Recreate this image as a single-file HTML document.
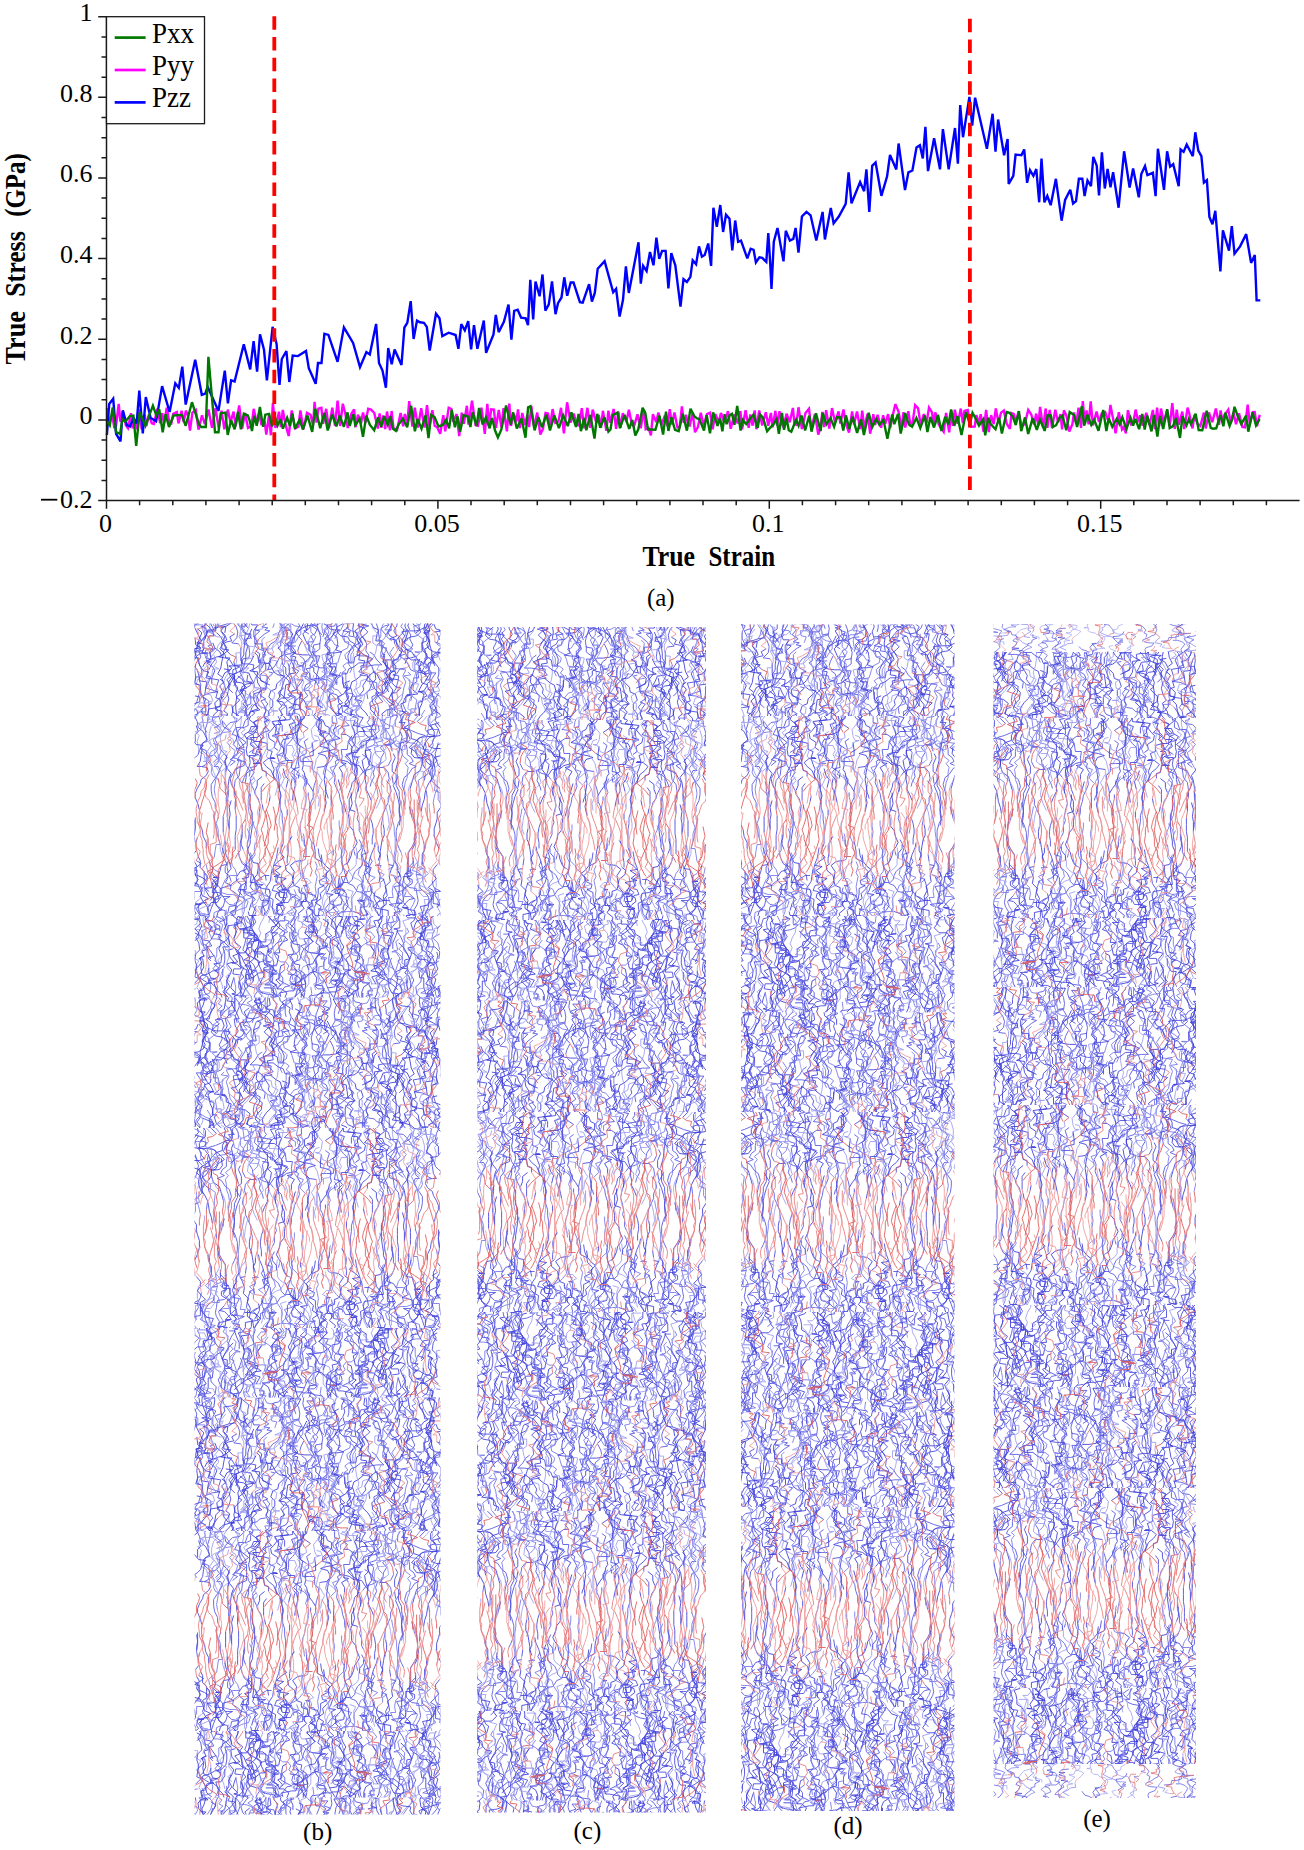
<!DOCTYPE html><html><head><meta charset="utf-8"><style>html,body{margin:0;padding:0;background:#fff;width:1304px;height:1850px;overflow:hidden}svg{display:block}text{font-family:"Liberation Serif",serif}</style></head><body>
<svg width="1304" height="1850" viewBox="0 0 1304 1850">
<rect width="1304" height="1850" fill="#fff"/>
<g fill="none" stroke-linejoin="miter" stroke-miterlimit="3" stroke-width="2.4">
<polyline stroke="#ff00ff" points="106.9,408.1 109.4,423 112.1,414.7 114.2,427 115.9,426.7 118.7,403.8 120.4,421.7 122.9,411.3 125.8,425.2 128,428.2 131,413.2 132.7,428.3 135.1,421.5 137.1,429.3 139.5,409.3 141.6,429.2 144.7,414.7 146.4,426 148.9,414.5 151.8,423.2 153.9,423.9 157.3,408.7 160.2,423.2 162.3,413.1 164,423.4 166.8,407.8 169.4,423 171.3,423.5 173.2,413.9 176.8,412.1 178.5,423.4 181.6,410.7 183.7,422.1 185.8,410.6 187.9,415.4 190,430.7 192.4,412.6 195.8,410 198.5,429.6 202,415.3 204.9,424.1 208.5,409.6 212,427.8 215.4,408.3 218.8,428.4 221.5,410.8 224.4,429.4 227.8,409.6 230.5,422.2 233.6,411.7 235.7,426.4 239.2,405.4 242.1,428.7 245.1,412.9 248,427.9 251.5,426.2 253.7,408.8 257,423.7 258.9,413.8 261.3,424 264.7,422.1 266.3,434.5 269,415.3 270.9,435.3 272.9,403.1 275.4,428 279,411.7 280.9,427.2 282.8,409.9 285.5,424.6 288.7,436 291.7,410.5 295.2,428.5 298.4,426.7 300.4,410.4 303.4,429.3 307,412.9 310.5,414.8 313,425.4 314.6,401.9 316.5,422.6 318.4,408.8 321.4,407.9 323.1,423.8 326.2,408.8 328.9,428.3 332.3,407.8 335,425.8 337.6,400.7 340.2,426 342.8,403.7 345.2,413.3 347.8,428 351.2,414 354.1,409.3 355.7,427 357.9,414.7 361,423.5 363,412.5 365.4,423.1 368.2,408.7 371.1,409.6 374.3,413 377.8,428.6 379.6,413.4 381.4,427.8 383.2,415.4 385.2,429.2 387,411.5 390,430.2 391.6,411 393.5,428.2 397.1,429.9 400.6,412.9 403.2,426.3 404.8,414 407.3,423.1 409.2,401.2 412.4,426.5 414.8,407.6 418,427.5 421.2,408.3 424.6,427.6 427,405.1 429.5,426.6 432.4,410.2 434.7,425.8 437,427.1 440.2,433.8 443.3,415.1 445.2,431.3 448.7,407.8 451.4,409 453.1,421.9 456.6,414.1 459.2,436.1 461.7,412.6 463.8,423.8 466.9,405.8 468.5,424.6 472,400.6 475.5,424.9 478,425.7 481.5,407.7 484.8,433.9 487.3,403.8 489.1,425.1 491.2,409.3 493.9,409.6 495.9,427.8 498.8,410 501.5,427.5 503.5,408.2 506.9,431.4 509.3,403.7 511,425.9 513.9,413.8 516.2,422.1 518,409.3 520,428 522.3,412.9 525,424.9 527.4,414.9 529.1,427 531.3,406 534.2,427.3 537.2,412.6 540.3,434.5 543,428.8 545.5,413 547.9,413.5 550.2,424.7 552.6,409.1 555.3,422.9 558.4,421.7 561,407.8 563.9,433.3 567.1,402.3 570.6,422.7 573.7,413.7 576.8,424.7 579.1,425.4 581.8,408.2 584.2,428.3 587.4,407.8 590.3,427.9 592.7,409.6 596.4,423.1 598.8,415 601,427.7 602.9,410.8 606.4,430.8 608.4,410.7 610.4,422.9 613.6,409 616.1,428.8 618.4,411.6 620.4,427.9 622.8,413.3 626.4,421.6 628.9,409.8 631.8,424.1 633.9,426.6 637.5,414.3 640.7,428.3 643.9,409.8 645.7,429.1 648.5,427.8 650.9,435.3 652.9,414.2 656.2,422.1 658.4,412.6 661.4,425.2 664.9,415.4 667.3,426 669.8,409.1 671.8,424.5 674.5,412.4 677.4,427.4 679.7,427.3 681.9,406.5 683.7,422.9 686.1,414.8 688.1,424.8 689.8,425.6 692.7,412.4 695,432.3 698,426.8 700.8,412.8 703.7,425.6 706.9,414.2 710.1,412.7 712.7,429.4 715.3,413.9 718.8,422.2 720.9,412.9 724.4,422.5 728,411.2 730.7,428.8 734.3,414.5 737.6,423.4 740.4,411.1 742.1,429.4 745.6,410.1 748.7,427.9 750.3,414.4 752.6,425.7 754.7,410.4 756.4,429.2 759.2,410.5 762.2,425.4 765.8,412.2 768.3,425.7 770.9,412.9 772.6,427.4 775.4,410.8 777.1,425.5 779.5,411.3 781.6,423.4 783.3,426.8 786.6,413.7 789.7,422.3 792.9,407.9 794.5,424.1 796.2,424.7 798.5,407.3 801.9,429 805.5,413.1 809,408.8 811.3,428.5 814.9,414 818.3,434.6 820.5,427.2 822.4,411.9 824.1,427.2 826.1,410.2 829.3,428.6 832,408.1 835,422.2 838.6,411.3 840.3,423.5 843.5,409.5 845.6,423 849,432.7 852.1,411.5 854,424.4 857,411.5 860.3,429.1 862.2,410.6 864.3,427.8 867.5,413.7 870.2,433.7 873.3,414.1 875.1,425 877.6,414.9 881.1,427.8 883.1,415.2 885.3,423.6 888.1,414.1 890.2,428.1 893.4,412.6 895.4,404.1 898.6,411.9 901.7,428.6 903.5,412.1 905.3,427.6 908.3,411.1 910.4,424.4 912.7,421.8 915.1,405.1 918.1,408.4 920.6,424.5 923.8,414 926.5,423.2 929,407.6 932,412.4 933.7,423.7 935.3,412.4 938.8,424.4 940.7,427.6 943.7,431.8 946.1,412.9 949.2,432.3 951.3,410.7 952.9,425.9 954.8,409.7 957.7,423.7 960.8,408.6 962.8,423.2 964.4,411 967.7,410.1 971.1,426.8 974.7,426.6 976.4,415 978.8,423.7 980.7,414.2 983.6,431.9 986.1,409.9 988.8,432.2 991.1,415.1 993.7,424.1 995.8,408.4 998.5,423 1001,412.6 1003.8,410.5 1006.7,423.7 1009.9,428.8 1011.6,413 1013.9,414 1015.9,421.5 1018.6,411.6 1021.5,426 1024.8,424.3 1028.2,409.9 1031.2,414.2 1034.1,424.5 1036.2,413.6 1038.3,425.6 1040.1,406.8 1043.1,427.7 1045.7,408.5 1047.4,427.9 1049.7,409.8 1052,428.2 1055.3,409.8 1058.1,422.5 1060.5,414 1062.1,429.3 1063.9,410.4 1066.3,415.1 1069.3,431.5 1072.4,424.1 1074,412.5 1076.2,423.8 1078.6,407.7 1081,427.9 1082.8,401 1084.9,424.1 1086.5,410.5 1088.6,424.4 1090.7,401.3 1092.9,425.4 1096.6,411.6 1099,422 1101.7,413.3 1105.2,412 1108.5,421.7 1110.4,405 1113.6,421.6 1115.6,433.2 1118.8,412.3 1122,429.4 1123.8,427.1 1125.9,433.5 1127.9,410.2 1131.2,424.3 1133.3,422.3 1135.6,409.6 1138.3,422.3 1140.1,415.4 1142.7,425.8 1146.3,412.9 1149.4,424.9 1152.9,409.9 1154.9,429.1 1157.1,407.6 1159,426.7 1161,408.6 1163.8,422.4 1167.1,410.2 1169.6,426.3 1172.3,403.1 1174.8,429 1176.7,409.6 1178.9,424.7 1182.3,411.6 1184.3,429 1187.6,407.6 1189.3,413.5 1192.5,428.4 1194.5,414.9 1197.2,423.4 1200.4,425.9 1203.9,412.6 1205.7,428.4 1208.9,412.4 1212.3,422.1 1215.9,408.5 1219,424.9 1220.6,410.5 1222.7,422.9 1224.5,414.5 1226.3,412.6 1228.3,409.6 1230.6,422.7 1233.5,412.2 1236,424.3 1239,413.2 1242.4,426.9 1244.9,427.4 1247.7,404.6 1249.8,423.8 1252.8,412.2 1254.7,412.1 1257,426.2 1259.7,414.8"/>
<polyline stroke="#0000ff" points="106.9,435 109.2,404 113.2,398.8 116.1,433.9 120.5,441.4 122.8,410.3 127,425.3 130.1,426.4 133.4,417.8 136.6,423.5 139.3,390.7 142.8,433.3 145.8,397.1 150.6,417.8 156.1,421.2 162.1,386.1 169.6,412 175.3,383.3 178.8,387.9 182.3,366.6 185.7,404.6 195.2,359.7 201.8,394.8 205.3,393.6 207.6,386.7 218.5,410.9 224.8,370.6 227.9,403.4 231.1,380.4 234.6,381.5 243.8,344.2 250.2,369.4 253.6,341.2 257.1,371.7 260,334.3 264,349.8 266.9,380.3 272.6,326.8 276.6,344.1 279.5,384.9 281.8,359 286.4,351 289.3,382 292.7,355.6 297.9,356.1 306,351 308.8,368.2 315.7,383.8 318,363 321.5,363 324.4,333.7 328.4,334.9 337.6,361.9 343.9,327.4 353.1,342.9 360,367.1 366.4,352.1 369.8,354.4 376.1,323.9 379,363 382.5,370.5 385.9,387.8 388.2,348.1 391.7,364.3 394.6,349.4 401.5,364.9 404.4,327.5 407.3,322.9 410.7,301.1 413.6,339 417,320.6 419.9,322.3 423.9,322.9 426.8,326.9 429.7,350.5 436,313.7 439.5,318.3 442.3,336.1 448.7,332.7 455.6,335 458.4,348.8 461.3,324.1 464.8,330.4 468.2,321.2 471.1,349.4 474,325.2 477.4,348.8 483.8,320.6 486.1,352.8 493.5,334.4 495.8,314.9 498.7,332.1 503.9,321.8 508.5,304.5 511.4,339.6 514.2,310.8 517.7,309.7 521.1,317.7 525.7,318.3 528,325.2 530.3,279.8 533.2,319.5 535.5,281.5 539.6,296.3 542.5,274.5 545.4,310.7 548.8,304.4 552,281.4 555.5,314.2 558,303.2 561.5,297.5 564.3,277.3 567.2,295.7 570.7,282.5 573.5,282.5 579.9,302.1 582.7,302.6 589.1,284.2 591.9,301.5 594.8,292.9 597.7,268.7 604.6,261.2 613.2,292.3 616.1,288.8 619.6,316.5 623,299.8 625.9,266.4 628.8,292.9 638.5,242.3 640.8,283.7 643.1,265.8 646.6,271 650,252 653.5,265.3 656.4,237.7 659.2,258.9 662.1,250.9 665.6,250.9 668.4,288.3 671.3,253.2 675.3,265.3 680.5,306.7 683.5,279.2 686.9,282 690.4,276.9 692.7,260.2 696.1,264.2 699,246.4 701.9,256.7 704.7,255 708.2,243.5 711.1,265.9 713.4,207.8 716.8,226.8 720.3,205 723.1,232 726,214.7 729.5,218.8 732.3,250.4 735.2,220.5 738.1,241.8 741,240.6 747.3,258.4 750.7,248.7 753.6,249.8 755.9,262.5 759.4,257.3 762.2,257.9 766.3,261.9 768.3,233.1 770.3,264.8 771.5,288.9 773.8,241.8 777.5,228 783.5,261.3 785.8,230.8 789.9,240.6 793.3,238.9 795.6,228 798.5,252.7 801.9,216.5 806.5,211.9 810.6,215.3 816.3,240.6 822.6,211.9 824.9,239.5 830.8,207.9 833.6,223.4 838.8,216.5 845.7,203.9 848.6,172.3 851.5,203.3 860.1,182 864.1,191.2 866.4,169.4 869.3,211.9 872.2,165.9 875.6,162.5 881.4,195.8 887.1,176.3 890,155 896.3,169.4 898.6,143.5 905,190.1 908.4,172.3 912.4,170.5 916.5,147.5 919.9,145.2 922.8,158.4 925.4,126.8 928,171.1 934.1,138.3 940,169.4 942.9,129.1 948.7,169.4 955,128 957.9,163.6 960.2,105 963,137.2 969.4,96.9 972.2,125.7 975.1,97.7 986.9,148.8 992.6,113.8 995.5,151.7 998.1,119.5 1004.1,155.2 1007.6,139.1 1008.7,183.9 1013.3,175.9 1015.6,154.6 1021.4,155.2 1024.2,149.4 1027.1,182.8 1030,170.1 1033.4,175.9 1036.3,169 1039.2,202.3 1041.5,158.6 1044.4,202.3 1047.3,196 1050.7,205.2 1055.9,178.8 1061.6,220.7 1065.1,200 1070.3,189.7 1073.1,203.5 1076,201.2 1078.9,178.8 1082.3,178.8 1084.6,196 1087.5,180.5 1091,186.2 1093.3,156.9 1096.7,165.5 1099,195.4 1101.9,152.3 1104.8,188.5 1107.6,169 1110.5,187.4 1113.1,172.1 1118.6,207.7 1124.1,151.3 1129.6,187.5 1133.1,168.5 1138.8,197.3 1141.3,174 1145,166 1147.4,175.2 1152.9,172.8 1155.6,196.1 1157.9,148.8 1164,189.9 1167.1,151.3 1170.1,166.6 1173.2,164.2 1178.7,186.3 1180.6,149.4 1183.6,151.9 1186.7,144.5 1192.8,156.2 1195.3,132.3 1198.3,150.7 1201.4,156.2 1203.9,182.6 1206.9,180.1 1209.4,216.9 1212.5,224.3 1215.3,210.8 1220.4,271.5 1222.9,230.4 1229,250.7 1231.8,226.1 1234.5,253.7 1240.1,246.4 1246.2,234.1 1251.1,262.9 1254.8,255 1256.6,300.4 1260.3,300.4"/>
<polyline stroke="#007800" points="106.9,421.2 109.8,425.3 112.7,407.4 116.1,432.2 120.1,433.9 122.4,418.9 125.3,421.8 129.9,416 133.4,415.5 136.2,446 139.7,412 145.4,425.8 152.9,405.7 156.4,415.5 159.2,409.2 162.7,432.2 165.6,414.3 169,427 173.6,415.5 181.7,414.9 185.7,425.8 192,402.2 198.9,424.1 201.2,427 205.8,427 208.4,356.8 210.4,379.8 215,432.2 218.5,432.2 220.8,413.2 225.4,412.6 227.7,435 231.1,420.1 234.6,429.3 238,412 240.9,429.3 243.8,413.8 247.8,415.5 249.5,420.1 252,431.1 254.3,415.8 256.7,425.8 259.9,407 263.1,426.9 265.3,414.7 269.1,413.9 272.1,426.5 274.4,415.3 277.6,425.4 280.5,419.1 282.9,428.6 287.1,417.7 290,426.1 292.3,413.4 295,428.7 299.6,419.6 302.8,429.5 307.5,415.7 312.2,431.8 315.3,408.7 317.9,418.3 320.2,428.3 324.4,412.8 327.7,430.5 332.1,414.5 336.4,426.4 339.6,415.6 343.9,426.7 347.5,412.4 349.7,425.9 353.3,414.3 355.3,425.1 359.7,418.6 363,436.9 366.3,415.6 369.8,424.7 374.2,430.2 378.1,417.4 381.1,426.7 384.2,416.2 387.7,424.7 390.4,416 392.7,428.5 395.9,430.8 398.7,424.3 402.9,418.8 407.2,427.2 411.1,405.6 414.9,431.3 417.5,418.9 421.5,428.6 425.6,415.3 428.5,438 431.1,415 434.6,417.1 438.5,426.5 442.9,425 446,419.7 449.1,428.3 451.7,409.8 454.9,427.3 457.6,416.4 460.1,431.7 463.6,415.1 468.2,416.6 470.4,427.1 472.6,412.2 476.6,426.2 479.1,407.9 482.6,424.5 485.9,417.5 489.6,428.3 492.2,417.9 495,430.3 497.9,437.5 501.4,429.5 506.1,405.6 510.7,424.6 513,412.3 516.8,428.6 521.5,418.4 525.5,437.7 528.1,407.4 530.5,406.3 534.6,430.4 538.4,417.2 542,427.3 546.3,414.6 550,430.4 554.3,415.3 558.9,428.1 563.2,415.3 567.8,426.1 571.4,412.4 576,426.9 578.6,413.9 580.9,431.1 584.2,418 586.3,430.2 590.3,414.9 594.5,438.5 597.2,413.8 600.2,427.8 604.4,417 608.4,431.6 610.5,429.5 612.8,415 617.5,412.6 619.9,428.2 624.6,415 629.2,428.8 632.3,419.9 635.3,435.4 638.3,429.3 642.6,407.7 645.3,412.9 648,429.5 650.7,429.5 655.4,429.8 659.5,415.7 663.1,434.6 666,411.6 668.4,430.9 671.4,417.3 675,429.9 678.7,431.2 682.8,413.8 686.9,430.6 690.5,408.7 694.5,416.5 697.1,418.5 699.3,419.1 704,430.5 706.7,415.1 710,433.4 713.1,412.3 717.5,425.8 720.1,418.4 722.4,431.3 724.6,414.2 726.6,424.2 729.8,415 732,413.8 734.4,424.7 737.2,406 740.6,430.5 742.8,419.9 746.2,424 749.3,419.7 753.4,414.7 757.7,427.9 760,414.4 762.9,417.5 767.1,431.2 769.3,428.6 773.2,424.7 776.6,419.1 778.9,433.9 782,412.8 784.1,429.8 786.4,417.9 788.8,430.2 791.3,431.7 796,419.8 798.6,425.7 801.6,415.4 805.1,430.4 809.2,415.7 811.5,431.6 816,413.2 820.6,431 822.7,412.9 826.4,424.3 830.5,418.2 834.1,426.7 837,417.3 840.6,417.5 843.3,430.6 845.9,415.4 849.3,428.9 852.4,416.7 857.1,432.9 861,419.3 863.9,435 868.7,412.7 872.2,427.1 876.2,418.8 879.4,424.9 883.4,419.8 887.4,438.7 892.2,414.4 894.3,424.2 898,414 900.7,433.6 905.1,413.1 908.9,424.6 912.1,426.8 916.4,417.9 920.3,428.1 924.8,415.4 927.4,432 930.4,417 934,427.5 938,414.8 941.4,430.9 945.2,416.8 948.5,424.6 951.1,409.5 954.2,425.9 957.4,416.1 961.5,435.1 966,412.2 969.9,424.3 972.5,412.8 974.7,416.7 979,425.5 983.2,419.3 985.2,435.3 988.2,417.7 990.9,424.4 995.5,429.3 999.1,417.9 1001.9,433.6 1006.6,412 1009.5,412.8 1012.8,416.8 1015.8,425.1 1018.9,411.1 1021.2,431.2 1025,417.4 1028.2,433.9 1032.7,418.1 1036.8,429.8 1040.1,419.8 1044.7,430.9 1047.7,415.3 1050.8,415.5 1053,426.9 1056.1,425.2 1059.6,417.8 1062.4,415.6 1066.3,430.3 1069.7,412.1 1074,414.9 1077.1,426.9 1081.8,406.3 1084.1,425.7 1087.4,414.8 1091.3,424.9 1094.2,419.9 1098.5,430.8 1103.2,410 1106.4,431 1108.7,418.3 1112.3,426.8 1116.8,418.7 1119.6,424.2 1122.3,417.3 1126.4,429 1130.5,417.9 1133.1,425.5 1135.4,418.8 1139.1,429.2 1142.3,413.9 1144.7,429.6 1147.2,415.6 1151.5,431.4 1154,415 1157.4,436.5 1160.1,416 1163.2,428.9 1167.2,409.2 1169.7,428 1173,426.1 1176,418.1 1180,437.9 1182.4,416.3 1186.5,425.4 1188.8,419.1 1191,424.3 1195.6,413.6 1198.7,430.2 1202.3,430.3 1206.7,410.8 1210.7,427.8 1212.9,428.7 1216.2,428.3 1220.5,415 1223.4,426.3 1225.4,412.8 1229.6,425.9 1232.3,419.2 1234.5,406.8 1237.8,416.3 1241.3,424.2 1246.1,415.7 1248.3,431.7 1252.6,412.3 1256,425.3 1259.6,419.1"/>
</g>
<g stroke="#ff0000" stroke-width="3.8" stroke-dasharray="13.5 7.3">
<line x1="274.3" y1="16.2" x2="274.3" y2="500"/>
<line x1="969.9" y1="18.8" x2="969.9" y2="494"/>
</g>
<path d="M106.5 16.2V500.5M98.2 500.5H1299.6M98.2 500.5H106.5M101.5 480.4H106.5M101.5 460.2H106.5M101.5 440.1H106.5M98.2 419.9H106.5M101.5 399.7H106.5M101.5 379.6H106.5M101.5 359.4H106.5M98.2 339.3H106.5M101.5 319.1H106.5M101.5 298.9H106.5M101.5 278.8H106.5M98.2 258.6H106.5M101.5 238.5H106.5M101.5 218.3H106.5M101.5 198.1H106.5M98.2 178H106.5M101.5 157.8H106.5M101.5 137.7H106.5M101.5 117.5H106.5M98.2 97.3H106.5M101.5 77.2H106.5M101.5 57H106.5M101.5 36.9H106.5M98.2 16.7H106.5M106.5 500.5V508.8M139.6 500.5V505.3M172.8 500.5V505.3M205.9 500.5V505.3M239.1 500.5V505.3M272.2 500.5V505.3M305.3 500.5V505.3M338.5 500.5V505.3M371.6 500.5V505.3M404.8 500.5V505.3M437.9 500.5V508.8M471 500.5V505.3M504.2 500.5V505.3M537.3 500.5V505.3M570.5 500.5V505.3M603.6 500.5V505.3M636.7 500.5V505.3M669.9 500.5V505.3M703 500.5V505.3M736.2 500.5V505.3M769.3 500.5V508.8M802.4 500.5V505.3M835.6 500.5V505.3M868.7 500.5V505.3M901.9 500.5V505.3M935 500.5V505.3M968.1 500.5V505.3M1001.3 500.5V505.3M1034.4 500.5V505.3M1067.6 500.5V505.3M1100.7 500.5V508.8M1133.8 500.5V505.3M1167 500.5V505.3M1200.1 500.5V505.3M1233.3 500.5V505.3M1266.4 500.5V505.3" stroke="#1a1a1a" stroke-width="1.5" fill="none"/>
<g font-size="26" fill="#000">
<text x="92.6" y="21" text-anchor="end">1</text>
<text x="92.6" y="101.6" text-anchor="end">0.8</text>
<text x="92.6" y="182.3" text-anchor="end">0.6</text>
<text x="92.6" y="262.9" text-anchor="end">0.4</text>
<text x="92.6" y="343.6" text-anchor="end">0.2</text>
<text x="92.6" y="424.2" text-anchor="end">0</text>
<text x="92.6" y="508" text-anchor="end">0.2</text>
<rect x="41" y="498.8" width="16.3" height="1.8" fill="#000"/>
<text x="105.5" y="532.3" text-anchor="middle">0</text>
<text x="436.9" y="532.3" text-anchor="middle">0.05</text>
<text x="768.3" y="532.3" text-anchor="middle">0.1</text>
<text x="1099.7" y="532.3" text-anchor="middle">0.15</text>
</g>
<text transform="translate(642.5 566.0)" x="0" y="0" font-size="30" font-weight="bold" textLength="52.5" lengthAdjust="spacingAndGlyphs">True</text>
<text transform="translate(708.5 566.0)" x="0" y="0" font-size="30" font-weight="bold" textLength="66.5" lengthAdjust="spacingAndGlyphs">Strain</text>
<text transform="translate(24.8 364.5) rotate(-90)" x="0" y="0" font-size="30" font-weight="bold" textLength="53.5" lengthAdjust="spacingAndGlyphs">True</text>
<text transform="translate(24.8 296.8) rotate(-90)" x="0" y="0" font-size="30" font-weight="bold" textLength="65.5" lengthAdjust="spacingAndGlyphs">Stress</text>
<text transform="translate(24.8 216.8) rotate(-90)" x="0" y="0" font-size="30" font-weight="bold" textLength="63.5" lengthAdjust="spacingAndGlyphs">(GPa)</text>
<rect x="106.5" y="16.7" width="98" height="107" fill="#fff" stroke="#1a1a1a" stroke-width="1.3"/>
<g stroke-width="2.7">
<line x1="114.7" y1="37.6" x2="145.6" y2="37.6" stroke="#007800"/>
<line x1="114.7" y1="70" x2="145.6" y2="70" stroke="#ff00ff"/>
<line x1="114.7" y1="102.4" x2="145.6" y2="102.4" stroke="#0000ff"/>
</g>
<g font-size="30" fill="#000">
<text transform="translate(152 42.7) scale(0.9 1)">Pxx</text>
<text transform="translate(152 74.7) scale(0.9 1)">Pyy</text>
<text transform="translate(152 107.2) scale(0.9 1)">Pzz</text>
</g>
<g font-size="25" fill="#000" text-anchor="middle">
<text x="660.8" y="606">(a)</text>
<text x="317.7" y="1839.5">(b)</text>
<text x="587.4" y="1839.3">(c)</text>
<text x="848" y="1833.6">(d)</text>
<text x="1097" y="1826.8">(e)</text>
</g>
<defs>
<symbol id="tb" viewBox="0 0 250 400" width="250" height="400" overflow="hidden"><g fill="none" transform="translate(.5 .5)"><path stroke="#3838d8" d="M2 95l4 6 0 4 5 4-5 4-5 3-3 7M7-29l-5 1-4 6M11-2l-4 2 7 0-2 7-2 4 1 5 1 7 4 3 1 6-3 6-2 5 2 4-2 4-5 3-7 1 5 0 4 3-1 5-2 5M10 294l1 5 0 6 7 0-6 1-2 6-4 1 4 3-6 0 6 4 0 5 7 0-2 6 1 4 1 5-4 6 2 6-5 3-3 4M9 358l-3 7 7 0-4 0-3 4 2 4 1 5-4 3 1 4 2 5 5 4 1 5-3 3-4 3 6 0 0 7 4 1-1 6M14-40l-4 5 1 6 4 0 4 2-2 7-3 4-6 2 2 6 1 5 5 5-6 0-4 3 1 6 4 4 2 8-5 0 5 0 1 6 5 2 6 4M18 178l-6 2 4 2 2 5-3 6-3 5 4 2 2 4 1 8-5 4 5 2-2 7 7 0-6 4-1 4-2 4-3 3 1 5M19 4l5 3-2 4M19 0l-5 0-6 2 1 6 0 6 5 0-5 6 0 5 4 5 4 5-4 4-2 4 1 6 4 2-1 6-4 4-5 4 6 0 3 6M20 81l-1 4-6 2 4 6 6 1-7 0-2 4 4 2 1 6 2 4 1 7-4 4 1 6-2 4-3 6M21 127l3 4-6 0-2 7-3 7-7 0 2 6 2 3-4 4-1 4-3 5-2 5 5 6 0 7 6 3 3 6M20 190l2 7 4 4-2 4 6 2-5 2 0 4 0 5 5 2-6 3-3 5 3 2 6 4-3 4-4 3-4 5-3 4-5 2 7 2M20 245l4 6 1 7 6 2-1 4-4 2-5 5-6 2-6 0-2 4 2 4-3 6 4 2 8 0 6 1 1 6-7 2-6 2 6 5 3 6 2 7M21 61l2 6-3 4 4 3-6 1-5 4 3 5 3 3 3 6-5 3 1 7 5 2-1 5-1 7 5 0-3 2 2 6 5 5M21 123l2 6-4 6-1 7-3 3-2 3-2 8 5 4-4 6 0 5-3 5 1 7 2 3 6 1 7 0 2 7M21 187l-3 4-4 1-4 2-4 4-5 3 1 4-2 4 3 6 5 5 3 2-4 3 6 4 5 5-3 5M21 363l3 6-6 2 4 2-1 7-4 0 0 5 0 5-2 6-5 0-4 4 6 3 3 3 2 6 5 4-4 6-2 6 3 3-6 1 1 7M30 176l-5 0-6 2-3 3-4 3 1 5 1 4-7 3-2 6 4 0 5 0 3 6-1 5 1 6 6 3 2 5-6 2-4 4-1 4M28 304l-2 6-4 4-3 3-1 5 6 1 2 4 1 4M33 257l-5 4-5 4 3 4 4 0-2 4 4 3-5 1-6 4-1 5 4 4 0 7 7 0-2 6 4 3 2 5 3 4-5 5-8 0-2 3-4 5M34-37l5 1 3 4 2 6 3 5-2 6 3 3-7 0 2 4-7 0-1 7-1 6-1 6-4 3 1 6-4 1 5 1 2 6-2 4M28 92l-5 4 7 1 4 0-4 0 5 1 0 6 5 2-2 8-6 3 0 7 2 4 7 3-5 5 1 6-2 4-1 6M34 204l-2 7-1 6 1 6 0 5-4 4 2 7-5 4-4 1 5 5-3 7-6 2M39 208l-1 7 7 1-5 2 0 7 3 4 4 5 0 6 1 5 0 6-6 1 2 7 4 5-5 5M41 56l2 6 4 0 0 6 0 4 4 4 0 6 3 6 3 6 4 3-5 2-4 5-5 3-1 6-6 5M40 260l-1 5-1 5 5 1 2 5-3 3 2 5M42 345l-5 5-3 5-3 6 5 1 0 6 4 2-7 1 3 4-4 3-2 7 0 5M42 40l-1 5M49 62l7 0-1 5-5 6-5 1 2 6 2 5-4 4-5 1 5 5 4 0 3 6-5 4M50 242l-3 7-5 2-2 5-2 4 5 0M46 267l-5 5-6 2 1 5 4 5-4 2 5 1-3 5M56 56l2 4-1 4-3 6 1 5-2 5-4 2 3 5-4 5 1 4-1 6-2 4 6 2-4 3 6 1 5 4-2 5-1 6M56 349l3 5-2 4-1 7 7 2 4 1-7 0-3 4-1 5-4 5 0 7-3 6-7 1 4 5 3 3 1 7 3 6 2 5M58 128l8 2 0 6 2 5 3 2 0 4-1 5-1 4-3 5-2 4 2 6 1 5-3 4 4 3-5 3 3 3 3 6M74 245l-4 3-1 5-3 5-5 5M58 313l0 6 5 4-2 4 3 5-2 6 0 4 1 6-1 6M61 369l6 2 3 2-7 1-4 4-3 2 5 5 2 6 1 5 2 4 5 5-2 5-1 4 4 4-6 3-4 4 3 6M62 299l-5 1-3 6 1 6 6 1-2 3 0 7 3 5-4 4 0 5-8 1 2 4 1 4-1 5 7 0 2 7-4 5 6 2 1 6M63-19l-4 3 3 6 3 7 4 0-2 5 3 2-3 6 5 4 5 0 5 4 1 5-2 7M66 23l4 2-3 5-5 2 2 5 1 6-6 0 0 5 0 6-3 5 2 5-3 3-2 4 5 2-5 5-5 4 5 0 3 6-4 6M66 73l-1 8 3 4-2 6-4 4 4 5 5 5-1 7-4 4-2 5 4 5 6 1-2 7-2 4 1 5M69 157l-5 1 0 5 1 6 3 5 4 2 2 5 2 7-7 2 1 4-3 3 3 3-2 4-4 1-1 7 2 5M68 74l-4 2-3 6-6 3 4 3-1 7 7 0-3 4-4 5M70 348l-4 6-1 5M64 204l5 5 0 7 0 7 4 0 4 0 4 5 4 2 2 5-4 3M75 132l4 6-1 5-3 6 4 6-4 2 3 5 1 5-3 5 1 5-5 0-1 4 5 1 4 1 1 6 1 5 2 7M73 194l-5 3-5 2-1 6-4 4-7 2 6 1 5 1 1 4 6 1-4 2 3 4 0 5 2 6-4 4-6 1-6 4 6 1 2 7 0 6 5 4-1 5M74 259l-3 5 0 6 7 0-3 3 1 8 1 4 0 7-5 5-3 4-6 2 2 4 1 5 0 5 5 3 3 5M77 157l1 5-1 4-5 5 2 3 1 4 6 2-7 2 0 5 0 5 6 1-2 5 4 4 6 2 5 0 3 4 2 5 2 5-4 3-2 6M76 267l3 5 3 2-7 1 1 7-3 3 3 4-1 7 3 5 3 4 2 6-4 6 2 4-5 0 7 1 4 3-3 2-1 6M78 395l0 6-1 7 4 2-5 1 7 3-4 4-5 2 1 4 2 6 0 5-5 3 1 4-4 0 4 3-3 4 2 5 2 6M84 13l-1 6M78 0l1 7-5 3 5 3-5 5 0 6 6 1M79 38l-4 5M79 77l6 5 4 2 2 7 4 2-1 6-2 5 5 4-5 1 5 5-4 2-7 1-2 4 7 3-7 1-4 2 2 6-5 0-2 7M79 367l-3 4 3 4-2 4 4 1-3 5-7 0 6 4 2 5 0 7-1 7-3 7-1 7 2 7 1 4-2 6M81 55l1 7-6 1 2 6M74 148l5 3-1 7 3 4-2 5 1 6 2 6M83 292l-4 4 5 1 6 3-2 5-1 5 7 3-7 0 2 5-3 5-6 1-3 4 5 4M87 24l1 7-1 7M84 98l2 4-7 1 3 3-3 5-4 4-4 6 1 5M102 169l0 6M92-50l0 7 6 2 0 6M93 5l-4 4 0 5-6 6M91 83l5 2-2 4 0 6-2 4 4 6-4 5-4 2 3 7-5 1 1 7-8 1 2 6-5 6-4 0 0 4 5 4M86 262l-7 3 2 7 1 4 6 3-6 0-1 6-1 7 2 7 0 6 2 6 5 5-5 3M95 273l-2 4-2 4-5 2-1 5-3 4 4 2 2 5-4 3 5 4-3 4 6 2-2 5 4 6 3 6 2 7M96 393l-4 6 0 4-3 5-4 5 5 1 4 2 4 4M98 24l-7 0M98 79l0 7-4 5 3 5 6 3-1 6-3 3 4 6-6 5-4 0 1 6-6 2-5 0 0 4M98 321l4 5 3 6-3 6-2 6-3 5 2 4 0 6-1 4 8 1-6 1 4 1-6 2-1 4-7 0 6 2 2 6 1 4M104 142l-4 4 6 2-5 5-2 7-2 5-1 5 6 4 4 2-2 7 6 1 5 3 4 4-3 3-4 5-3 3-5 0-2 5M108-54l-2 6-3 4-1 5-6 5-3 2-2 7-1 7 4 2 7 1 5 5-6 1 1 6-2 6 2 4 0 5M107 370l-4 0 0 6-8 0 5 5-3 5-6 5 2 6 2 7 1 3 4 6 4 4-5 2 6 3-1 5 3 7-5 5 4 6M108 341l-6 4 2 4-3 4-3 5 4 6 3 5 0 6-4 3 0 6 5 3-6 4 5 3 2 7-2 4-1 4 4 3M112 138l-5 5-6 3-6 4-1 6 0 5 5 2 4 1-2 7 4 5 6 0 0 5-5 2-4 1-3 5-2 4 1 6 1 5-1 6M114 265l-1 4-3 5 0 6-5 1 5 5 6 1 4 4 0 6 1 6 0 5-5 4-1 4-5 5-4 4-2 5 2 4M118 204l-2 6-4 5 0 8 5 4 1 5 2 5-1 6-1 6 0 4-6 1-2 6-1 6-2 6M118 321l-6 4 3 6 0 6-5 4 1 5-1 5-1 7 2 7-2 5-4 0 1 6 4 6-6 2 2 5 7 1M118 397l3 3-1 6 2 4-3 4 5 4-4 5-1 4 5 0-4 4 0 6-2 4-1 6-4 6 2 4 3 4 3 6M115 137l0 6 1 4 1 5-7 2-4 3 2 3 8 1 1 4-3 3M123 402l2 3 2 4 2 4 2 4 5 5-5 3-4 3-1 5-7 0-1 7-4 5 7 1 4 0 2 6 6 0 3 3-3 5-4 4-5 0-3 4M124-1l-1 4 1 5 6 0 4 3-3 3 6 4-4 7 1 7 4 4-3 7-3 5 0 4-3 4 3 5 5 4 1 5M125 115l4 5 5 3-6 1-4 5M127 20l5 3-4 4 6 1 4 2 5 4 4 5 2 6 0 7-4 4-7 1-6 0-5 4 4 7-4 2 0 4-5 5 0 7M128 374l-4 6 1 7-7 1-1 7 4 0 4 4-2 5 0 6 3 6 0 7 0 5-2 3 3 5-3 4-5 4 0 5M131 217l6 0 7 1 1 4 2 5-1 7 5 5M134 244l1 7 6 4-1 5-4 5-2 6-2 7 7 4 0 5M133 121l-4 2-1 5 3 5 3 4 5 6-3 4 6 3-3 7 3 3 1 6 3 6 4 3 1 7-3 5-6 1-6 0 4 2M132 233l-1 6 2 7-6 3 4 7-3 5-1 4 1 7 5 5 7 3 2 4 2 7-6 0-2 4 1 7M136 23l2 4 2 4 5 3-3 5-3 3M141 436l-4 1 3 4M139 94l2 6-4 2-2 4-1 5M131 117l4 2-2 5 4 6 1 5-4 2-4 0 5 1 5 4 3 4 4 2-2 5-3 4 4 5M137 191l-7 0 2 4 2 6M143 215l-4 2 4 0 1 8 4 2 2 6-3 7-1 4 4 4 0 7M153 376l-7 1-5 3-2 6 0 4-3 5 1 4 3 5 1 4 6 4-7 3-2 7 6 1 0 6M149 69l-4 6 7 1M150 135l-6 2M151 32l6 1 0 5 3 5 0 5 3 2-4 4 0 6-1 7-3 3 0 6-4 4-1 6 5 1 1 7 1 7M153 276l-3 3-3 6-3 5-1 6-1 6 2 7 6 4-5 4 3 5 3 4-5 5 3 6-2 6M153 0l-5 1-6 0 3 6 5 5 3 7 7 0 1 7-3 4-5 0-5 6 2 4 0 7 0 7-5 1 5 3-5 1 2 7 0 7M156 366l4 2 1 5 0 7 4 2-5 5 4 4-5 0-5 4 2 5 0 6 4 2-2 4 3 2-4 3-5 3 1 4 3 7-4 2M157 90l5 4-1 5 3 4-6 1-4 6 0 7M150 127l5 2 4 6-3 5-6 3-1 6-1 6 1 6M147 177l0 6 1 4 3 3 1 4 7 0 4 1 5 0 3 6 0 7 6 1 4 6 0 5 3 6-6 0-7 1M162 219l-4 5 4 3 2 6-2 4-3 7 3 5 2 4 2 7 5 2 5 2 4 6-6 0 0 4M161 271l1 5 7 0-2 5 3 5 5 2-7 0-6 1-4 3 1 6 2 4-4 4-1 5 0 6 6 1 1 4-2 6 3 4 5 4-2 6 1 4M163 72l-2 4-6 4-3 3-1 5 2 4-4 4 3 4 7 0 4 3-4 5 3 3-4 6 4 2 0 6 2 4 3 6 3 6M166 58l4 3 2 4-3 5-2 4-4 3-7 1 4 4 4 4 1 5 5 2 2 6-4 4 0 5 4 5 0 7-1 8M171 131l5 3 3 6 1 6-1 7-5 1-4 6-2 5-4 0M165 284l3 3 2 5 0 7 1 7-5 0 1 7-1 7-3 5 4 5 3 5-7 0 5 4 2 6 5 4 7 1 2 5-1 5M170 304l1 5-7 1-3 2-5 3 0 8 5 0 4 5 4 1 1 4 5 3 0 8 7 0 1 5 4 5-7 0-6 5 0 6-6 4-2 4M172 138l5 4-5 2 0 6-1 5-2 6-3 5-4 5 5 4 0 4 0 7 3 4 1 6M175 244l1 5-1 5 1 6M173 318l-4 4-3 4-4 4-6 4 1 4-4 4 5 2 4 5-1 6 6 0-5 3 1 4 1 5 5 1 2 4 6 0-5 3-4 2 4 5-6 4-3 5M180 96l0 4M174 214l-4 2 7 1-2 6-6 1 5 2 3 6-1 5 3 4 6 3-4 2-5 2-5 1-5 1-2 4-6 1 4 5 2 5-4 3 4 4 5 1-2 4-1 5M177 390l-7 0-3 4 0 5 4 2-3 3-3 5 7 1 3 2 1 7 1 4 4 1-1 4 0 5 1 4 2 4 2 7 0 6M178 56l-1 7-2 4 0 5 6 5-1 6-6 2 1 7 4 0 5 6-2 5 4 4-5 5 4 1 6 1 1 5-2 6 2 4M178 361l-2 6-5 1 6 2 0 8 2 4 2 4 4 4-4 4-6 2-7 1 2 4-3 5-6 0 3 6-4 3 3 5 3 3-2 3 5 3 7 1 6 0-3 6M186 55l-3 3-1 7-6 0-5 1 2 6M182 312l4 1 2 4 1 6 1 7-4 5 0 7 3 6 0 6 4 3-4 2-6 4-2 6-3 6 4 0 5 4 5 2M185 53l-4 3 1 5-2 5 5 4 6 3-8 1 1 5-1 6-3 5 1 4 6 2 0 6-2 4-2 5 6 2-3 2 5 5 0 4M186 247l-1 4 3 3 6 3-1 6-3 3-4 5-5 1-4 3-1 5 1 5-5 5-1 7M185 351l1 4 0 5-5 4 2 4 4 4 3 4 5 1 1 7-4 4 4 4 2 6 5 3-2 5-3 7M187 58l3 6 3 3 3 4 6 3 5 2-1 8-7 1-5 5 7 3-3 3-3 7 3 3-3 3 0 5 2 6M188 285l2 6-5 2-1 4 3 6-3 3 6 1-2 4 3 2 3 5-3 5-1 5 2 7-6 4-6 4 0 5-7 0-1 7M188 351l-3 6 3 5 4 3 4 3-6 0 3 6-1 5-2 4M189 31l3 7 3 6-2 4 2 7 0 6 2 7 3 6-8 1-2 5-3 5 7 1 5 3 0 7M193 198l-3 5 6 2 3 5 0 5 1 5-4 6-7 0-3 6-2 6-1 6 4 5 1 4 5 4 1 7M198-33l3 4 6 0M188 11l2 6-1 6 5 2 3 5M197 330l0 5 0 5-8 1 4 6 2 7-4 5 1 4-2 6-1 6-2 4 1 5 4 4-6 2M203 78l-5 4-2 7 3 6 5 4 1 6 0 6-1 7-3 4 7 1 4 3-2 5-1 5 3 3M204 316l5 1-5 4 0 7-4 4-6 0-6 1-4 5 0 5 6 1-1 5 4 1 3 5 7 0-4 4-2 5-3 5-2 5-1 5 4 4-2 6M206 78l1 6-4 6 2 5-1 5-3 2 4 4 3 3 0 5-6 4 6 2 4 5-3 5 4 5 2 6 0 8M206 350l-3 6 5 2-5 6 6 1-5 1-3 3-7 3 1 5-1 5 3 4-2 6M200 50l0 5 0 5-1 7 7 1 6 0-3 2 4 5-7 2 3 6 4 6M207 380l2 6 1 4-5 5 4 1-7 2-7 0 1 4 3 7-3 4 7 3-2 8-3 5 4 3 0 7-2 6M211 17l-3 7 6 4 6 2M219 34l-3 3-2 5 5 3 0 6-7 1 5 4 5 3-6 1-5 0 3 4-1 5 0 4-3 6-6 4 3 5M209 107l-1 6 1 4-1 4 2 4 4 5 5 5-1 5M214-32l4 2-1 5 1 4-6 3-2 5 2 4 5 6 3 5 2 4 0 7-1 5 2 5 0 5-8 1 1 6M214 148l2 5 2 5-1 4-5 4-3 6 5 0-5 4 3 5 0 6 0 4 3 5 7 1 1 5-5 0 1 4 5 4-1 5-3 4M214 296l-2 4 1 5 1 5-4 4 5 5-1 7 3 6M208 351l4 1-1 7-4 5 7 2-5 6 2 5 3 5 0 7 4 5-5 5M224 35l-4 4-3 6-3 5 3 3 1 6 1 5 1 6 3 6-4 3M217 71l-6 1 5 3 3 6-3 7-1 5 3 4 5 5 3 3-1 7-6 1 0 6-4 5-7 1 4 0 7 2 5 4M218 198l4 4-1 6 2 3 2 7 5 2-3 5-5 1-1 7-6 1-4 5-4 5 7 2 1 7 0 5 6 0 4 4 1 6 7 0-1 5M221 81l-4 3 4 4-3 6 2 3-1 4M221 202l2 4 5 6-5 3 2 5-4 4 5 1 5 3-6 4 0 4-5 1 1 4-6 0 2 6-7 1 1 7-3 5 4 0 4 4M237 292l-6 0-3 6 2 3-2 5-2 4 4 3 1 5 5 4-7 1-4 3-4 2 0 5M217 98l3 4 1 7 4 0-2 4 4 4 1 6 2 7 6 0-4 4-7 1-2 5-5 4 6 0-6 2 8 0 4 2-6 1 3 4-5 4M229-13l2 5-1 4-2 6 1 7 5 5-1 4 3 4 6 3 5 3-2 4-2 4-3 6 4 3-6 1 0 4-7 1-5 0 5 4M228 45l-2 5-5 4-2 4 5 1 5 2 6 2-5 1 4 1-6 4-2 4 3 7 0 6M229 105l4 3M231 129l6 0-7 2 3 6 7 0 3 5-5 2 1 5-2 4 2 5 2 4 3 4-1 5M250 172l-2 4 0 6-2 5-7 1-7 0 6 3 2 5-3 5M244 199l-4 3-2 5-6 5-3 6 3 4 4 7 3 2 5 4-1 4-5 3 0 7M227 290l1 5-3 6M243 130l-4 5-5 1M240 152l-6 2 7 3 4 5 4 1 2 7-7 3M-1 256l4 3-4 3 0 6M243 31l-4 4 3 7 1 4 0 4 4 1-2 6 4 4-1 6-4 4-2 6-1 6-7 1 1 5 1 8M240 146l-4 2 3 4 1 6 6 0-4 3-1 5 3 3 1 6-5 5-5 1-3 6 1 3-3 7 5 1 4 6 0 6-4 5 2 7M246 39l-1 8-5 3 6 1 1 5 0 4-5 0M246 98l-5 1 0 5 6 2 5 2-2 5-3 4 6 5-5 3-1 7-3 4 3 6-5 4-4 4-5 5-1 7 0 5M245 210l1 5-3 7-5 2 1 5 6 1-7 1-1 6 2 7-6 3-3 5 8 1 5 3 5 3-2 4-3 6-4 4 3 6M251 293l-7 4-1 4 4 5-1 6 1 7 2 7M246 335l-6 3-2 6-1 5-2 3 4 1-2 5 4 2-2 5 1 5-1 6-6 3-1 6 5 4 5 5-1 5 0 5 1 6M2 397l2 4-4 6M-1 441l5 3-2 4 1 4 5 3-1 5 3 5M251 110l-5 2 3 5M251 154l-5 1-4 3 5 4 5 1-1 5M248 173l-3 4-1 5 4 5M2 248l4 5 4 4-2 4 1 5 3 3-6 4 6 3-4 3-4 5-1 6-3 4 5 1-6 4 4 1 5 2 6 2 3 4-4 2 3 5-4 2 4 4"/>
<path stroke="#5252e0" d="M4 35l-3 7M243 125l3 5-2 6 3 3 3 3 1 5-5 4-3 3 3 4-3 5M2 157l4 6 6 3 0 5-6 4 4 3 7 1-7 1-2 4 4 5 1 8 1 4 3 3-7 1-2 3-5 2-3 3 3 5 0 5M247 221l-5 3 2 5 1 4 7 3-1 5-1 6-7 4-2 6 3 2 2 5 2 5-2 6 1 6 1 5M1 390l6 3 4 5 6 2-5 3 3 5M3 392l-2 6 3 3 2 7 3 3 4 3 3 5 0 7-6 2 4 5-3 6 5 6-4 2 3 4 2 4-6 1-5 1 7 1-2 7M3 4l-6 2M247 6l-2 5-4 5-5 4-5 1 6 3M4 109l4 5 2 4-4 6 3 4-2 5-5 1 4 5-7 1-1 7 0 4 2 3 6 3 5 5-5 4 1 7-1 5M11 205l-1 5-5 0 0 6-6 1 4 3-5 2-1 7 2 6 6 0 5 2 7 1-6 1 4 6M248-22l-5 4 3 4 2 7 5 4M6 44l-5 2-3 4 4 1 0 5 5 2 1 4 5 4-1 4 0 5-7 0 4 6M9 209l2 5-1 4 4 5-1 6-5 1-4 3-1 6 5 4 2 5-1 7 4 4 6 3 2 5 1 5 2 4-4 1-3 5M9 263l0 6 0 4-3 4 4 2 0 5-2 5-5 1 0 7-4 6 6 0 4 2 6 2-2 7 4 3 4 5-7 0-2 6M7 390l3 5 5 4-4 0-4 5-7 1-2 5 2 4 4 0-1 5 5 0-4 1 4 3-3 2 1 6 1 5-3 4-1 6M9 58l1 7 2 7 5 3-6 1 4 6-6 0 5 4-2 6-5 0 2 5 4 2-5 4 3 4-2 7-1 5-3 3-1 7M10 185l0 6-1 7 2 6 5 2 3 6-4 2-5 4 6 4 3 4-2 4M13 204l2 6 3 3-5 3M18 217l0 6 2 4-2 4 1 7 4 2 1 8 2 3-3 7 6 2 5 3-6 2-2 5M1 165l6 3 5 0 2 4 0 6M15 233l7 3 4 2-3 3 0 6-1 6 6 3-5 1M26 271l5 2-7 1-4 1 4 1-2 5-2 6 2 6 5 4-3 5M17 359l-1 4-3 3 2 7 4 4 1 7 5 5-1 7-4 4-1 4 6 1 1 6 5 1-1 5-3 4M19 271l-4 3-6 3 6 0 2 5 5 5 2 6 4 4 5 5M25 171l0 5-5 2-1 4 0 4 1 6-2 7-2 4 1 4-5 6 5 0 4 6 7 1 5 0 0 4-3 7-5 4 0 7M27 56l-4 6-3 2-6 3 3 3 2 4 4 1-1 5 5 0 1 5 3 6 0 6 5 3 2 6-3 7-4 3 0 5M29 246l2 4-1 4 2 4 5 1-4 0-1 4 5 5-1 6-2 5 2 5 0 5-6 3 0 5 1 4 5 2-4 2 4 5-4 4M32-44l5 5-3 5 3 4 3 4 3 5-1 5 5 3-4 4-1 5 2 4 4 5 0 4-2 5-2 4 2 7M40 207l1 5 0 5 7 3-4 5-5 4 6 2-6 3-3 5-6 1-6 1-2 6 0 4-3 6 3 3-6 2-3 2 7 1-6 4 3 7M34 31l-4 6 1 4-3 6 2 4 6 1-1 4 6 2-5 4-3 4-3 6-5 2-1 5 0 5 4 2 2 6-1 6 1 5M38 333l6 0-4 6-3 7 0 6-4 5-2 4 3 4-1 7-3 5-3 5 3 7 4 4 7 2 5 5M35 70l6 1 3 5 4 1-6 1 1 6 2 7 4 6-1 5 1 6M45 280l4 0 1 6-2 6 2 5 4 6-4 0-1 7 5 3-3 3-6 1-3 5 4 4 3 4 4 5 5 1-2 5M42 397l1 5 0 4 4 4 0 4 1 6 2 8 0 5-6 5 0 4-5 4-2 7-2 3 5 5-3 4M51 178l0 4-4 6M49 305l3 4 2 6-3 4 2 5 1 5-2 5-5 1 3 6 1 6 3 7-3 7-2 6-2 5M61-20l-6 2 3 5 6 4-5 1 2 5-6 4-3 4-3 4 2 6 4 4 0 5-3 3 4 1 4 3-5 6M51 79l6 2-4 4 0 7 3 3 7 3 3 5-3 4-1 6 1 5 6 4-2 4-2 6 3 6 3 4-1 5M51 108l0 7 1 7-3 3 1 4 4 1-2 4 1 5M63 359l1 5-1 5-3 3-6 5 7 0 4 3-2 6M60-47l-2 7-6 1 3 3-7 3-3 6 3 3 6 1 4 3-1 6 5 1-3 3 4 0 0 5 3 5-3 4 7 2 1 6-4 1-4 6-2 6M60 9l5 4 4 2 3 6-7 3-2 6-1 7-1 5 0 5-6 4-2 4-4 6-1 6 3 4 5 4M64-41l4 5M68-40l5 5-5 1-4 5 2 5 0 6-7 3-3 3-4 5 7 1 1 4 4 1 1 5 2 7-3 5M71 54l-4 3-3 5-5 5 7 0 6 1 7 2 3 4-5 1 4 2-7 1-5 5-5 2 0 6 1 6 4 2-1 6-3 5 2 7M71 347l-4 6M73-41l-5 4 4 1 0 8-4 5 5 2-6 4-3 4 2 4-2 4 6 1-2 4 2 6 5 3 0 5-5 1-2 4-6 2M74 26l5 1-7 1 6 2 3 6-4 5-3 5 1 7-3 4 1 6 1 4 6 1-1 7-6 2 1 6-6 1 3 7 3 4-1 6M72 387l-4 6 5 0-2 7-4 4-2 4 3 3 0 5 3 4-6 2-3 4-3 4 4 1 0 5-2 5-2 4 5 0 2 7M76-22l-2 4-4 5 6 1-2 3-3 4 3 5-2 4-6 2-4 2M74 67l0 5M75 185l-1 7 7 3 3 2-1 6 6 1 4 5-1 4-4 3-1 5-6 5 3 4 0 6-5 1-2 6-4 4 6 3M81 310l6 4 1 4-5 1 0 6 1 5 5 6-6 0-2 4 7 3 1 7 1 7 5 4-3 6-5 3-2 4-4 3-1 7M84-11l-7 1 1 5 4 3 0 4 4 4-2 5-1 6 4 2 7 4-1 7 5 3-7 1 1 4-6 1-3 4-2 7 3 4M82 117l4 5 2 3-1 7M82 176l3 3 2 6 2 5-5 0 7 1-1 6 1 5-4 3-1 4-2 6 0 5-3 3 8 2 1 4-3 4 2 7-6 3M85-32l-2 6 4 4-5 1 2 3-3 5 2 4-4 1-2 6-1 7 0 6 6 1 2 7M85 154l-1 5-2 6-1 6 4 1 2 4 6 2-6 5 7 0-4 1-4 5-2 3 0 4-5 1-4 4 2 6 2 7 1 6-6 4M87 338l-3 6-5 5 7 0 0 5-4 3-5 5 1 4 4 4 3 3-6 1 7 1-2 4-1 6 0 8-1 5-3 4M88 232l4 6-3 4 0 6-3 4 0 5 0 4-3 4 7 2-6 1 5 3 3 6-4 4-5 2-4 5 0 7 4 3-5 2M93 133l-1 7 6 2-5 4-7 3 0 7 2 5 3 3 6 1-1 6 5 0 5 2-4 2-6 3 2 6-4 3-3 4 1 7 4 4M91 191l-3 5 2 3 3 6-7 2 0 6 0 7 1 7 7 1-3 5 4 7 4 5 4 4-4 3 4 5M90 318l2 5-2 5 5 0 0 5-1 6-4 4M93 374l-1 4-4 2-2 6-3 5 2 3-2 7-3 4-4 4-2 7 7 1 2 4 1 4 6 1-2 6 5 0 1 5 3 4 3 3 2 7M97-37l-3 4 0 6 3 6-3 5-5 2 4 6-3 5 4 1 2 3-5 3 3 6-5 0-3 4 4 4-2 5 5 1-6 2M98 200l4 5-4 5-2 7-2 3-4 1 0 5 5 4-2 5 4 6 4 2 4 2 2 6-4 3-6 3-2 3 5 4 3 4 1 5M99-49l-2 7-6 2-3 4-3 6 5 0 6 1-1 6 4 0-2 4-3 3-1 6 2 4 5 3 2 4-7 2-1 6 0 6 1 4M101 199l0 5 1 4 3 2 5 3-3 7 6 2-2 5-2 5-1 6 1 6-5 3-7 2-4 2 1 5 3 4M102 256l1 5-7 1 5 0 6 2 4 2 6 4-1 5 4 5-4 6-7 1 2 6-4 3-1 4 0 8-2 4-1 4-5 4M99 321l2 7-7 2 5 3 1 6 5 1 6 4-4 3-4 2-3 6-3 5-4 5-1 5 1 6-4 3-4 2 3 6 4 4 5 4M104 84l5 5 5 3-4 3-6 2-3 5-3 3 5 2-1 6 0 6 4 6 5 3 1 4-5 1 3 4-1 4 2 5-4 2M102 256l2 4-5 0 7 1 4 2-1 6 4 6 2 5-2 5-1 4-1 6 4 5 1 5-2 4-2 3-2 7M113 24l7 1 4 2-2 6-2 7 1 6 6 1 1 5-1 6-6 0 2 6 4 4-7 2-6 0 1 6 5 4 7 1-6 0-5 4 4 5-5 5M113 321l0 6 1 6-5 5 5 2 2 4-2 7-3 4 1 5 0 6-4 2-6 3-2 5 3 6 5 0 4 4M115 355l5 6-4 0 1 4 0 6-6 2-1 4 5 4 4 4 7 3-3 3-7 0 4 3-2 5-3 4 4 4 2 7-4 1-2 4M113 14l-6 1-3 6 2 7 6 1 4 4 2 6M117 26l-4 2 4 4-4 5-2 6 4 4-4 3 0 6 4 1-1 6 3 6-1 5 0 6 4 1-6 1 0 5 2 5M121 45l0 6 4 3 4 0-5 5 0 6-2 5 2 7 1 6-3 6M126 362l-2 7 5 4-7 2-3 4-3 4-2 5-3 7 7 0 6 2 7 1 2 4 0 7 2 4-1 5 2 5 4 4-3 5M126-36l2 3-1 7 7 1-5 3 2 7-6 2 3 6 5 2-5 3 2 5 6 0-4 5 6 2-4 4-3 4-4 1 2 6 3 6 5 2-5 3M131-25l4 2 2 4 2 6 2 8-5 0-5 3-2 7-2 6-2 5-1 5-1 6 6 1-6 4-4 5M135-6l-1 4 5 1 1 7-2 6-6 2 5 1-6 2-1 5-5 1 2 4-4 3 3 6 4 2-3 6 6 0-2 4 0 5-3 6-2 5M133 175l5 4-1 6-1 4 5 4-6 5-2 5 3 4 3 7-5 0-1 4 5 5-2 6 0 6-2 5M138 319l-5 0 0 5-5 0-2 4 2 6 2 6 7 1-2 5 5 2-3 3 2 4 2 7 4 1 3 4 2 5-6 0 2 4 4 2 1 5-4 4-7 0-4 6M139-19l5 2 2 4-5 4 5 6 4 0 0 5-4 4-2 4-1 6 1 7-3 5 3 4 2 6 1 7 6 0-1 7M139 43l3 6 1 4M141 58l-4 3-2 6 2 7-4 1 3 5-6 4 5 3 2 5-4 6 4 3 4 6-1 6M126 327l6 0 0 6 4 2-5 5-4 4M145 388l-6 0 5 5 1 5M144-46l5 3-4 2-5 3-2 6 6 3-6 1-3 5 3 7 3 4 0 6-1 4 7 2 1 5 1 5-2 6M144 21l5 1 4 5 4 3-4 5 1 4-4 3 3 3 3 3-7 0-4 6 7 2 4 1-5 5-7 1-1 4-5 1 5 1M143 191l3 5-4 4-5 0-4 4 2 5 2 6 4 4 1 6 6 0 3 7 2 5 3 6 5 4-6 3-5 2M144 252l-3 4-6 0-3 3M145 54l5 4-1 6-3 7-4 2 5 6-2 7-1 6 5 1 4 4-7 3 0 7 6 3-5 0-1 6 7 0-3 5-2 5-1 6M146 187l-5 1M146 242l4 2 0 5 4 2 4 6-3 6-5 0-4 0-4 5 4 6-1 5 0 4-4 4 1 5 5 0 2 7 4 3 3 3M148 188l0 5-1 4-4 6 5 1 2 6 1 4-4 5 6 4 0 5 6 1 3 5-2 4 4 3-5 1-4 6-3 4M152 217l0 6-1 4-5 1-4 6 5 0 0 4 2 6-4 4 6 3-6 2 5 0 7 1 0 5 5 3-6 2-2 6 3 7-5 5 2 6 2 5M150 402l-6 1 0 5 4 4 3 6 2 6M154 297l0 5 3 7-4 5-7 0-5 1 4 6 2 5 3 4-2 6-3 7 5 1-1 5-2 6 4 5-3 4 2 5M159 148l2 5 6 3 2 4-5 4-1 7-7 0-1 6-3 7-1 5 3 7 4 5-1 6 4 1 5 1 4 6M153 65l-2 6 1 6 4 4 2 6 2 6 1 6M161 338l-2 5 5 2 4 5 5 2 1 5 2 6-6 1 6 2-6 1 0 5-6 1 5 3-5 0 6 1 0 6 6 4-6 0-1 7-4 4 4 6-5 3M164-43l-1 5-4 2-5 3-5 4-5 2 2 5 6 1 5 6 4 1 1 5-6 4 4 3 4 6 5 1 2 6-6 1-3 3-3 7M164 136l6 1 4 6 0 5 4 5-3 2-7 1-4 5-4 4-1 6 4 6-7 2 4 6 5 3 6 3 7 2-4 5-6 4M165 258l-2 7-2 3-2 6 0 7 1 7-2 6 1 5 3 4 5 1 4 3 1 7-4 1 4 5-6 5M156 372l5 4-3 4 0 5 3 3M165 223l2 5-3 4-5 2 0 7 0 4 5 4 1 6 5 2-1 6M161 268l-6 5 6 0 2 6 6 5-1 5-4 1-2 5M168 348l1 4 4 2-4 0 4 3-5 4-1 4 1 7 2 5 2 4M171 5l-5 4 3 5-6 4-1 5-3 6 3 6 1 4 2 4 5 3 3 4 0 5-7 4 5 1-1 5 7 1 2 4M168 125l5 0 1 6 4 2-5 2-3 3-5 1-1 5-4 6 7 0 2 7 2 7-2 4 4 3-5 5-3 6-1 5-5 2 4 3-1 6M168 242l1 5 4 3-4 5-3 3-5 3 1 5 1 4 1 4-6 4-1 6-3 6 0 5 6 2 4 5 1 6 2 4M170 367l-4 6-4 3 0 6-5 3-6 3 5 1 3 4 5 5 4 2 4 6 2 5 7 1 6 2 4 6-7 1-3 4 1 4-4 2-5 0-4 2M172-45l-6 1 4 3-7 2-5 4-2 4-2 4 5 0 7 1 3 4 0 5-2 7-6 4-5 5 3 3-1 4 0 7 3 5 3 6M172 74l-4 1 4 4 3 5-1 6 5 1 1 7-5 3 5 2-3 4-2 6 2 4-4 4 1 4-7 0-5 5 4 3-2 6M173 184l2 6-4 2 0 5 2 4 6 0 3 5-5 4 0 5-7 1-3 2 3 3 1 6 3 5 3 5M177 101l-4 5 2 3 0 5 2 4-3 6-3 6 2 6 0 4-3 6M164 163l7 2 4 1 0 5M184 28l3 5 0 6-3 4 2 5-4 3-5 2-1 4 4 4 1 6 0 7M177 120l6 1 3 3 5 1 2 4-3 4-5 2-1 4 4 2 4 4-1 7-5 4 4 2 1 5 6 1 3 4 2 7 2 5 3 4 3 3 2 4 1 4M177 182l5 5 0 4 1 4 3 6 6 1-3 4-3 7 1 5 5 6-4 4-4 5-4 1 1 5 3 2 2 7M179 241l3 7 3 3-5 4 0 4 5 3 3 7-1 6 6 2-2 6 0 6-6 3-5 1 2 6-3 6 0 6M178 302l-6 4 3 4 4 2-5 0 3 3 5 2 6 1-3 6 4 6-3 6 1 6-6 1-4 5 6 1 1 7-7 0 0 7 6 2M181 5l-1 4-1 5-3 3 4 5-6 4 5 3-6 1 3 2-5 1 5 3 6 5M185 287l3 2-5 5 5 4 3 4M186 224l-1 5 2 5-6 3-5 2 0 4-3 2 1 6-1 4-4 2 3 3 7 2 4 0-1 5 3 7 6 2 5 4-4 4-1 6 0 4M183 393l3 4 1 4 5 4-2 4 3 3-3 7M189 332l-4 5 7 1 3 3 1 5 2 6-3 3-3 4 5 3-6 1-4 4-3 7-2 7-3 5 3 5-4 5M191 95l-1 5 0 6 5 2 4 4 5 5 1 7-3 4-2 7-1 6 3 7M193 311l4 0 1 6-2 7-2 6 7 1-7 0-1 5-7 2 5 5 3 4-2 5M195 34l1 5 1 7-5 2-1 8 1 4 6 1 1 6 2 7-2 4-3 6-7 0 2 4 4 2 6 2-6 1 1 6M195 154l7 2 3 4-2 5-4 4 4 2-3 3 4 3-4 0 7 1-3 3 5 3-4 1-6 2-7 2 3 6-2 6M192 206l4 4-1 5 3 6M197 270l0 6-4 5 0 8-2 5-2 7-2 3-5 2 5 4 0 4 7 0 6 5 2 5 4 1 1 5M204 333l3 7M199 77l5 4 3 3-2 5-2 3-3 5-3 5-4 6 2 4-1 5-1 4 5 5 0 4 5 0 4 1-5 5-1 5 4 5 6 2-4 5M199 374l2 6 1 5 0 5-3 5-2 4-7 3 1 6-3 4-3 5 3 6 0 5-3 5-5 3 3 3 5 2 4 3M203 198l1 6 2 3 4 6-4 2-2 6-2 7 3 4 5 3-1 4-4 5-5 4-6 2-4 6 5 0-4 6 4 2-6 2M206 201l3 5-5 0 5 4-3 5 3 5 3 4-2 5-5 4 5 5 4 6-7 0 0 5 6 5-6 1 4 4-5 2 5 1 7 1 3 6-2 4M207 264l0 6-4 0-5 4-2 4 5 5 2 6 2 4 2 7-3 5 2 5-1 5-4 5M208-36l0 5-2 4-3 6 5 4 0 6M208 25l-3 3-2 6 1 6 5 5-7 1M209 262l-4 3 5 2-2 5-1 5-1 5-7 0 1 5-2 5-2 6 4 4 5 3 4 1 2 7 5 2-2 7 1 7M210 141l-4 5-1 5 0 5 1 5 1 5 2 4-1 7-1 7-3 3-5 2-1 7-5 3 3 3 5 2 1 6M214 218l5 2 3 3-7 1-2 6-5 1 0 6-1 6 1 7-4 4-1 4-1 6-3 4-1 4 1 7 6 2 6 1 1 4-2 3M213 271l-2 4-6 4M215 339l-3 3-1 4M212 405l-6 4-4 0 2 5-1 6 5 6 7 0-5 1-4 4-1 6 0 7-1 5M222 263l0 5 6 0-7 1 2 4 0 5 7 4 4 2-5 1 4 1 4 4 7 1M222 16l6 2-3 6M227 171l2 3 3 4 1 5 1 4-2 4 6 1 6 2-1 4 2 6-3 5-4 3-3 3-7 0-1 6-2 6-1 6M227 233l0 5-2 4 2 3 4 2-5 2 5 2-4 2 4 3-1 4-2 6 2 4-3 3 5 0-1 5 4 5-6 3-4 5 0 4 1 5M234 1l-3 4 2 5-6 3 3 6 0 7-3 6 6 0 1 4 5 6 3 5-2 4 6 3-7 0-6 3 2 3-4 1-6 0 4 5 3 6M233 68l0 5 1 5-4 1 3 7 2 4-6 2-6 2 8 1 7 3-1 4-2 7 0 5 6 0 3 2 0 4-2 5 5 5M233 236l0 5-4 5 3 6 4 5 5 5 2 5 6 1 4 4-5 0-6 5-3 6-4 3M237 52l5 1-2 6 3 5-3 5-1 5 0 5 6 0 2 7-6 1-1 6 0 5-5 3 2 5M235 172l4 1-6 1 2 4-1 4-2 5-2 4-1 4 1 7 0 4-2 6 6 4-5 4-3 4 1 5-4 5 2 4M236 292l2 4 0 5 5 3M250-18l-7 0-5 2-3 4-3 3 0 5-4 4 5 0 6 1-5 3 4 4-7 1-2 7M239 76l3 5-2 6 1 6-3 6-6 4 0 7 1 6-3 4 3 4 1 7-2 6M228 275l0 7 2 3 7 2 4 4-7 1-3 3 6 3 4 5-5 0 0 7M241-37l4 2-1 6 2 7 2 4 3 4 1 5 1 7-2 4-3 3 5 2-5 4-2 5 1 6-1 7M242 97l2 7 4 6-4 2-1 4 7 3-6 3 1 5-1 5 0 6-4 3-2 5 1 8M253 261l-7 2 4 2-2 4-7 1-5 4M246 271l-4 4 1 7 5 5 0 5M247 247l5 1"/>
<path stroke="#7474e8" d="M252-3l-5 5-3 5 4 6M-2 13l5 3-2 7M2 31l-2 5 2 4 2 6-4 3 4 6-1 4 6 1 7 0 0 4-3 5-4 6 3 7-3 7-3 6-6 4-1 5M1 336l7 4-5 5-2 7M4 181l-3 6 3 3 4 5 3 4M9 382l0 4-3 5-1 6-2 5-6 1M8 89l-1 5 5 3-6 2-2 5 1 5 0 6 4 1 5 3 7 3-2 4-2 6 4 6 1 4-4 6 3 5-4 1-7 1-3 5M9 142l0 6 4 5 5 2 3 3-1 4 6 3-5 4 6 4-3 5 2 7 3 4-6 1-6 0 4 1-7 1 0 5-5 4 5 4M6 332l2 4 1 5-2 6 2 6 4 6 0 5 2 4 4 4-5 3-1 5-2 5-1 5 4 2 6 3-7 1-1 4 1 5M248 448l-6 1 0 5M14 267l3 4 5 3-5 1 2 7 5 5-4 3-5 5 3 6-5 0-4 3 2 8 0 6M19 326l0 5M14 386l-2 6 0 4-5 1 4 1 1 4 3 6-3 4 4 1-1 5-1 5-4 2-1 5 6 0-2 7 4 6-1 3-2 5M17-7l-1 6 5 5-2 7-4 6-5 1 1 5-3 4 3 3 1 5 5 5 2 5-2 6-2 4-2 5 4 4M17 51l-2 6 0 5 3 6-5 2-3 5 1 7M16 112l3 5 1 8-1 6-4 1 2 3-3 4 4 0-5 1-5 3-3 5-2 4-4 5M249 157l-3 5 5 3M18-62l-4 1 0 4-6 4 0 5-3 5 5 4-1 5 6 1 6 0 2 6 6 3 4 6 4 4M21 313l-4 6-4 5-4 3-1 5 6 0 5 2 2 6 3 6-6 3 1 5 4 3-5 1 6 2-4 2 4 5-2 5-5 4 3 4M21-50l0 4 1 5 5 1 7 2-5 4-4 3-4 2 1 6 1 8 0 7-3 3 5 3 5 4-3 4 4 2-5 5 5 0-2 4M24 111l6 0 0 5 5 3-4 2-3 3-6 5 0 5 1 4 4 5 4 3-1 6 0 4-5 5 4 5 4 3-6 2-6 4 1 6M36 20l-6 1-4 3-4 3 5 1-1 7-4 3-5 4 2 6 0 6 7 0-5 1 3 3 2 7 0 7-6 3-1 7M33 74l-3 3 7 1-6 4 0 5 1 4-3 7-5 4 1 5 1 7 5 2M35 149l1 5 1 6-5 4 6 0-2 5 1 6 3 3M30 275l-1 6M34 330l-2 4 5 4-1 6 3 4 3 3-4 4 1 6 4 2-3 4 1 7 5 4-6 1-3 6-1 6-4 5-3 4M29 402l0 5-5 1-1 5 0 6 4 1 7 0 2 7 5 3 0 5 3 4 1 5-6 3M38-23l4 1-2 6-1 5-3 6-4 2 3 3-1 7 4 4-1 6 6 0 4 6 2 4 1 5 3 2 1 5-5 4M38 157l1 4 5 1-3 4-3 6 2 5 4 5 2 7-5 4 2 6-4 0-2 5 2 7 6 0-3 6-4 3 5 3 0 5M41 169l0 6 2 7 6 1 3 7-4 6 1 4 0 5-2 4 1 6-6 1-5 1-5 2-5 1 8 0-4 6 1 5 1 4 5 2 4 1 7 1-1 5M42 99l4 4-4 4 5 3 6 2 0 7-2 5-6 3-2 4 6 0 3 4-3 4 2 4 0 6-5 4 0 6 0 7-3 5M45 216l3 5-3 4 4 3 1 5-1 4 7 1-5 1 3 7-4 6-3 5-5 3 1 7-7 0-2 5-2 6 4 5M42 341l3 3-2 8 6 2-4 0-4 6 2 6 2 6 1 5-2 4-5 1 2 4 4 3 2 4-2 5 0 4-4 4-3 3-4 6M47-10l3 3-2 4-5 4 1 7 0 5-6 0 2 6-5 1 3 5 2 4-5 4 0 4-2 5 5 2-6 4-4 3 5 4M47 49l4 6-4 6 1 4 0 5-6 1-7 1 3 6-3 6 2 6 1 6 1 5 3 4 3 5 4 2 3 6M45 218l-1 6 3 3-2 6-4 4 3 6M46 283l-2 7 3 5-2 6 2 4 0 4-7 3 6 0-2 6 0 5 6 2-1 7 0 6 0 6 2 5M47 352l-4 3-5 5 1 5-5 3-1 5 1 6-1 6 4 0 4 3-4 6 2 6-3 4-6 1-6 3-5 3 7 0-1 6M50-4l1 6-4 4 8 1 5 2 2 6-4 0-2 5-4 3M39 49l1 7 0 5 5 4 3 4M52 188l1 7 4 6 2 4 0 5-3 6-2 6-6 3 0 5 6 3-6 4 7 1-6 2-4 0 6 1 5 6M49 360l2 4 0 5-4 2-1 4 4 6 0 4 6 2-1 7 3 4 0 7 1 7-1 4 5 3-2 4M52 21l0 6 4 5-7 0 5 3 2 5 3 3 5 4-7 1 3 6 0 6M53 198l-3 3 5 1 6 0-3 7-4 2 2 5 0 7-3 4-1 4 5 3-2 6-3 5-4 6-4 6 1 4 3 6M52 263l-5 5 5 4 2 5-1 5-4 5 7 1-6 0 0 7 5 6 1 4-5 1 6 1-2 5 3 4-4 2 0 6-4 6M54 321l0 4 0 5M56-9l3 5 2 6-5 3 4 3 6 4-7 0-2 4-2 7 3 4 2 5 0 7 3 3-4 1-3 3 4 3-6 1 2 5 4 3-4 2M55 237l-6 1 1 6 2 4-2 8 4 4-2 4-4 1 4 5-3 7 1 6 5 1-4 4-1 7 2 7-2 4-5 5M56 299l5 5-2 6-5 2-5 5-2 7 7 1 4 2 0 8 2 4 3 7-6 3 0 5 2 6-6 1 5 2-4 2-2 4 0 5M59-50l4 4 2 6-1 4 5 0 4 3-5 1 2 7 0 5 2 6 0 4 4 4-2 7 0 6-3 5-3 5M59 211l6 3-4 2 6 1 0 4 3 7 6 2-4 6-4 6-6 3-4 4 5 4M60 371l-2 5 3 5 4 2-6 5-2 6-5 0 2 7 2 6 1 6 3 5-2 5-3 5 4 0 0 4 7 1 3 5M46 134l0 8M68 187l-5 5 3 4 0 6 7 3 3 4M64 345l1 7 0 4M74 322l0 5 0 7-4 0-4 5 4 4 6 3 4 3 2 6 1 5 1 4 2 6 0 4M77 339l-3 4 0 4-8 0 0 6 3 6-7 3 5 5 8 0-2 6 7 0 5 1 1 4-6 2 4 3-5 0-7 3-2 5 4 5-6 1 7 1-4 4 2 7-3 6M79 126l0 7 1 4M71 76l0 4 0 6-4 5 6 2 4 4 5 1 7 1 0 4 0 4-4 1-5 0 5 5-1 5 5 3 3 5M82 234l3 3-1 6 1 5-2 4-6 5 3 4-4 1-4 0-1 4 4 2 6 1 7 1-5 0 0 7 1 6-5 3-4 3 2 5-2 4M94 348l-3 5-3 4-5 1 1 6M68 159l5 2 1 4-1 5M86 221l6 2-5 3 2 4-7 2 5 1 4 5 1 5-1 4 1 6-5 5-2 4 5 1 0 6-3 4-1 6 4 1 3 5-7 1 3 5M86 269l2 7 5 6 3 3 0 4-4 3 3 5 1 6 1 7 5 3-4 5-7 0 4 6-4 6 2 4-4 5M93 450l-2 5 4 6 5 1-1 5 4 3-4 5M89 348l-5 1 1 5-6 3-1 6-2 7-2 6 6 1 4 4 6 0-3 3 5 6-7 3 2 4 1 5 4 3-1 4 2 6M93 31l-4 2-6 2 2 5 0 4 2 6 6 4 3 3-1 4-6 4 4 0-4 6 2 4M88 383l5 0 2 7M96-31l-1 5 0 5 3 4-5 0 6 1 1 5-3 4 2 5-1 7-5 3-5 5 2 4-7 0 4 4-4 2 7 2 7 1 3 6 4 4 2 5M95 29l-5 4 4 2 3 3-1 6-4 0 1 6 6 3 2 5 2 7 6 1-5 0 1 5 4 5 5 3-5 3-1 4 3 4-4 4 5 4 1 6M94 95l-6 1-4 5-2 7 4 4 5 2-2 3 4 2 4 1 5 5 5 2-3 7 3 2-2 6-4 6 0 7 5 5 1 6M95 210l-3 6 4 1-3 4 6 0-2 6 5 4 4 2 2 4 2 6 6 1-8 1 2 6-3 6-3 6-1 5 2 5-7 3 7 1 3 4 1 4M100 441l-6 2 5 1-6 0-4 6-2 4M92 29l5 4 2 5-3 6-6 3-3 5 3 5 0 6-3 2 7 0 4 3-3 4 4 3-4 0 0 7-2 7 2 7-3 5M99 142l3 3 2 6 6 2-2 6 0 5-3 6-3 4 6 4-3 4-3 3-1 6 6 0-4 1 6 1-3 4-6 1 4 2-4 3-3 6-3 3M100 74l2 4 4 2 2 6 4 2-4 1 5 4-5 5M95 130l3 5 5 2 0 4 0 6M105 202l-6 2 5 0-2 4 2 5 0 5-4 4 1 4 6 3-3 5 2 7-5 5-1 5 0 6-3 4 3 4 0 4 5 6M109 32l2 5 5 3-2 5-1 7-4 5 2 6-1 5-1 4 3 6M106 132l4 5 2 3 3 4 0 7-7 1-3 2 3 5-3 4-2 7 3 6-1 5 4 2 5 4 6 3-2 4-6 2-2 7M110-23l-1 4-2 6 2 4 4 6 4 5 4 2-4 6-2 6 1 4 2 4-4 4-2 6 2 5-4 4M108 286l-1 5-3 3 4 3-2 6-3 5-5 2 5 0 2 5 0 5 1 5-1 6 0 5-1 5-3 5-2 7M109 400l2 6-6 3 4 3 6 1-2 6 5 3 0 7 3 7-4 6-4 5-2 4 1 6-7 1-4 5 0 6M112-43l-3 5-3 5 2 4 2 6 5 0-6 1-1 4-4 5 1 6 1 6 2 5 1 6-1 7 4 2 3 3 7 0 4 5M114 77l0 4-5 4-2 6-4 1-4 5 5 4 5 0 4 3 1 8 4 1 4 1 2 6 0 7-2 4-8 1 0 6-6 1 3 7M112 197l-3 6 1 4 6 2 6 1 0 6 2 6 0 7 0 7-4 2-2 4-1 7-1 5-3 6-5 2-6 5 3 5M111 382l-2 4-5 2 0 6-2 3 1 7 7 0 0 6 5 3 2 7 6 0 2 5M123 436l-3 3-6 1-4 2-6 4-2 6M116-64l3 4 4 1 4 6-2 4-4 5 3 5 3 3-2 4 6 0 1 8-4 6 2 4 3 5-4 3-6 0 5 1-4 1-6 1 1 5 1 5M114 7l3 7 2 4-5 0-4 2 7 1 2 7-1 7-5 3 3 3-7 1-3 5-4 1 5 6 0 4 6 4 5 4-3 6-4 3-4 1-4 3M116 234l0 7 3 4-4 1-7 3 4 4-4 6 3 7 5 1 4 2 5 3 6 2-1 5 3 6 0 6-5 5-2 4M116 305l2 7-3 4 0 7M117-29l1 8-2 4 0 4 7 1-2 6 3 4 4 3 0 6M120 143l-3 5-2 5-6 0-1 6 4 4 0 6 2 6M121-13l-3 5 2 4-1 5 0 7-2 3 3 6 5 2 1 6 4 4 0 5-5 5 2 4 3 5-4 3 0 6-2 7M121 169l5 5-2 4 3 6-2 5 1 4-2 6-2 5 5 1 4 4 1 4M122 342l-5 2-4 2 2 4 6 1 3 3-4 5-6 1 3 4 0 4 5 1 0 5 0 5-2 4-4 0 3 4-2 5-6 5 1 5-7 1 1 5 5 0 1 6M125 117l1 4 1 5 1 4-2 6 6 2 4 6-2 7-5 2-3 3-4 6-2 5 6 4 7 1 0 5-1 6 2 4M127 257l-1 7-1 7 5 1 4 6-1 5 6 4-7 0-7 1 0 7-3 6-2 4 4 0-3 6M126 258l-1 5 4 5-4 4-4 4-6 2 5 2-1 6-2 6 5 2-5 4 3 4-3 6 3 5 4 4-3 4 4 4M131 151l6 3-5 4-4 6 0 4-5 1 3 2 1 5 4 3-7 0 1 7 6 1 1 4 5 1 2 5-4 1 0 4-5 3-8 0 0 7 5 1 5 3 3 3-4 5M130 389l-1 7 4 5 3 6-3 4-5 1-5 2 0 5-5 0 5 2 0 6 3 6 5 1-3 3-3 6-2 5-2 6M134 63l4 5 0 5-4 3 6 2-7 1-3 6 2 4 5 3-6 1-2 5 0 4 4 4 1 5-4 0 4 1M135 295l-4 4-6 4 2 4-4 4-6 1 4 3 4 5 4 5 2 4-7 3 3 2 5 4 0 6 0 4 1 6 4 5-3 6M132 361l-1 7-4 5 4 4 7 0 1 6 6 2 5 5-7 1 2 6 5 5-6 0 0 6-7 3-2 3 1 4 4 3-4 2M137 142l-6 1-2 6-1 7 2 5-1 7 5 2 1 8-6 4 5 3 4 6 0 6 7 1-1 6M136 196l1 4 5 2 5 4 5 2 5 1-6 3-6 4-4 4-7 1-6 0 5 2 2 4 5 5 4 3 2 4 2 4-5 2-6 2 3 4-1 8 1 5 4 4M135 265l-3 6 7 1-7 1-4 1-1 7-1 4 2 6-2 7 6 4 3 3-3 3 4 2 1 7-2 4 4 4-6 4-5 5M139 212l1 4-4 3-3 5 8 0-1 4 1 8 5 3 4 3 0 6M143 130l2 4 3 6-6 0-4 1 2 6-3 7 1 5 4 2 7 2 1 7 1 6-4 3 2 5-7 2 3 3-4 3-3 2M144 118l6 1-3 5 2 7-6 4-3 4 3 4-3 4 1 6-5 3 5 5-1 4-4 4-1 4 5 1 4 2 0 6 0 6M144 297l0 6-2 5 2 5 3 6-1 6 0 4-1 6 5 0-5 3-1 6-2 7-1 6-4 6M148 246l0 4 0 4 1 5 6 0-5 3 6 1-6 0-2 6-4 6 1 5 5 1-4 0 4 4 2 6 1 5 4 3-1 6 4 2-4 4 2 4-4 1 3 5M149 308l-1 5-2 5 4 5 5 4-1 4 4 2 4 4-7 2 4 7 3 4 5 5-3 6-4 3-5 0-3 4 2 4-5 4-1 6M150-20l-4 1 2 6 1 3 1 5 5 5-6 3 6 1 4 5-2 7-4 4-2 5-5 3-6 1 0 7 3 4 3 5M150 97l-5 2 0 7 1 4 0 5-5 2 3 6 2 5-1 5 6 1 4 1 7 0-4 2-3 3-7 0-5 1-4 0-7 0 1 5 4 2-2 6 4 3 2 5 3 3M148 219l3 3M156 63l-7 0 2 4 1 4-1 4-3 6 1 5-4 6 6 3-5 4 6 3 4 3 3 2-5 1 6 4-1 6 3 5 1 6-5 4M154 241l-1 6-5 0 1 6 0 6 1 4-2 4-4 3-4 3 5 6-2 4 2 4-3 2 7 2 3 3 5 1-6 2M156-41l0 4 1 4 6 3-4 3 4 6-6 1 2 5 4 1-3 6 3 3-1 6 0 6 3 3 5 0-2 4-3 4 7 0-1 5-5 1 2 6M156 26l4 3-2 4 0 5 2 5-4 4 0 7 0 5 0 6 2 4-1 8 1 4 0 5 1 6 4 4M156 200l1 6 4 1-4 4 3 4-2 7 2 7-3 6-6 0 7 2 0 7-5 4 2 6-1 4 1 7-4 4-4 2M156 322l-4 1 1 5-3 3-4 3-4 2 5 4 1 4 2 4-3 5-4 5 1 5 5 2-3 4-2 7 0 6 2 5M160-27l-1 8-4 5 0 8-4 3 4 4-5 4-1 5 2 6-1 6-6 0 6 2 6 1-6 3 0 7-2 7 4 3M159 158l-1 6 0 4-4 2M160 397l5 2 4 2-3 5 5 3 3 4 4 4 0 5-5 5-4 5-6 5-6 0-3 6 3 4 3 4 4 3 2 4 7 2M164 10l1 5 4 0-5 0-3 5-1 6-5 4M163 320l5 2-5 2-4 5-6 5 3 1 5 6 2 4M164 368l7 0 0 6 0 5-1 6 4 2-5 0-3 3-2 5 1 5-4 2-5 4 1 4 3 7-5 5 6 1 6 2 2 4-5 4M165 170l3 6 0 5M168 161l-5 0-6 1M182 388l0 6-3 4 4 6-5 5M177-20l4 1-5 1 3 6-1 5 1 6-3 6-5 1M176 39l3 3-1 7-1 5-2 3 4 5 0 7 3 7 3 3 2 6-1 5-4 0M182-45l1 5 0 6 6 0 1 6-2 6-8 1 3 5 6 5-2 4-6 1 4 4-4 2 6 1 0 5 2 5 1 6-7 1-2 4M180 77l-6 1-1 5 2 7 5 0 4 2 4 2-3 4-1 5-2 5-7 3-3 3 1 6 3 5-5 3 7 0-2 5-1 6-1 5 0 7M182 190l0 6 0 6 5 3 0 7 2 4-2 5 1 6-3 4 6 2 2 3 3 4 4 5 0 5 3 3-4 3-4 3-3 3M182 243l4 5-5 3 3 6 1 7 4 0 4 0 2 5 3 3-5 4-6 1-3 7 3 4-4 2 5 4-6 0-6 2 4 5-1 4-3 4M189 309l3 6-3 4 3 6-3 4 6 2-4 4 2 4 1 7-6 0 2 4M188 106l4 5 5 3-3 4-6 3 0 6-4 5 6 0-1 7 4 4 6 4 4 5-6 0-5 1 3 6-1 4 4 5-3 4M186 169l6 1 5 2-2 5 3 3-4 3 3 6-6 4-2 6-5 1-2 6-4 5 3 5-1 5-6 2 0 4 1 7 4 1 0 4M191-24l0 4 2 5-2 3 3 6 6 2 3 3 2 7 3 3 0 4-4 3 3 6-3 3-3 4-4 6-5 2-3 4M190 94l2 4-6 2 7 0 2 6 5 5-6 3 1 5-4 5 2 5 3 5 7 3-7 0 4 4 1 4-3 7 3 4-5 3M191 153l1 5-7 3 6 2-4 1-1 8 0 4 2 7 2 5 3 4 4 6-1 4-4 6-4 2M187 268l0 6 6 0 2 5 1 5-4 0-6 2-4 2-2 7M195 134l2 6 1 7 1 4 0 6 1 5-6 1-4 1-8 1 6 3 6 1 6 1 4 0 4 4-5 2-6 4 4 2-2 6-7 4 1 6-5 3-4 5M187 280l6 1 1 7 1 7 0 8-3 6 1 6 3 5-3 5M205 189l-1 6-5 5M202-43l3 3 4 2-3 5-6 1 5 1 3 3 2 7-1 5-4 5-2 6-2 4 1 7 0 6-3 4-1 6-3 6 4 1M207-40l4 2-5 3-1 4 5 4-6 3 0 6M201 324l5 4-3 4M207 379l-1 6-1 5 1 7 0 6-3 4 6 1 1 6-6 4-7 1-5 3-4 4 4 3-1 5 8 1-1 5-2 4 0 4M207 15l-1 5-4 3 0 5M210 86l2 4 1 6 2 3 4 5 1 7 1 6-7 0 0 5-2 5-4 6-5 4 5 2-4 1 2 4-1 7 4 4M208 204l-2 4 2 7-7 0 5 6-5 5-2 5 0 4 3 4 4 3 3 5 2 3 6 2 4 2-1 4-3 5 2 7M210-44l-4 2 3 7-1 4-4 1 5 5-1 4 7 2 2 4 3 3 1 6-5 4 4 1-4 0 4 3-1 4-4 5-4 6 1 5 2 4M211 192l5 4 1 5-2 5 2 7 3 4 0 7 0 7-5 4 7 0-4 6 3 5 6 1-3 5-4 2-5 4-1 4-6 2M211 252l7 1-6 1 2 5 4 6-1 6-4 5 0 6-3 5 4 1 5 4-2 7 4 5 0 6 4 2 7 3-6 4M217 313l6 1 1 5 3 4-1 7-5 1 5 1 6 2-3 7-4 0-5 1 0 6 4 2 0 7 2 6-5 4 1 5 0 6M224-44l-5 1-2 4-5 0 2 5 4 7 6 0 1 7 2 5 2 5-4 3-6 0 6 1M222 208l-4 6-3 7 2 3-1 6 7 0-4 3 3 2 5 1-7 1 5 3-2 7 3 4 1 5-6 4 5 0-4 6 0 4 3 2-4 6M224 267l0 7-5 4-4 4 0 7 1 5-1 7 6 0 4 3 3 5-4 3 4 3-2 5-4 4-4 3 2 7 3 6M223 392l3 4 2 5 4 6-6 2 0 7-3 5 6 4-1 5-3 6-4 5-6 0 2 5 0 7 3 7M227-5l4 6 7 3-2 5 1 5 0 8-1 5 0 7-4 6-3 7 4 1-5 4 7 0 1 5-2 5M228 122l1 7-5 4 5 5 5 6 1 5 2 6 3 3 5 0-4 1-1 4 0 6-5 0 3 4-5 3 0 5-5 4 1 5M227 357l-2 5-1 4 4 5-4 2-2 5 6 4 4 1-2 5 1 7 5 2 4 0 2 8-2 6-5 0-3 6 1 6M229 167l-6 1-1 4-1 6-6 0-3 7 6 2 1 5 2 5-3 3 7 4 6 2-4 5 3 4 2 7-1 6 3 6-5 4M-3 426l6 3-1 7M235 236l7 1 0 5 4 4 4 5-1 5M238-56l5 3 0 6-7 2 6 1 1 6 4 3 4 5M240 301l-2 4-4 2 3 5-5 3 1 6-1 7-4 2 5 0 6 3-1 8 1 5-4 1-1 6 0 7M250 420l-6 0-1 7 4 1 2 5M241 390l-2 4-1 6-1 6 6 1 3 2 0 5 0 6 4 2 0 5 0 8 2 7-6 0-4 5-6 1 1 4-3 3-3 6M249 19l-4 1 0 7-7 0 0 5-2 5-1 4M244 150l0 5 0 6-7 0 0 5 1 7 7 0 4 2-5 5 3 5-2 3 1 7-2 6-1 4-1 5 3 3-7 4M245 391l7 1 0 5M249-46l0 6-5 3 0 7 0 7-4 4 5 3-5 5 2 3 5 1 1 5 3 3-1 6M0 7l4 2 2 3-3 5 6 3M249 61l0 7 1 6-1 4 3 4M247 182l1 6-3 7-3 2 2 5-1 6 5 5-4 0-1 6-3 4-4 2 4 3 2 5-5 0 4 5 4 1 4 4 1 5M247 358l5 5"/>
<path stroke="#9c9cf0" d="M1-27l3 3-1 7 3 4-5 5 1 5M3 269l-6 3 3 6 0 6 3 5-3 3 6 1-3 4M251 352l-6 1 2 7-5 3 3 5-1 5M247 387l4 3M3 55l-2 7-4 4 4 6-3 6 4 5 4 3 4 2 5 6 3 5-5 3-3 4-2 4 0 7 4 5-2 5M5 235l1 5-1 4-4 0-4 5 5 1-1 5 7 1-5 4 1 7-2 4-1 6 7 1 1 6-5 4 2 5-5 0-3 5 0 4 7 2 0 7M5 305l3 3 5 3-1 4-4 5-1 6-4 4 1 7 5 4 5 0-3 6 3 7 2 4-6 3 4 4-7 1-2 7 4 6M247 403l-2 7 0 5-3 6-2 3M14 149l3 6-1 6 5 4-4 0-6 2 0 4-1 7 1 5 6 0-7 1M21 215l-5 6M7 90l4 5-2 4 7 3 6 1 1 6 4 4M20 362l0 5 5 5 5 2 4 3 4 4 4 6-6 0 1 7-7 1-3 3 4 0 5 4-4 3M26 61l2 4 0 5-3 5 2 5 0 6-5 0 3 7 4 4 2 4 1 4 1 6-5 3 4 3 7 2-7 1-1 5-5 1M34 340l-5 4 2 6-5 1 5 5M24 358l-5 2 2 6 6 0 3 3-7 0-6 3-3 4-4 6-1 4-4 3 5 1 4 0 8 1 2 5 5 4 2 7 1 7 2 4-6 2-5 1-4 3 2 3M30 127l5 4-4 5 5 1-2 5 1 7-1 4 2 7 6 0 2 4-3 2 3 6-5 5 4 6-2 5-5 0-5 6M27 350l-1 6-1 5-2 6-1 5-5 2M33 12l-3 5M31 132l5 1-4 0 0 6-3 6 7 2 4 1-4 3 1 5 5 4 3 5-1 6 2 7M31 321l7 2-3 7 0 6 2 6-5 4-6 5 7 1-7 1-4 5 5 5 0 5-3 2 5 5 0 6 6 0-1 7-1 8M31 384l-4 6 1 6-2 5 7 1-4 4 4 5 3 5 7 1-2 5-2 6-4 6-6 2-4 2-1 4 1 5M33 82l-6 4M38 196l5 4 2 4-1 5 3 4 5 3M37 95l6 5 2 4-3 3-3 3 8 1 3 5-7 1 2 6-3 3-6 2-4 4 0 7 0 5 4 5 4 1-4 4 5 2-3 3-6 1 1 4M38 273l5 3-3 3-6 4 0 6 6 0 7 1-6 2-1 5-4 0 2 4 0 4-6 2-6 0-2 5-5 4 2 6-5 6 4 2 4 4 3 6M39 395l0 7 1 5-1 7 2 7 3 5-1 4 5 4 0 4 0 4-2 6 0 4 1 5 0 5M40 220l4 0-3 4-2 5 5 1 5 1-3 6M43 154l4 5-4 4-5 0 0 6-3 6-2 4 6 1 5 0 0 5-7 3-3 5 0 5 5 1-4 0-5 4 7 0 4 0 3 6 4 1 3 6 2 6M46 111l-5 2 0 7-5 1 3 4-3 4 0 6 4 4 2 4 6 1 2 6-1 7 4 5-4 2-7 3-6 2 1 5-4 5M53 138l0 4 1 5-2 4-4 3 4 2-2 7 3 6 3 4 4 2 6 4-1 6 3 4-5 0-2 5 3 4 2 4-2 3M50 200l7 1 0 7 6 4 3 3-3 4-5 4 6 2 0 6 0 5-5 2 4 3M60 246l1 6 2 5-2 3 1 6 0 5 1 4-5 4-4 1 6 1 2 6-7 2-3 3 2 7-6 3 3 4 0 7M61 66l3 6-7 1-1 4-1 4 6 2 2 6-4 4 1 4-4 6-5 5-3 7 0 5-2 6 2 5-1 7M61 243l-3 3 1 5 3 6-5 2-5 2 3 6-5 4-1 5-2 4 3 7-1 6 6 1-7 1-6 2 4 4-4 5-1 6M65 199l4 5-4 4 2 5-4 5 2 5 0 4 7 2 2 5-4 3-1 7 4 2-3 4 5 5 4 5-3 6-4 2-2 5M66 314l5 5-1 5 3 4-6 0-4 2-1 7-5 4-2 5 0 7 4 4-1 6 6 5-4 6 4 3M64 382l-3 7 3 3-3 5 4 5-6 5-1 6 4 3 7 2 2 4-6 1 2 7 2 5 5 3-3 5 3 6M68 12l-1 5 4 3-2 4-1 6-4 5-3 3 7 0 0 7-4 3 1 6 2 5 4 5 1 5 5 3 2 4M69 124l-7 1 3 5 4 1 6 0 0 4 1 7-1 4 1 6 7 0-5 0-7 1-1 7-3 5 5 1-6 3 4 0 5 4 2 4-5 5-6 0-1 5 3 4-2 6M74 218l-5 4-1 4 4 2-7 2 6 4 2 5 1 7-4 6 5 3-2 4M62 266l-3 6 0 6 5 5 3 4-1 7 3 4-5 3-5 4-3 6M68 312l4 0 5 0 0 7-4 5 3 3-1 6 0 6-4 3M66 365l-3 2-8 0-3 6 1 7 1 7 6 0-5 3-3 3 3 5 7 2 2 6-2 7-2 3-1 5-7 1-3 6M71 114l-3 5 5 1-5 3-2 5 6 3 1 5 7 2-6 1-1 7 5 1 0 6 1 7-1 7-2 5 2 5M72 289l4 0-3 4 6 3-1 4 2 4-3 4-5 0 4 4-2 7-3 6M72 360l1 6 2 6-4 3 2 6-5 5-5 0 0 4 6 1 0 6 4 5 6 2 2 5 6 5M74 81l6 2 1 6 6 3-3 5 0 6 4 5-4 0 1 7-4 4-3 4 0 5-4 3 4 5 4 4-4 4-2 5 5 4M76 375l-3 3-3 4-1 5M81 32l2 4-3 5-2 5M76 96l1 6 2 4 2 5 4 3-3 6-3 4-5 4 4 2 5 2-3 4 2 5-3 6-4 2 0 4 3 5 2 5 0 6M78 218l-5 4-5 5 2 6 1 7 5 0 3 3-3 7 1 5 7 4-6 0-5 2 0 4 3 6-2 5-5 0-1 4 0 7M89 339l4 1-7 0M87 55l1 7-1 5 0 6-1 6-2 6 1 5-3 6-4 2 5 0-4 2 4 2-2 5 7 2 6 3-2 4 3 5M88-33l-6 2 0 4 3 2-3 6 5 0 7 2 7 4 2 5-5 4-1 5-2 5-3 6-5 2M93 154l-3 2 2 5 7 1 4 4 4 3 2 4-3 6-4 5 4 2-1 5 4 4-5 1-3 4-1 6-6 3-2 4-2 6 0 4M95 336l-5 3-4 4 0 7-2 5 7 0 6 2 0 6 0 7-2 4-2 6-6 3 4 4 5 2-4 0-6 4 5 5 2 6 4 4M99 135l-7 2-3 4 0 5-5 2-4 2-1 7 4 4-1 5 6 3 3 5-4 4-2 7-6 2-3 4 3 3 1 4-2 7M104-46l-5 4-5 4 7 3 0 4 1 6 6 2 3 3 0 5-4 5 4 6 3 4-5 2 0 4 3 4-1 8-3 5M108 348l-1 5 2 7-8 0 6 4 4 2-3 6 7 1M104 374l-1 5-5 4 1 6M107 67l-3 6 3 5 5 0-6 1 1 6 4 1-1 4 1 6 0 7 4 1-2 4-6 5-2 4 5 2 5 1 1 6 4 6-7 3M106 309l-1 5 4 7 0 5-3 6-4 3-1 5 2 5 4 4 5 5-5 0 0 4-4 4 4 4-7 0 3 4-4 3M108 31l-1 5 4 7 5 4-4 5 2 4 5 1-1 5-3 6-3 3-2 4-3 5 2 6 3 5 2 4-1 5 1 5M109 236l-5 1 1 5-4 4 7 0-5 2 7 3 4 0 3 4-1 4 0 5-5 1 2 3 2 5-5 1 6 0 0 5M115 66l1 5 3 3-6 1 6 5-3 6 1 6-6 2 6 0 1 7 3 5-1 4 2 6-5 0-5 1-4 4-1 5 4 2-6 3-3 6M115 183l3 5-2 7-7 0 2 3 4 3 2 6 4 2-2 5 2 5-1 7-5 5 5 2-7 0 6 2-1 4-5 1-4 5 5 2-2 6M117 328l-6 3 4 4 5 3 1 5-3 5-7 2-1 6-3 5 4 3 0 5 4 5 6 1-5 2M117 93l3 6 1 4-4 4-2 4 1 6-3 2 0 4 6 1-2 4 5 1-4 3-1 7-3 4-4 5M117 203l6 1 6 3 0 6M120 277l0 7-1 7 7 0-2 4 4 4-2 7 2 6-1 4-3 6-5 3 2 7 5 2M127 77l1 4 5 2-5 0 4 2-4 3 4 3-1 5-2 4-5 0-5 5-1 3 6 5M120 125l5 3 5 3-5 2 4 2 3 5-4 5-1 4M128 135l-3 5-2 4-4 3-6 3 5 3 5 4 3 2 6 1-4 2 3 4-6 2 4 6-4 1 2 5 4 2-1 5 0 4-4 4-3 2 1 6 5 1 6 0-5 5M128 321l1 7-1 4 5 3-5 3-7 0-2 6-1 5 5 0 0 5 7 1-3 6-4 6 5 3-4 2-1 6-1 6 5 2-2 6M129 37l3 5 4 6-4 5-3 3-2 4 1 7 3 3 0 5-1 6-6 1-6 1 0 6 5 2 4 1-4 3 0 7-1 4M129 103l6 1-2 5-5 4 1 6-4 3 3 5-3 5-4 3 3 4-2 5 5 1 2 4-5 2 1 6-1 6 0 7 2 7M132 339l2 6 2 6-2 6 3 5-4 5 5 2 2 6 4 3 2 5 5 2-3 7-6 0-7 1 4 5 0 5 0 4 1 6M136-42l-2 5-4 2 1 4 2 5-4 1 0 5-1 6-4 6-3 4 0 7M136 47l-2 6-4 6 3 5 7 1-3 3 0 7 2 4-2 5 2 5-1 5M158 264l-3 6 5 5-4 3M141 396l-4 2 0 5-5 3 0 6 4 1 1 5 1 7-2 6-3 7 2 4-4 5 0 6 3 3-1 6-2 5M142 80l7 3-4 3-2 5M140 292l-2 5-1 5 4 4 1 5 0 5 0 5M142 316l1 7-4 1-1 4 4 4 1 5-2 4-4 0-4 6 3 5-1 7-4 2 1 7 0 7 0 6 0 5 4 5M147 0l1 6 0 5 4 2-2 7-1 4 3 6 2 3 4 6 0 5 6 1-3 5-1 4-5 0-6 4-2 5-4 7-3 2M148-54l-3 4 4 5-4 3 1 4-4 5 2 6-1 7 3 3 6 3 2 6 2 3-2 8-1 5 0 5-2 4M149 13l7 0-1 4 3 5 3 7-2 7-3 3-6 0 1 8-6 1 5 2 6 4 0 5 3 6 2 5-3 3 4 3-3 5 2 7M127 182l4 1-2 4 0 7 2 4M152 439l3 5-3 4 4 3-6 5-1 7 4 5M153-53l-2 5 0 4 2 4-4 4 2 5 2 5-5 4-1 5-1 5-1 7-2 5 4 4M153 13l0 4 4 3M155 120l7 1 7 1-1 4-5 1-2 6-6 0-7 1-4 5 2 4 2 5 4 7 4 4 4 1 1 5-3 7 0 4-1 4-4 5-3 6-4 4M158 260l0 5 3 3-5 6-5 2 2 6-5 5 6 0-1 6-1 7-3 4-4 1 1 4-6 2-7 0-4 2 6 2-3 4 6 3M156 386l4 0 4 4 5 1 1 7 1 4 3 5 6 0-7 3-6 2-4 1-2 6-4 3-6 1 2 4 2 7 4 0-7 2 8 0 3 6 4 0-4 5 3 4M167-12l-5 1 5 4-6 3 2 4-4 6-7 3 2 4 6 4-4 6 1 7 4 4 7 3-7 0 2 6 4 3 2 4-2 5M168 109l-1 7M169-62l-5 1 3 3 4 4 2 6 4 5 2 3-3 5 5 5 4 6 1 7-1 6-4 3 5 4-4 2-3 4 2 4M170 62l-6 1 0 6-5 4 7 0 4 5 4 2 2 8-4 3-6 4 1 6 4 1 0 6-2 5-6 0 5 0 4 3-2 3-5 1 0 5-4 6M173 11l-5 1-2 5-5 5-3 5 3 5-5 0-2 6-1 4 7 0 5 5 4 4 5 0 5 4-3 3 3 6 4 5-4 5-4 2M171 252l5 0-2 4-6 0-5 2-6 4 6 1-6 4-5 5 4 4 7 0 2 5 5 1 0 7-4 5-1 6-2 5-4 4M171 320l1 5M169 17l2 4 6 3 1 7 7 1 1 6-3 5 3 6M176 275l-2 7-6 1 2 6-2 5 3 4-4 1-1 7 2 4 4 1 4 2 1 7 3 5 2 6-2 4 3 7M176 336l-4 1 5 5-7 0-2 7-1 4 1 4 0 5 5 3-2 7 1 6-2 5 6 3 6 0 1 7-6 1-6 1 2 4 1 5-4 4M179-57l-1 6 6 0 0 7 4 4 1 5 0 7-2 7-2 6 3 6-5 1 1 5-3 6-1 4 0 7M176 380l6 1 1 4 3 3-2 5-5 4-2 3 2 5-4 6-4 2-1 4 2 4-1 4 5 1-5 2 4 2 6 2 4 2-5 1M188-19l1 5-1 5 0 4-5 1 7 1-4 5-6 5 1 4 0 7 5 4 7 0 1 6 7 0-5 4 4 3-1 5-3 4M192 220l1 7-2 4-1 6-6 2-2 4-1 5-5 0 5 6 2 4 0 6M189 398l3 6 2 6 4 4-2 4 6 3 3 5 5 4-1 6 4 4-5 4-2 6-4 3 0 6-3 3-2 4M193 375l-4 6 7 1 0 4-5 0 4 6-4 5 7 1 4 5 5 4 0 4-4 6 3 4 2 5-2 4-4 5-5 5-6 3 3 4M196 95l-5 3 4 2 4 3 0 5 3 4-6 1 7 1-6 1-3 3-1 7-2 5-2 5 4 0-6 1-1 5 2 6 1 5 5 3 7 0-3 4M197 208l-4 3 1 4-1 6 0 6 5 3-2 7-4 4-7 1-5 4 5 0 0 7 2 5 4 6 6 0-4 4 2 5-4 0 1 5M198 384l1 7-5 1-4 6-1 5 0 4 5 3 5 0-2 7 6 3 7 3 0 7 0 5 0 5-4 2-3 3-4 5M200 14l-1 5-5 3-3 3 1 5 3 7 7 1-3 6 0 5 2 6 4 0-1 7 1 5-7 0-1 4 1 6M200 193l-5 4-2 7 4 1-6 4 1 6 3 5 4 3 4 4 5 3-3 2-8 0 4 2 1 4-2 7-5 1-1 7-5 4-1 5M201 254l2 7 3 5 3 3-4 3-3 6-5 4-4 6-3 4 2 4-4 6 2 7 5 3 5 4-1 7 1 6M202 13l-5 2 3 5-3 4 3 6 1 7-4 6-3 5-8 1 3 7-1 4 5 1 3 3 1 6-5 0 4 4-4 2M202 128l3 6 2 7-5 1-1 5 2 6-1 7 5 3 4 0-6 3-1 7-6 3-4 1 1 5 7 1 5 4-1 5-4 4M210 144l3 3-2 7 6 2 4 4 0 4 3 3-4 1-3 6-4 6 0 5 1 6-2 4-4 5-6 3-4 3M211 73l4 6 2 4-1 4 2 7 3 6-1 6M213 318l1 6-2 5 3 6 0 7-3 5-1 4 5 1 3 6 4 4-3 6-4 1 3 5 2 7-2 5-1 5M217 16l4 5 4 0-5 4 4 3M222-44l5 1 2 6 1 3 0 6-6 2-4 4 2 4 1 5 4 4-2 7-2 5-4 3-5 4-3 4-3 4 4 5M219 23l5 1 4 3-3 2 1 5 7 0-6 2-3 3-6 0-2 4 4 1 3 4 1 4 5 6 1 7 5 4 4 5 3 4-4 1-4 5-3 4-4 6M221 137l-3 5-6 1 0 5 6 1 4 4 0 7-2 5 5 5-3 4 2 4-4 6-3 5 6 3 2 6 1 7M220 322l4 2 3 4 4 3-5 2-3 4-4 1 2 3-4 6-2 4-3 4 0 5 2 5 0 4-4 5 5 5-4 5M223 149l-6 4 5 1 5 1 5 5 4 5-4 5 2 6-5 0-6 1 0 5-3 5-3 6-5 5 2 5 6 0 7 1-3 6 5 0-5 2M227 57l-3 7 3 4-5 3 6 0 1 6 3 4 2 3M236 96l-6 1-2 6 6 2 7 0 2 4-5 1 1 7M240 108l6 3-5 3 4 5 2 4-7 2-5 5 6 2-4 2-4 4 1 6-2 4-3 4 5 5 6 0 3 6-6 3 0 7M229 288l2 7-1 6 4 4-6 1 5 0 2 6 5 6-7 0 5 2-1 7-2 5 1 4 0 5 5 1-2 5-5 4 4 0 2 5M232 366l0 5 2 4 1 4 6 4 3 7-5 6-2 5-3 6-1 4M252 436l-6 0 0 5-7 1-3 5 1 5-5 3-2 7 8 0-5 6 6 3 1 5-6 4M233-52l0 7 2 4-7 0 2 4-4 3 3 5 6 1 6 3 3 4-2 6 2 4-3 5-1 4-6 1 1 4 5 2 4 5M234-10l-6 0 4 6 2 4-1 6-1 4 4 6-4 3-1 4 0 7 0 4-6 4 6 0 1 5-4 6-1 4 7 3-1 4-3 4M249 268l-3 4-1 8-3 3-3 5-5 1 4 4-3 5M242 308l2 6 2 5-6 3 2 7-7 0M239 121l3 5 1 6-4 2 2 7 1 6 6 2 2 4-1 6 0 4 0 6M243 81l2 7M2 256l1 5M-2 292l7 1-4 0M254 331l-7 0-7 1-4 3 3 4 6 3M2 82l2 4-3 7 6 1 6 4-6 1-4 2 1 6-3 3M248 134l2 4M1 168l7 1-4 2-6 2M248 304l-5 1 3 5-3 5 0 5 1 6 4 2 4 1M2 329l5 2 0 4 6 0 3 6 2 6-4 5 0 6-5 1 1 4 4 4 0 4-1 5"/>
<path stroke="#4444dc" d="M1 214l1 4-5 3M253 297l-6 4 1 6-3 6-3 3-1 5 7 0-6 1-3 6 3 6 0 5 4 4M231 54l-1 7 6 4 2 4M4 354l-1 4 2 7-2 6 4 6M3-3l1 6M254 19l-7 3 0 4 2 7M7 26l-2 5-6 2 7 1M11 120l7 3 5 3-5 2 2 5 7 1-1 6 4 2 6 4-6 3-1 7-2 6-5 2-6 0 7 2-2 6-7 0-4 2-1 5 4 0-3 6 4 5M18 238l-3 3-4 4 7 3-1 7 3 3M9 239l2 5 2 7 3 3-5 0-6 1-4 0 3 5-5 3 0 7 0 4-1 6 0 7 3 5 4 3 6 5-5 3-3 6 0 7M13 25l3 7-5 1 6 2-5 0 0 5-1 7-2 7 0 5-3 6-4 5 0 6 1 4-2 5 4 5M13 90l-4 5-2 6 1 4-4 7 0 5-1 7 3 3 4 4-3 6-5 1M252 138l-5 2-6 1-4 5 3 4 3 3 4 1-3 6M15 330l2 4 3 5 1 5-2 4 0 4-4 2-2 4-3 3 3 7-2 7 1 6 3 5-6 3 1 4-3 5M15 290l3 5-4 2 3 6-3 5-1 5 2 5-2 3 0 7 5 0 1 7 2 6-4 1-5 1 1 6-7 0-5 5 1 7M19 63l3 7-3 5-5 2M21 10l-2 6-1 5-6 0 1 5-2 7 3 2 0 8 5 2-1 8-4 3 0 5 4 5 3 2 1 4-6 2-1 5M22 238l4 4-6 4M22 310l0 7-5 3-3 2-5 4 4 3 4 2 0 4 4 0-3 3 5 2 1 5 3 4 6 1-3 4-5 3-3 4-8 1-3 3 5 5-2 4-1 5-5 1 4 2M27-8l-5 0 0 7 4 0-2 5-1 5-4 7-4 6 4 2 3 4-1 4 4 1 8 0 6 1-3 4 2 3 1 7-5 4-5 2-3 5 4 1 7 1M25 231l4 2-1 6-5 0 0 6 4 4-1 7 2 6-3 4 5 4 0 5 0 5 1 7 2 7 4 5M27-56l-3 3 3 5-1 5 4 4 5 2-4 4 1 4 7 2-6 1 2 4-5 0 4 2 1 6 2 4 2 7-3 6 7 1-4 5-5 4-4 5M28 21l-4 1 4 4-5 4-3 4 4 4 6 1 6 3 1 5-4 6 0 6-3 3-8 0 3 5M29 355l2 6 2 6 6 4 6 3-2 6 1 5-4 3-1 7 6 3-3 7-5 1 4 4-3 6 2 6-2 4M44 121l0 6-5 3-2 4 1 8M37 190l-5 0-1 4-2 4M33 271l2 6 1 5 3 6 4 2-2 4-5 1-5 0-3 4-3 5-5 3 1 5-7 4 7 0 4 2 2 5 3 2-2 7-6 3-4 3-1 4M34 382l0 4-1 6M37 31l1 4 3 3 4 5-3 6-4 3 3 6 3 3 5 3-4 4 0 4 5 3 2 4-4 2-6 1M41-5l0 6-1 4 2 4 3 5 3 7-5 0 1 7 3 5-3 5 7 3-6 1-1 5-3 6-5 1-3 6 3 6M41 113l-6 1 5 3-1 4 5 1 2 4 7 0-3 3-3 5 3 6 2 6-7 1-5 0 1 5-5 0-3 6-2 6 3 7 3 2 0 5M42 286l7 1 3 4 3 6 1 5-4 4-3 6-5 0-3 3 2 3-2 5 0 7 6 1-4 1 2 6 3 7 0 6M42-25l1 6 0 5 1 7-6 4 4 0 2 5-1 7 0 5-4 2-5 5 2 7-3 7 2 5 1 5M46 167l1 6 4 4-7 1-4 2 3 3 0 5 2 4-1 5 4 5-4 5 0 6-5 4-5 1 1 4 0 5 5 5 5 2-3 6M44 117l1 7 4 3M49 118l-5 0 4 3-3 3 0 4-5 4-6 2 6 4 0 7 5 2 4 6-4 0 5 3-4 4-1 5 0 6 6 1-2 6 3 5M54 63l-1 6-3 4 3 5 2 5 2 4M52 347l1 7-1 5 1 4 3 7 4 4 2 5-7 3-4 3-3 2-5 5M53 381l-4 0-5 4 1 6 3 4-2 7 6 4-1 6 0 6 1 7-5 0 0 5 3 5-6 1 2 6 4 4 4 5M62 120l-4 1-3 5 4 2 6 0 5 2-1 5-1 4-7 1-4 4-5 2-2 7-1 4 7 2-2 5-5 2 1 5 0 4 0 6 3 5 1 7M58 10l-5 4 3 6 6 1-3 3-5 0-5 1 2 6 2 3-2 4-4 2-1 6M61 126l-4 6 5 5 4 0-1 5 4 4 0 6-6 0 1 5 0 7 3 2 1 8-6 2 1 7 3 6M65 261l-5 4 0 5-3 4 1 6 1 5-3 4-1 6 3 4 2 7 2 6-2 6 1 4 6 1-2 5 7 3 3 3M67 368l-2 5-3 4 7 2-4 7M70 1l-7 2 3 4 4 5-2 3 7 3 4 5 4 5-6 2-4 4 3 3 5 4-3 6 5 4-3 5 6 3 1 6M71 223l-4 5-5 4 6 1-1 7 3 4-1 5 0 7 3 6-2 4 1 7 3 2 2 6 0 6M77 27l5 3 4 3-3 5-3 6 6 4-4 3 2 6-4 1-6 0-6 3 5 3-4 4-2 6 5 4 3 5 3 5-1 4 4 5M67-37l-7 0 4 5 5 1 4 5-5 3 3 3 4 2 3 6-2 4 7 1M77 29l4 5M86 146l-3 3 5 4-5 3 5 3 0 5-7 1-3 5 4 3-4 3 1 5 4 6-5 2-7 2 1 5M78 245l1 6 3 4-5 5 1 7 3 3 1 6 5 1-1 4 1 6 5 0-6 2-3 3-6 1 5 1 0 6 5 3 3 6 4 4 0 8M81 347l5 0 5 4-5 0-4 5-1 5 5 2-6 3 0 5-4 5 2 6 6 4-2 5 6 3-1 7-4 4-4 2 2 6M84 38l-1 5-3 4 2 5-4 4-5 3 1 6 8 0 5 4 5 2 2 5 5 0-1 7-1 7-7 0-2 7 3 6 1 5 7 0-1 7M85 400l6 4 1 5 4 4 0 6-7 1 1 7-5 3 3 6-1 7M88-3l1 6 5 4 5 3-1 4 2 5-2 7 6 3-1 6-3 3-7 1-2 4-5 3 4 5 3 7-1 7M90 112l-1 5 4 5-2 4 3 7 1 4 3 2-5 6-1 6 7 2 4 6M88 170l-1 6-5 6-1 5 1 5 1 4 1 5-3 3 4 5 5 2-2 5 5 3 2 6-2 6 3 6-2 7M90 288l4 3 3 3 2 7-6 1-4 4-5 1 6 1 4 3-2 7 1 6-5 3-7 1 6 0 4 6-6 1 3 6-4 2-3 4 0 7M99 262l3 7 3 6 5 1-5 2 3 4 3 3 2 3-5 5-1 4 2 6-4 3-2 5-4 4-5 3 3 7 1 6M98 384l5 3 2 7 6 0-4 6-1 5-1 4-3 6-1 5 3 4 0 4 2 7-5 5-6 3-3 3M101 20l3 5 0 5 3 6 4 5 4 3 1 4-5 5 3 3-5 2-1 6 4 5-7 0 1 6 3 2-5 1 2 4-1 3M106 115l-7 1 6 2 2 6 0 5M102 382l4 1-7 0 4 5-5 1-5 5-5 2 4 2 6 0 6 3 0 6 4 7 1 4 2 7-4 1 2 7 1 4-1 6-5 5 0 5M104 11l4 2-2 5 1 6 3 3 4 0-3 4-5 1-5 0 7 4-4 3-1 7 2 6-6 2 7 1 7 0 0 6-3 4 4 1-6 4 3 6-7 1-4 1 4 3 0 6M103 317l5 4 2 7-5 4 0 6 4 2M106 410l-5 0-2 5-1 4-5 5-3 5-4 5 5 1 1 4M107 5l4 2-1 4-3 5M105 187l-1 5-2 6-5 2 4 4-2 6-2 5 6 0 2 5 2 5 4 2 3 4 4 3-3 6 0 6-7 1-7 0 0 6 0 6M106 279l5 1 5 5 5 5 7 2-5 2-1 6-5 4 1 4-3 4-5 4-6 2-6 1 3 6M111 96l1 5-2 4 0 5-3 4-4 4 6 3 1 5 7 2-5 1 3 6-6 1 5 4-1 7-1 6-3 4-6 1 4 6M108 162l6 0 0 5-3 6-4 1-1 5 4 5-3 6 6 4 3 3 8 0 6 1-3 2-4 3-3 7 0 7 4 3-4 3 2 7M115 122l-6 2 1 7-4 4 7 2-4 6 5 3-4 3-1 5 0 4-3 3 3 6-1 5 3 5-2 6 4 6M117 179l6 3-1 7-5 0M118 269l-3 3 1 6-3 4 4 3 2 4 5 1 2 5 3 7-3 4 4 1-3 3 5 2 1 4-3 4-2 4 2 4-5 1-2 5 2 4M122 98l2 3-1 6-5 3M121 102l2 7M122 220l-4 3-1 6 3 7 4 6 4 6 4 2-1 6 5 2-3 4-4 5-4 2-4 3-4 7 6 4-4 1-2 5M125-58l1 6-4 3-5 4-1 6 2 5-5 1 4 2-2 4 4 0 6 2 1 5-4 2 0 4-7 1 4 5 0 5M126 66l4 4 5 1-4 5 0 5-6 2 1 4M126 185l2 3 6 2 2 3 3 4 0 5 0 4-5 0 3 3-1 4 2 4 4 6 5 1-4 3-5 2-2 6 5 4 2 5-2 7 6 1M124 246l1 7M124 306l-6 1 5 0-1 5 7 1-1 5-3 4 3 5-1 7 5 0-7 1-2 4-6 3 1 6-5 0 7 3 2 4-5 1 6 1 3 5 2 4 6 1-2 5M128 195l2 6-3 5-4 1 3 6-1 5-2 4-3 3-3 4-3 3 0 4 2 7-3 7 6 3 0 4 2 6 8 1-1 5M130 278l5 1-2 5-1 4 0 8-7 3-3 6 5 3-7 0 3 5 4 3 1 5-1 8-1 4-3 7 2 5-4 3 1 7M133 24l3 3-2 6M140 94l1 4 0 5 0 7-5 4-1 5-6 0-7 1-2 5 2 7 7 1 3 7 5 3 0 6M137 377l0 4-2 5 1 6 3 3 1 6-1 4 2 6-2 6M141 163l-6 3 2 3-4 5 1 7-5 4 3 4 1 4 4 4 4 1 6 2-3 7-7 0-2 4-3 4 7 1-2 4-6 4 4 0 1 5 6 1M138 277l5 4 3 3 0 8 6 3 3 6-6 4-7 0 6 3-6 1 2 4-4 0-7 4 3 6-4 1M134 330l2 5-4 4-4 5 4 3 4 4-3 3-4 1-8 1 4 5-1 5 0 7 7 2 5 6-1 5 4 1M144 82l-6 0 2 3 4 5-1 6-5 1 4 3 4 3 2 7 4 4-2 5-5 3M143 377l3 3-1 7-2 3-4 6-4 6 0 5 3 7-1 6 4 0 7 1-3 4 0 7 4 4 0 4M146-52l-1 5 1 4 1 4-5 1 2 7 5 4-5 0-5 5 0 4 6 3 4 0-1 7 2 6 4 6 0 7M147 370l-3 3-4 2-1 7 4 4-3 7 5 5 4 6-3 5-4 4 0 6-1 5 0 5-3 4 4 1 5 5M150 154l-6 3 5 0 2 4 4 3 0 5 0 4 7 0-2 4-4 5-7 2-4 5-5 5 3 3-5 1 0 5-3 6M151 334l0 6-4 6-6 1 0 5 4 4 8 1-4 3-3 6-5 1 1 5-5 3-2 4 5 3 5 4 5 0-5 1 2 6 4 0 5 1 5 1-1 4M156 189l-5 5-3 5-3 6 1 6 4 0 3 6 2 5 5 2-3 3 7 0 4 2-6 3 1 5 1 5 0 4 5 2-7 1-1 7-6 3M160 96l-5 5-6 5-7 1-1 4 6 1 2 6 5 0 1 6 2 3 5 2 1 4-4 0-5 4-5 1-1 6 3 5 6 0-4 6 6 0 3 6-6 3M156 45l-5 3 5 5 1 4 4 2 2 4 3 5 3 3 5 1M162 194l-6 4-1 6-4 1-3 4-7 1 6 1 1 5 0 7-1 7 5 5 6 2-3 4 7 2 3 6 1 5 0 5-4 3M161 166l2 4 5 1 2 6-2 5-2 6-2 5 3 5-5 1 6 1-1 6 6 2-1 6-1 4-2 4-3 3 3 4 2 6M170 186l5 3-4 2-3 3-4 0 4 1 2 7-2 5 3 5 4 5-2 4-1 5 6 1-5 0 1 5 1 6-1 7-3 7M172 374l-4 0 0 6 1 5-5 2 4 2-1 6-6 5-2 5-2 6 4 0-2 4 5 5-3 4-2 7 7 0 2 5 2 5 4 6M175 155l2 6-4 5-4 3 0 7 5 0-3 4-6 4 4 3 0 7 7 2 1 5 3 6 5 4-2 6 0 6 1 6M180 4l-1 4 6 2-5 0-4 1M182 132l5 3 5 4-6 0-1 7-1 6 1 5 5 2 4 5-4 2-3 3-5 2 0 6 1 5 0 6 3 5 0 6 2 7M183-14l-1 6-1 5 3 3 0 6 1 7 3 5 3 4-2 5-6 0 3 5-5 1 5 5 0 8-7 0 0 5-5 0 3 6M186 106l3 4 2 6 7 4 0 6 2 3-4 5-6 0-4 1-1 6-5 0-7 1 2 7 4 2-2 4 0 5-3 4-3 7M186 170l5 3 0 5-4 2 2 6 1 7 3 5 3 3 0 6-5 4 3 5-3 4 4 0-2 5 4 3-2 4-2 5M185 232l-4 4 0 6M195 220l6 3-3 2M190 273l7 1 5 4 0 4-1 6 5 3-2 3-3 6 0 5-2 6-7 1-3 4-1 4-1 6 5 3 5 2 0 4-7 0-6 2-2 5 5 0-5 0 0 6M194-43l-2 6 1 4 6 2 1 5-4 4 0 5 4 1 4 6-1 4 1 6 2 4-1 4 4 6-4 3-2 5-6 3-4 5M195 20l4 3 0 7-4 6-5 0 0 4 5 1 1 4 1 7 0 5 3 5-2 4-6 0-5 1 1 6-4 5-4 4-4 3-5 2M193 77l1 6-6 3M193 368l-3 4-5 1 6 4-4 6M198-47l4 3 2 7 1 4-6 2 0 8-4 3 4 3-2 4 6 3-5 3 4 2 2 3-4 4-6 5 1 5 0 4 4 3-2 4 5 2M201 128l0 7-4 6-2 6 2 6 4 4-4 6M201 315l1 4-4 1 2 5 6 2-1 5 0 4 2 5-2 4-5 4 3 4-1 7-2 6 0 5 7 0 1 5-7 1M202 265l-6 1 6 1 2 8 2 5 0 5-4 3 6 3 3 3 2 5-6 3-5 2-3 3 3 3-1 5 3 6-6 4-4 7M201 384l-1 7 0 6-1 4-2 4 6 1 6 4-2 7 4 2 0 6 2 7-3 4 6 1 4 5-7 0-5 4M203-2l-2 5 1 4 2 6 2 6 2 6 6 1 6 2 7 2M206 36l5 3-2 4 5 1 4 2 3 5-5 5-1 4-4 2-3 5-7 2 7 3 0 6 4 6 0 7-4 4M205 142l-1 5 7 0-1 7-7 3-5 5 1 7 3 5 4 3 5 0 3 4-3 4-2 6-3 5-4 2-3 6 0 6-2 3M204 324l-1 4M207 327l6 1 0 6-1 8-1 5-6 4-4 4 0 5 0 7-4 3 3 5-3 4 5 5-3 6 2 5 6 4M212 377l2 6-3 6 4 5-5 4-2 5 1 7 0 5-2 6-3 4 3 6-4 0-6 1-5 6-4 5M216 28l4 5-4 6 2 5-2 4-2 5-4 4M207 64l-1 4-2 7 5 2 5 5-3 4 4 6 4 4M214 94l-2 7 2 7 3 5-4 3 2 4 3 4 1 5 4 3-3 5 0 7-5 4-5 2 0 6-3 3 1 5M216 388l0 6-1 8M218-47l-3 3 6 5-1 5 3 7-4 2 2 7-5 4-3 3-1 7-5 0-2 6 1 4 5 2 8 1-1 4 4 6M217 29l5 0 6 3M218 133l1 6 3 7-2 5 1 6-5 2-5 2-4 1-4 6 3 4 6 3 2 6-5 5 4 1-1 7 4 3 1 5M221 258l4 4 7 0 3 4-4 1 1 5-4 5-3 3-3 4-1 5-4 0-5 4-3 5 6 1 3 6-3 7 4 6-3 4 5 2M218 371l0 7 4 6 5 0-2 7-5 5-2 6 0 5 4 1-4 4-2 4-4 6-3 5 2 5-2 5 2 6M225 120l2 3 4 6 2 5-6 1 1 6 2 7-5 2-5 5M212 400l3 7 1 7 3 3 7 1-4 2-3 5 1 6 0 7 3 4 4 4M225 26l0 7 8 0 2 5 3 4 5 4 2 7 0 5-3 5-1 5-4 5-5 1 3 6-7 1-6 1 2 6 1 6M225 327l0 4 2 5-7 1 2 4-5 3-5 5 6 0-2 7 0 6 1 5 5 5 6 1 5 3 7 2 1 4-3 5-1 4-1 4-5 4M225 290l2 5 1 6-1 7-3 4-3 4M226 335l4 7 5 5-4 5-4 6 6 2-3 3M223 93l2 7-4 1-1 7 5 2 7 1 1 6M230 230l6 2-5 4-2 3 3 6 0 4 2 5-7 3-6 2 5 0 5 3 3 4 1 4-7 1 1 5-3 4-4 4 4 6-3 3 6 5M234 415l3 6 3 3 7 2M233 183l3 4M231 309l6 3-4 3-6 1-4 3-6 3-1 4-2 8-3 3 3 5 6 4 2 5-3 7 1 7 7 1-5 4 4 3-4 2M232 370l0 5-2 5-5 1 7 0-2 4-6 5 1 4-1 4 0 5 3 4 5 2 1 6-1 7 4 0-3 5-4 5M236 109l4 3-2 4-5 1 4 2 5 6-5 2M238 342l-6 1-3 5 5 1-2 8-2 4M236 358l6 3-4 0-1 8 3 6 3 3-5 4-5 3-4 0 7 1 1 6 5 1-2 6 2 4-5 0 2 7-6 4 6 0 2 7M1-30l4 3-2 5-3 4M240-2l1 4-1 6-4 2-6 2 4 0 2 4 0 6-2 5-3 3-3 4-1 4M231 54l-1 5M-1 169l5 4-2 7-3 5M239 186l-2 4-7 2 6 5-1 5 6 0 5 5 2 4-6 4 2 5 0 4-3 5-6 3-6 1 5 5 6 1-3 6-4 2-6 1 1 4M238 238l-4 2 0 5 2 5 7 1-2 4-6 0 1 4-4 2-4 6M239 364l3 4 4 4-2 3-2 6 5 5M-3 386l6 3-2 3-1 8-3 3 5 2 3 5-2 4-5 0 2 6M240 207l-3 6 3 7-1 4-5 2-2 4 4 6 0 4 3 3 6 3-3 4 5 4 5 2M242 265l2 6 5 4 2 5-3 6-2 6-4 4 1 5-3 3-3 3-1 5 0 5-2 7-5 5 3 6M241 326l5 5-4 4 3 5-3 5-1 7 4 4 1 6-2 6 1 5 1 6-5 2M244-24l-5 4-2 7 0 4 5 5 2 3-1 6 8 0M245 66l1 7-1 7 1 5-4 2M-1 326l5 5M250 407l-5 0-3 3-4 5 0 5-1 5 7 0 5 1-4 6 2 5-4 2 6 2M247 6l-7 2-2 5-2 6 5 1-7 3 2 5 4 1-5 1-1 5 1 4 2 4 0 8 2 4-6 0 8 1 3 2 3 5M-1 117l4 5 1 6-5 4M0 138l6 3-3 5 3 4-5 4M-2 187l6 1 1 4 6 4 2 5-1 6M2 363l4 3 5 2M3 376l5 4 2 4-3 5-5 3-3 5 1 6 0 4M250 407l-3 5 4 3-2 5-2 4"/>
<path stroke="#de5656" d="M3 446l-5 2M10 184l1 6 1 4 4 0 2 6-3 5 4 4 2 6M23 257l6 4-4 5 1 5M18 254l0 7M15 239l1 4 3 6M26 292l-2 7-5 5 4 2-1 8 1 6-4 2-1 4 4 3 5 3 0 7 7 1M14 237l-5 2-4 5 5 1M31 116l5 0 3 4 5 1M27 86l1 6M39 447l6 5M52 23l-4 4-3 5 0 4-5 4-2 5 1 4M60 60l-6 3M57 177l3 4 1 5-4 5-1 6-6 3M58 363l3 6M66 189l6 2-4 3 3 2M61 183l-2 6-1 5 0 7-5 5 5 0 1 5M58 104l6 2 6 2-5 4-3 6-7 2-2 6-5 3 2 5-4 0M67 245l-6 2-2 7 2 5 1 7M70 173l0 4-6 3 6 4-6 3-1 4 0 4-5 3 7 0-1 6M71 325l0 5 5 2-3 5-3 2 1 5-7 1M86 374l-5 1-5 0M80 25l-3 4M82 332l3 4 4 3M86 340l2 4 6 4M87 443l3 3 3 4M83 20l7 1 3 6 0 4M90 256l-4 6M90 343l4 4-1 6-3 7-2 6 1 5-3 3-8 0-6 2 7 0-2 6 7 0 4 1M108 98l-3 4 6 2-2 5-3 6M107 129l-5 1-7 0M109 340l-1 8M115 373l4 2-8 0 4 3-1 7M107 16l-2 7 5 3-1 6M107 253l2 5-4 1-5 0-2 5 4 4 5 2 1 4-2 5M108 213l4 5 5 4-2 6-7 2 1 6M128 7l-8 0-7 1 0 6M117 189l3 6-3 5-5 2 5 1M121 162l0 7M151 239l-4 3-6 0-7 2M134 112l1 7-7 0 3 7M134 357l-2 4M139 417l5 2-4 3 4 5 0 4-3 5M150 248l-2 5 7 1-2 4 5 6M139 387l6 1M152 76l-3 4 2 4 2 6-3 5-5 0-6 0-1 5 2 4 1 7-2 4-3 6-2 7 2 6-1 7M147 4l1 7 5 2M166 451l1 6M155 30l-1 4 0 6 2 5M157 162l4 4M169 263l-2 5-6 0M175 76l-4 6M171 196l7 2-4 4M171 6l-2 6 0 5M170 146l-1 7-5 5 0 5M182 41l2 5-2 4 4 5M181 373l-5 1 0 6M181 242l5 5M188 210l1 4-1 5 7 1M207-29l-6 4 6 3-3 4-5 5-3 7 0 4 2 4-7 1 2 4-5 4M193 201l-1 5M207 330l-3 3M208-11l-1 8 4 4-4 0 4 4-6 2 5 3-3 5M220 30l-1 4M210 57l-5 2 2 5M244 291l-7 1M222 376l2 5 0 5-1 4 1 6-7 1-5 3M221 316l5 1 3 6 6 0 2 5-6 4-5 3M233 108l7 0M237 106l-2 6 1 6 4 2M243 304l6 4-7 0M227 38l5 0 2 6-6 5 3 5M245 88l-4 5 1 4M241 381l-3 6-5 5-5 3-3 3M242 60l3 6"/>
<path stroke="#e67878" d="M1 23l6 0 5 4-4 6-4 2M244 373l-1 4-2 7 6 3M4 3l0 5 4 4 0 5-4 2M9 81l1 8 0 6M17 230l-5 3 6 5M13 216l5 1M11 318l-2 6 5 0 5 2M11 82l-6 3 2 5M27 113l-3 3 4 5M32 405l2 6 0 7-2 4 2 4M20 246l1 7 3 6 4 5-3 5-6 2M27 331l1 5-3 4 5 4-3 6M46 178l-4 3-6 2 1 7M32 202l4 2 4 3M40 178l2 4-5 3 3 4-2 7M17 258l-2 5 5 0 1 7 5 0 4 5M42 82l-4 3 4 4 2 6-1 5M46 400l3 5M30 390l2 5 4 0 2 7 1 5-3 3-7 1-2 5M47 105l-4 7 1 5M47 188l5 0M54-35l5 4-4 0-2 4 4 1-3 6 7 0M54 330l6 3-7 1 4 3 0 7-5 3M46 46l-3 6 4 6 3 3-1 4 2 6 3 3-2 6M57 73l7 2-5 6-1 5 5 3-3 4-3 6-5 2-7 2 6 5M59 195l7 2-2 6 6 3-4 3 5 5-2 7-4 4 1 7 5 5-1 5 4 3M62 354l1 5M68-36l-5 4 0 7 0 6M66-51l5 4-3 7M76 209l-1 5-1 4M65 359l2 4 0 5M67 353l0 7 5 0M62 8l1 7 6 1 1 4 6 1 1 4 5 3-1 4M83-7l-3 5 4 6 2 5-2 4M81 34l-2 4M75 43l-5 1 5 4 3 5 6 1-5 2-5 3-5 3 5 5M79 179l0 5-4 1M87 132l-7 2-5 3 0 6-1 5M82 228l-5 1 5 5M103 159l3 4-4 6M98 420l4 5-5 0 5 0-4 1 3 4 2 6-3 5M83 131l-4 2 1 6-6 0 1 5M102 207l-3 6 8 0-1 7M99 389l3 5 1 6 0 5 3 5M125 425l-2 5 0 6M115 323l2 5M120 84l-5 3 2 6M122 89l1 4-1 5M132 213l-4 6-5 0-6 3-2 6M119-3l4 1 7 1-1 4 4 1-4 3M126 87l1 5 3 4-4 2 3 4 0 6 7 1-5 0-7 0 1 6M125 253l2 4M139 42l-3 5M135 75l4 1 1 5 3 5 1 5-4 3M143 53l-2 5M143 69l5 3-2 4-4 4M145 122l2 8-3 6-1 4-2 4-3 5 2 4M132 259l5 4 0 4 4 1 5 0-2 4-2 6 4 3-4 2 4 3 1 6-7 0M141 188l-4 3M134 201l-1 3 3 6 6 1 1 4M146 368l4 4 3 4M135 209l-2 6 4 3 6 1 5 0M153 424l1 5 2 5-4 5M151 297l5 4-3 2 3 3M154 170l-2 3-5 4M163 345l-2 6-6 2-2 7 4 6-1 6M172 381l5 3 5 4M176 11l5 3-8 1 3 4 1 6 7 3M184 225l1 7M195 256l-3 5-6 0 0 4 6 1-4 1 4 0 6 4-6 4-5 5M192 352l-2 5 4 4-1 7M202 378l-1 6M203 328l-3 6 4 6 5 5-3 5M209 19l-1 6M220 106l-6 1-5 0M228 32l-4 3M225-6l-5 4 1 5 4 3-3 6 0 4M239 117l-4 2-2 4M230 408l4 7M235 286l-4 2-4 2M237 127l6 3M249 185l-3 6M242 87l-1 6-3 5 3 4"/>
<path stroke="#ee9898" d="M248 123l-5 2M237 24l-3 3 4 3 6 1-2 4 1 5 6 1-5 0-5 4-2 5-7 1 5 0-4 3M11 199l0 6M7 377l2 5M6 34l4 3-4 0 0 7M37-14l-6 3-5 3-6 3 3 4-4 5M14 77l6 4M29 1l-4 4 1 5 0 5 2 6M30 17l6 3M33 392l-1 7-3 3M46 237l2 4-5 1 2 6-6 0-2 6 3 6M41 45l0 6-3 3-3 1 0 7-4 6 4 2M44 243l-8 0-3 6 4 5-1 4 0 5 7 3 4 3-2 6 3 5 6 0-3 3-5 5-1 7M43 260l-1 4 4 3M38 292l4 6 4 5 5 4 2 5M55 117l7 3M66 146l1 5 2 6M71 342l-1 6M81-53l-3 6-1 5-5 1-5 4M79 72l0 5M80 137l0 7 6 2M78 69l-5 0 4 5-6 2M84 19l3 5M72 126l5 0-5 3 2 4 0 4 0 5-1 5 7 2 5 1-5 3 1 4-7 1-6 1M98-35l-5 0-5 2M95 386l4 4-3 3M91 24l1 5M114 175l3 4M123 109l-1 4-4 1-2 6-3 3-6 1 5 2 1 6 2 5M126 334l2 4-5 2-5 2 1 3M124 113l-2 4 2 6-4 2M121 3l5 2 4 6 4 2-1 6 0 5M134 111l-3 6M132 324l-6 3M140 329l-6 1M144 137l-6 0-1 6 5 0-1 7-2 4 5 0 1 7 0 5-4 0-1 7-6 3-7 2 0 4M154 117l1 5-5 5M160 36l5 4 5 3 5 2-2 5 4 0-5 5-4 0 1 5-5 0-6 1-5 4M174 274l4 6 1 7M167 116l2 4-3 4-2 5 7 2M164 165l1 5M177 237l-2 7M159 309l2 5 6 1 4 5M182 90l-6 4 4 2M180 100l3 5-4 6M173 72l6 3M191 302l-4 3 2 4M187 54l0 4M190 383l0 4-6 0-1 6M183 264l4 4M188 86l-1 5 4 4M186 390l1 6M197 163l3 4 5 3-5 6 4 2 4 6-3 5M189 266l2 4M204-18l0 6 2 6-3 4M207 23l-1 6 5 4-5 3M201 320l0 4M202 46l-2 4M205 279l3 5 2 7 5 0 5 4-6 1M217 332l-2 7M215 331l2 4-7 3-3 6-5 5 6 2M215 402l-3 3M224 28l-7 1M224 131l-4 4 3 5M217 255l4 3M219 101l-4 5 1 5 4 5 5 4M222 89l-7 4 2 5M234 84l-1 4-2 5 5 3M229 86l-4 1-2 6M231 345l1 5 0 5 2 6-2 5M243 171l7 1M236 187l-1 6 3 5 6 1M234 136l3 2 0 4 1 4-3 5 5 1M235 329l-1 6-1 5 5 2M237 63l-3 4-2 4 4 1 3 4M228 267l6 1-6 2 0 5M234 360l0 5 1 5 1 5M1 5l2 4-2 4-2 6M247 63l0 5-4 5-3 3-2 7M11 368l3 3-7 1-4 4"/></g></symbol>
<symbol id="tr" viewBox="0 0 250 200" width="250" height="200" overflow="hidden"><g fill="none" transform="translate(.5 .5)"><path stroke="#3838d8" d="M2-13l-4 5 2 5 3 4-6 5M3 101l0 7 0 5-1 6M0 166l5 1 3 6 2 6 6 3-4 2-5 5-3 3 3 6 4 3 6 2-3 3-4 3-4 1-6 4M0 219l4 3-2 4 4 2-5 5M4 9l2 6-3 3 0 8M6 140l2 4 0 7 4 4 0 5 0 6-4 3 2 5-2 6 3 5 4 5 1 5M2 145l3 5-5 3 5 1-2 4 7 3 4 3M14 186l-7 1-1 5 2 6 4 6 2 6-5 3 1 6-3 4-1 5-1 6-2 4-4 4 1 7M20 162l4 6-1 5 2 4 2 5-4 1 1 6 6 4-4 2-2 7-1 4-1 6 1 8-1 5-2 6M31 100l0 4 0 7 0 5M25 160l-4 1 6 0-4 5 2 4-4 3 0 7-3 4M28 33l4 4 3 4-3 4 3 7 4 5-2 5-1 7 0 4 0 6-1 6M39 84l-2 7 1 7-1 5 0 7 0 4M42 74l2 6-1 6 0 7M52 147l5 4 0 5-1 5-6 1 4 4-2 6 0 6M51-34l2 6 4 2 6 3 1 5-3 3 6 3-6 1-5 0-2 4 5 5-2 5 5 4 3 5-3 5-4 2-4 3 6 1-2 5 4 3-2 6M58 77l0 4M58 87l0 5 2 4 0 7 0 7-1 7-1 6 0 4-3 7M56 195l1 4 7 0 0 7 3 5 6 1-2 5-2 5-3 3-5 0-3 3-2 5 3 5-2 6-6 2 2 5 4 1-3 5 6 2 1 4 3 6M66 3l-5 3 5 4-7 0-2 5-5 3 3 5 0 6-1 4 1 6 4 2 4 4M55 130l1 5 2 5 3 6 5 1 0 5-1 6-5 6-2 6 3 4M65 9l0 4M70 60l-5 4 0 5-2 5M61 138l-3 3-1 4 0 5 2 5 0 4-1 7 5 0 1 5 0 6-5 1 4 5-4 4-2 7M72-54l4 2-5 4-3 3-1 4 2 7-1 4 0 5-8 2 2 5 3 3 4 1-1 4-2 3M65 11l-5 5M73 10l4 4-6 2-6 5-7 0 4 4 6 0 7 2 0 6 5 2-2 6 5 1-5 0 2 6 2 5-1 4 1 6M70 88l1 5M72 182l-2 6 3 7-2 6 2 3 0 4-1 4 3 5 4 3-1 4 3 4 4 4 2 7 5 5 0 5M78 80l-1 5M81-30l4 3 4 0 4 4 2 3-1 6-4 5-1 5 5 1-4 1 4 5-6 1-8 1 3 4-4 5-3 3 1 5 6 4-1 5 4 3M87 193l-4 4 6 1 0 7 4 0 0 7 6 0 4 3-4 3 5 1 6 5 4 6-3 5 0 5-7 1-3 5 6 4 3 6-4 2-5 3 2 4M88-49l5 4 1 7 0 5 3 4-4 2-3 6 1 7 6 3 1 7 1 5 4 5-6 2 2 5M90 128l-2 8 4 5-6 4-4 4 7 1-6 4 5 4-6 2 7 1 5 1-5 3 3 6 0 5-1 6-2 4-5 2 7 1-6 0 0 6M91 52l2 7 3 4-2 8M95 93l0 6M89 162l0 7 2 5-7 3-1 4 4 3 4 4M97 147l-4 3 1 4 6 5 1 6 1 4 5 2 0 5 6 2 1 7-5 0 1 5M100 62l-1 5 0 4 3 6 1 4 1 5M99 59l4 5 0 5-1 4-1 5-1 6M112 123l0 5 2 4M109 144l-6 1-5 4 4 6-1 7-1 5-5 6-5 0 7 1-3 2 1 5M112 183l-3 5 3 4-6 5 2 6 3 4 7 3-3 4-4 1-3 2 6 1 0 4 4 6 5 2 3 2-3 2-1 5-6 0-1 7 0 7-2 5M120 26l1 8 0 5-5 1-5 2 0 7-1 4 2 3 1 5 2 5 3 4 3 5M125 0l4 5 0 5-1 7 4 4 2 4-6 4M124-53l2 7 5 3-7 2-2 5-6 0-4 4-4 3-1 5 7 0 5 3 3 6-2 5-3 6 6 2 4 4 0 7-1 5 4 5M129 138l1 7 4 5 4 3-4 4 0 6 2 5-4 5-4 4 1 5-6 4 6 4-2 4-1 5 3 5M130 198l0 7-2 6 4 2-4 1 5 0-1 5-7 2 4 5-6 2-4 6 6 1-3 5-4 4-1 6-4 1 6 4 2 5 5 2 3 5M130-26l-6 2 2 5 4 0 0 6 3 5-3 6-3 4 4 2 2 5 4 2 0 6 3 5 3 3 1 7-6 2-6 1-6 2 7 2 2 4M131 31l5 1 2 7-2 6-2 6-1 5-1 7 1 6 1 6-1 7 1 4-1 5-1 4M147 161l-1 7 0 5 7 1M136-20l-5 1-4 2-4 5M123 33l-5 3M139 158l1 5-2 5-2 6-2 3 7 1-4 2 1 7 5 2-5 5-4 2 1 6 4 5 2 7 0 4 2 5 5 3 4 5M146 63l2 7 2 7 1 4 1 8 2 7M148 166l-1 4-4 2 0 5 4 0 3 6-1 5-4 1-4 3 5 5 3 6 0 7-2 5 1 7 0 4 5 1 1 6M149 46l5 1-7 4 3 5 0 5M147 9l-6 4 2 6 5 3-5 1-6 2-1 5 2 5 3 3 4 1 0 4 6 1 4 1 5 4 0 5M159 76l0 5 1 6-2 6-2 4 1 6 0 6 4 5 1 5 3 7-2 4-3 4-1 5-2 5-3 4M161 195l6 2 2 2-3 4 2 4-3 4 1 6 2 4-4 1-3 7 1 5 0 5 4 3 1 4-2 5 2 3 2 5-5 6M163-60l-1 7-1 7 3 5-3 3 3 3-4 5 4 4 5 1 6 2-5 3 4 4-4 6-1 4-6 1 4 1-1 4 5 1-3 5-2 5M160 77l-3 6 0 6 0 4 6 2M167 184l5 2 0 6 4 6-5 1-4 5 5 3 0 5-2 4 1 7 5 3-4 0-6 3-1 5 5 2-3 2-1 5-2 5-1 4M181 9l-6 1-5 1 3 7 5 4-4 3 0 6-1 6 3 7 1 5-3 4-1 5M179 33l-6 1 1 6-4 4 1 6 2 6 0 7 1 5 0 5 3 6 2 5M186 129l0 5 2 4-2 6M191 108l1 5 0 6-2 4-1 6-1 6 0 6M186 154l2 5-1 6M194 182l0 6-5 3-1 6-1 6 0 6 5 3 4 5-2 7-2 5-4 4-3 3-2 3-1 7 4 0 2 4-1 5M196 148l5 1-2 4-2 6 1 6-5 5 1 4-3 6 1 4-6 1-5 5 4 2 6 1 5 1 0 5-3 7-4 4-4 5M208 15l2 5-1 4-1 7-2 6 0 7-1 4-2 7M216 141l-1 7M220 30l-1 7 3 4 8 1 0 5-2 7-6 4-2 7-2 7M223 117l-1 5 1 5-3 6M221 144l0 5-3 3 1 7-4 2 3 4M228-11l0 5-6 2-4 2-2 4 1 6-5 3 5 2 2 4 0 5 6 2 5 5 3 6-3 6 0 6 3 5M233 60l-1 4M232 129l0 5-2 4 0 7 1 4M227 167l1 5 5 4 3 4 1 5-1 6-3 6 1 5-1 7-5 0 6 4-3 4 4 2-6 0 5 6 4 4-2 4-3 3M233 26l-2 6 5 4 5 3 4 5-3 3 1 8-2 6-4 5-3 6-1 4-1 7-2 6-1 6M237-23l4 3 0 4 2 3 3 5-6 3 4 4-1 5 4 5 4 5-3 5-6 1-7 0-7 1-5 4-3 3-3 3 6 4 3 6 6 0 3 5 5 4M236 57l-5 4M244-63l4 4M244 7l-6 2 4 6 0 6-2 6-3 3 5 2 7 0 0 7-7 2-1 7-1 5 0 7-2 6M250 84l-1 6-4 6 0 6-1 4-2 6 0 7 2 7 3 6M-2 149l5 3-1 5 4 6-4 6-4 5 2 5 1 7-3 4 3 6M0 258l6 0-2 5 3 5 6 4-2 6"/>
<path stroke="#5252e0" d="M252 96l1 5M2 103l1 7-1 5 0 5 1 6M4 144l5 3-5 4 1 7 0 7-2 4M253 26l-7 2-2 4-5 5 2 5 0 7-3 5 1 6 1 5 4 4 4 3M2 238l7 3-1 5 1 7 0 5-5 4M17-13l-1 4-2 4 2 5-1 7-2 6 1 7 1 5-4 1-2 6 5 2 1 7-1 7-4 2M23-24l2 5-5 1 6 0-1 4-5 4 0 8 6 1-4 0 5 1-7 1 1 5 6 4-5 1M25 19l-2 4 2 4 0 7-3 4 3 4-4 4M26 38l0 8-4 4 4 0 2 4-3 5-2 3-4 6 0 6 1 6 3 6 0 5M26 160l-1 8 4 5 0 5 4 5-2 7-3 3 5 1 0 5-4 3-5 1-4 3-1 7 2 7 1 6-6 2 1 7M36 74l-2 7 0 4M32 65l2 6-1 5 2 6 0 6 0 7 0 5 1 6 1 6M25 166l-4 5-1 5 7 0 4 4 7 0-6 3 5 5 7 1-7 1-1 5-3 3M35 151l1 5M43-50l0 7-6 0-2 5 1 6-3 3 5 3 2 7-1 5 5 4 7 1 3 5-5 0 0 5-4 4-7 1-3 3-4 5-3 5M43 12l-3 6 4 1 1 6 3 5-3 7-5 4 4 1 5 2-1 7-1 8-4 5-1 7M36 145l-3 6 0 5 4 3 2 6M49 118l0 4-1 5 0 7-3 4M47-16l4 5 4 3-1 6 2 6 0 5-4 2-8 0 1 6 2 6 3 4 2 4-8 1 2 5-3 3-5 3 5 2-5 4M47 162l-4 3-4 3-1 5 6 4 3 3 5 1 0 4-4 3-4 3-1 7-5 2 1 4-1 7-3 4 8 1-2 7 1 7M52 153l2 6-2 4 2 4 0 6-7 0 6 1 1 4 7 3-1 4 1 5 3 5-3 7 0 6 3 7M53-2l4 3-4 3-2 6-5 4-1 5-1 4-3 5 5 5 5 3-4 4-2 4 8 1 1 4 4 6-1 5M59-30l1 8 3 3 4 4 0 6M66-5l5 5-4 4-5 1 1 5-5 5 7 1 4 6 0 7-6 3-6 4M66 44l-3 4-1 5-4 1-4 3-2 4-2 5M47 220l4 5 0 4 5 2M61 37l5 1-6 3 2 6M65 35l4 2-2 6-3 7-6 1 4 5-4 6 1 6 3 6 1 4 3 4 2 7-1 7 0 5M77 159l-5 0-6 4-2 5 7 0-5 3-1 4 5 2-3 3 2 4 7 0 1 4-1 5-3 5 3 3 0 5 5 2-1 5-6 3 0 5-7 1 3 4 4 2 6 3M78-61l4 2-2 4-1 5-7 1 3 3 3 4-4 2-1 4 4 1 0 6 4 3 5 0 2 6-4 5 0 4-3 4 7 1-5 4-5 0-5 3 2 5M80 6l4 6-1 5 3 7 2 5 4 3-1 4-6 3 2 7-3 7 2 5 1 8 0 5M88 68l-1 5 2 6-1 4 0 8 2 6 0 6 1 6 0 7 0 5 0 6-2 5M91 168l3 4 3 5 7 2-6 3-2 4-8 0 5 5-4 6-5 5 2 4 6 1 6 2 4 6 2 4-6 2-4 3-3 6 0 7M96 18l-3 6-1 4 0 7-2 5M103-60l-7 1-3 6-6 1 0 5 3 5 5 0 6 1-2 5-1 5-1 6M102 10l-3 4 3 6-4 5-4 4 0 7-1 4 3 3-2 7M102 180l6 4 0 6-7 1 3 3-3 6 3 4-3 3-1 4-2 5 5 0 5 2 3 6-2 5-1 5-6 2-4 3 0 5-5 1 0 7M110 171l-1 4 4 2 0 6 3 3 2 4-4 4 1 5-4 3 1 4 5 4 2 6-3 5 1 4 3 3-4 4-3 5-4 1-4 4M112 59l3 4-1 6M116 22l-4 3 2 6 0 6-6 3 0 5 7 0 5 0 0 8 4 4 0 6-2 6-1 5 0 7-2 4-2 7 1 5M110 153l0 5 2 4 3 7-4 0 4 1 0 5 0 5-1 4 5 3-4 4 5 2 0 4-4 3-5 1-7 2 3 3 3 7 2 6M123-36l0 6-2 6 1 6M123 199l5 0-2 5 5 1 5 5-2 7 3 4-2 4-7 3-7 2-5 5-2 6 3 5 5 4-3 3 2 5 5 0-3 4-2 6-2 5M131 16l6 1-4 4-5 5 0 4 7 1 2 5-1 5M134 213l-4 4-2 5-1 5M123-7l-2 5 2 4 7 3-4 4 1 4 4 4M142-50l0 5-1 7 3 4 2 4 1 5-4 3 3 6 0 5-6 3-3 4 3 4 0 6 4 1-2 6M141 183l-4 4-4 5 3 4 3 3-3 5 1 5-1 5-4 4 4 7-7 2 5 1 2 3 2 6-4 2 0 5 1 6-1 4M146-15l-1 7 4 4 4 3-1 5 5 5-8 1 4 3-4 5 5 0 6 4-4 4-1 7-6 0 1 7-1 6 5 4M146 43l-3 2 1 4-3 5 2 5-1 7 2 5 3 6 1 6 2 6 0 5 1 4M150 132l-1 7 1 6 0 4 2 5 2 7 2 5-5 0-4 4-2 6 3 4M162 135l1 4M166 66l1 4-2 6-1 4-1 5 2 7 1 6-1 4 2 5 0 7 2 4M167 123l2 4 2 4-2 7 1 7 0 4-4 3-3 3-2 4-1 4-4 4 5 2 4 6 5 1 4 3 4 2 1 5-2 5M170 38l5 3 4 5 2 5-4 2-5 1-4 5M170 164l0 4 1 5-1 5 0 5-5 1 7 0-6 1 3 3-1 5 0 6 3 5-2 4-3 4 5 2-3 6-6 5M176 136l-6 2 1 4 3 7-1 5 5 5M156 202l-1 5 5 0-3 7 5 1M177-38l-6 4 5 2 4 5 1 5 3 6-4 1-1 7-2 6 0 5-2 3 4 5 4 6 2 5-4 1-7 1-5 2-2 3M178 141l2 4-3 5 0 5-6 4 0 6-2 4 3 6 2 5-2 4-1 5 3 7 1 5 6 2M180 172l-1 6-3 5 5 2 0 6 4 4 2 6-2 4 5 2 5 4-4 4 8 1M184 2l-4 6 6 1 1 5-3 3-4 3 5 1-4 1 2 4-2 3-6 2 4 5-1 7-1 5 6 2-2 6 1 4-3 6-1 4M184 180l4 3-3 4-2 7 4 5 1 6 2 4 3 4-5 4-4 6-7 1 0 5 3 4 3 5 5 2 4 2 2 6-6 3M199 43l-3 6M198 69l1 6-3 6 0 5-2 4-3 7-1 7-1 5M202 160l2 5 5 4-7 1 3 6 1 4-2 6 6 1-6 0-7 1 4 2M204 24l-5 4-7 0-4 3 4 5-3 5-1 7-3 3 7 0 4 5 1 6-2 5M206-1l-3 5 0 6M214 28l1 5 0 5 4 3 2 4-4 2 7 3-4 2-4 6-4 3-2 7 2 7 1 5 0 5-1 5M208 103l-2 4-2 7 0 7 1 6 2 5 2 4M217 90l2 7 1 5M218-27l4 0-2 4 0 4-7 1 5 4-4 3 1 6-3 3-2 4-3 4 6 0-4 6 6 0 4 2 7 3 7 2-7 3-1 4-3 5 3 6 3 3M220 93l1 6 1 6 1 7M218 154l-5 3 5 3-7 0 1 6 5 5 7 1 1 7 1 5-1 4-3 5 2 5-5 0-5 1 4 0-4 2 4 6 2 5 6 3 1 5-5 1-4 1-1 5M221 141l0 5-5 5 1 6-4 0-2 7-1 6 4 2M222 203l0 7 3 5-6 3-3 2 5 2 7 1 4 5-6 2-5 3 3 6 4 3-6 2 6 1 5 0 6 2 1 6-7 0-5 4 4 1-3 2 4 4-5 0-5 2M225 105l0 5M234 74l1 7M240 164l1 5 3 6-1 4 3 5 2 5M241 176l-4 0 2 5 0 7 2 3-6 3-2 4-4 2 1 5 4 1-1 5 4 0 3 3 2 4 5 5-7 0-1 7 6 1 3 6M246 26l-1 5-2 6 1 6 2 6 4 3-4 6"/>
<path stroke="#7474e8" d="M6-57l1 5-6 1 7 0 5 3 4 5 4 6-4 6-1 7-5 1M12 156l3 5-4 7M7 168l-6 1 5 1 5 1-3 4-6 0 0 8M252 183l-5 0 0 6 5 5-6 4-2 4-4 6-1 5 7 0 0 7 4 6-5 3 4 0 2 5M13-55l0 4-1 4-1 7 0 5 5 0-4 4 2 4 1 7-4 1 5 0 2 5-5 4 6 4-6 3-3 4 1 6 1 5 3 4M21 27l7 2 1 5-2 6 0 4 3 4-3 6-3 7-1 6-1 6 1 6M22 95l0 6 1 5 1 5 1 6 1 4 2 7-4 0-1 6-1 7M14 148l1 5 3 4 1 5 5 4M22 153l5 3-1 7-5 4-2 4 5 3-3 5M26 101l-2 6 2 6 0 8M32-48l-5 3-5 3 2 4-5 2 4 3-1 5 0 8 4 2-1 5 7 0 4 2-4 5 0 4-5 3 2 6-5 3 4 5-6 2M31 5l4 6 4 4-8 1-5 3-5 4 2 5 1 4-5 3-2 4 4 0-5 1 1 4 3 5-1 7 2 4 5 2M31 189l-4 5-5 2-1 7-1 5-2 6 0 6 2 5 1 5 4 1-3 2 5 0-5 4 0 5-5 5-4 4 0 7M36-44l1 5-1 7 5 4 2 6-1 5-4 2 1 6 2 4 0 6 4 1-2 6 1 5 3 7M39 22l-4 4 4 5 4 3-1 4-3 6-3 5-3 5 0 7M39 143l1 6 3 4 2 6-7 0-5 4-3 7-1 6 6 2 5 0 5 1 2 6-5 2 3 4-5 5-5 4-1 5-4 1 3 3M47 43l-2 6-1 6 2 6 4 6M55 112l2 5-1 7-1 5M54 172l-3 3 7 1 2 5-6 2-2 5 0 7-2 5-6 3 6 4-5 3 0 7 2 5 1 7-1 4 6 5M58 136l2 5-3 4-4 4-2 6 3 2 7 1 1 5 1 6 4 2-4 3-7 3-6 4 6 4-2 6-7 2-6 3-3 6-3 6M62 105l-4 6-1 4 0 6-2 5M63-60l-1 4-2 4-2 7-3 4-1 5 5 0 6 1-1 4 4 4-4 6 5 1-4 4 4 0 4 4-1 7-4 3-3 3M64 24l-5 3 4 4M62 61l-4 4-1 4 0 7-1 7 0 7 1 7 3 6 2 7 2 4 1 7-1 7M63 126l-1 7 1 5-4 6 1 5-1 7 3 6 5 5 2 7 3 5 4 1 1 5-7 1 0 7 0 7M70 177l3 6 5 1 0 5 4 4 2 6 1 6-4 5M68 236l6 5 5 1-7 0 5 3M83 153l-3 3 4 4-1 5 4 1 3 6 4 2 5 5 4 3 1 8M89 0l-3 6 2 4-2 7-4 3 4 3 3 7-2 5-3 3 7 2 3 4-7 2 6 1-6 0 0 4-3 6 1 6M93 83l0 5M99 196l2 6-5 1-2 4 1 6-3 2-7 3-3 6 6 1 4 5 6 2 1 5-1 6-1 7-5 1 1 5-2 5M102 4l2 7-5 4 2 7 4 6 0 6 1 5-1 4-1 5-2 7 0 4 0 5 2 5M100 120l-3 4-2 5 0 5M102 173l2 5 4 4-2 4-3 4-3 3-5 3 4 4 7 0 6 1 1 7 0 5-1 6-2 4 5 0-3 4-3 6 0 7M107 53l-3 5 5 2 4 4 0 7M106 173l3 4 0 6-6 2-1 6 2 3-1 5 3 5-2 6 4 5 4 0 1 5 0 5-4 3 0 6 0 5 0 4 4 2M110 58l2 4 1 4-2 6 3 6 0 6-1 6-2 6-1 6-2 5 0 5 1 6 1 7M111 117l1 4 0 5 2 6 0 7-1 4-5 2-1 5 1 5 1 6-4 5-3 3-6 3 2 5 1 7M112 170l2 6 5 0 2 4M117 120l3 7-1 4M123 145l2 5-2 6 2 4-1 5-1 5 1 7-2 4-2 4 1 5-4 1 2 3 4 4 1 6 4 6 4 0 2 7M126 192l5 1-5 0 5 2 1 4-3 6 5 5-1 6 2 5 1 6-6 4-3 7 4 4-5 0-4 6 2 5M135-24l-3 2 2 5-5 3-4 1 6 0 4 4 2 5 5 1 2 4 1 6M137 36l5 1 2 4 3 4-3 4-6 2 2 4 1 5-5 5M139 106l0 4 1 5-1 7M142 8l-4 3 1 5 4 2-2 5-6 1 4 5 4 3 4 2-6 4-1 4-3 4-3 2-2 5-1 4 4 6M139 124l0 5M138 153l-4 4-4 3 4 0 3 4M144-48l-2 5-3 4 1 7-2 4-7 1 6 3 4 5-5 1 1 6 6 0 5 1-6 3 6 3 5 5-2 7-1 4-4 2 0 5M141 166l3 5 1 4 5 4 7 2-4 7 4 3 3 4-5 0-5 1-7 2-3 3M147 104l0 5 1 6-1 5 0 4 0 5 3 6-1 5-5 5-2 4-5 4 4 6 2 5 0 5 2 5-4 2M153-60l-7 1 1 6 5 1 2 5-3 4-3 5 5 0 1 5M152 131l0 6-2 4-1 4M153 187l-3 5 3 3-4 0-4 4-4 5 0 6-5 1 4 0 2 6-1 7 3 5 1 4 2 5 5 3 4 6 5 4 1 7M157 141l-1 5-5 3-1 6-3 4 1 6 1 6 3 5-4 5 4 5-1 8 0 5 0 8M170 143l4 4 0 7 4 5 5 2-5 4M173-39l4 3 2 6-2 5-1 7-4 2 5 0 6 3-3 4-2 6 5 5-1 5 2 6-7 0 3 6-6 3-5 3 0 7M171 27l0 4-5 1-3 6-1 4-2 6M174 99l-1 6M169 150l-2 3-1 5 3 4 2 4-5 3-2 6-4 6-1 4 1 6-2 4M175 111l-2 7-1 6M180 170l-2 5-6 0 3 4 2 7-2 4-7 1 2 6M175 181l-2 4-3 3-2 6 3 4-3 3 1 6 6 3 1 4 0 7-4 4 2 4-3 4-4 5 7 1-1 6 1 4M187 161l5 2-4 3 0 5M185-57l-5 1-6 2 3 6 1 4 2 5-6 3-4 2 5 3 7 3 6 1-5 0 2 6-4 1 1 6 3 5 2 4-1 5-1 4-1 4-1 7M186-38l7 3 0 6-3 6 5 5 4 4-2 7-6 1-6 1 5 3 0 5 3 4-1 3 3 5 3 5-1 7 3 5M188 147l-5 2 6 0-3 6 6 3-4 4-1 4M191-22l-1 6 5 4-6 1-2 6-5 1 3 5 6 4 0 5 2 5-5 4 3 5-7 2 2 4-4 1 2 7 4 4M193 3l-5 1 3 6 0 6 0 5 6 3M197-30l0 5-2 4-2 4 0 5 4 6 4 6-7 1-2 5 5 3 4 1 0 7-3 3 1 4-1 5 2 6M197 88l1 6 1 4 1 5 2 7 0 5 1 7 0 4 0 7-1 6 0 5-1 6-5 3M199-24l6 1-4 5-5 1 3 3-1 7 1 5-1 6-1 8-4 0 1 5 0 5 6 1 3 6 4 2 0 5-1 6M199 158l5 2 1 5 6 4 1 5-6 1 3 3-4 3 0 4-3 7 2 4M206 209l0 6-2 4M204 197l4 6 0 5 0 6-1 4 3 3-5 1M204 166l-3 3-1 6 1 6-5 0 2 5 5 5M205 180l1 4 1 4-3 3 6 2-2 3-5 3-7 2-5 4 3 4 1 6 1 5-7 1 2 6 7 2 3 6 2 6 2 4 6 4M209-37l1 4-7 2 2 5-4 4-5 3 1 5 4 4M211-1l-2 7 4 5-5 2-1 6-6 3 1 4-5 1-4 2 6 0 1 5M204 129l0 6-1 6 0 6 3 3-1 7M214-40l0 4 1 7-1 7 3 5-7 0 1 7 0 7 5 1-4 0-2 5 0 5M216 147l0 7 5 3-4 4 1 5-5 4 1 5-2 5 6 0 5 3-2 5-3 5 4 6 5 2-5 3 2 4M211 198l4 6 1 7 0 7-3 7-4 1 2 4 2 4-3 5-6 1-2 7-3 2-4 3-2 7-3 4 5 0M215 29l-4 0-2 5 2 6 5 4-3 3 3 4-1 5 0 5-2 5-1 6M220-36l3 4-4 4 1 7 2 7-4 2 3 3 0 5 5 3-4 5-5 5-2 5 0 7-5 2 6 3 7 1 3 4-3 4M225 28l6 5 5 0 0 7 4 6-3 5-6 5 0 4-5 4 1 8 0 6 1 5-1 4 1 4M226 145l-3 3-3 6 4 1 5 3-5 0 6 1 1 8 3 6 3 2 4 6-4 3-1 5-4 0-1 7-5 1 4 2 3 6-3 4M225 152l-1 6 2 7-3 4-1 5 7 0M233 13l3 4-3 7M226 145l-1 6 6 1 5 5-4 4M233 126l0 6-2 5 0 5-2 6 4 3-7 3M239 59l3 5 1 5-1 5 6 2 0 5 0 5 1 5 0 5 0 6-2 6M247-39l1 4-4 6 1 6 5 1-5 0-2 4 5 3 4 2-2 7 0 5-7 3-5 5 2 6 6 0-2 7-4 4 1 5-4 7M245 63l0 4 0 5-2 5-1 4-1 5M245 73l1 4 0 6 3 5"/>
<path stroke="#9c9cf0" d="M252 46l-6 2-5 5 3 7M250 214l-4 0 4 5M6-19l5 5-3 2 3 3-2 7 2 6-4 3 2 5M249 201l-4 5 2 5-4 7 4 1 1 5 2 4 2 5M7-22l3 4-1 4 4 1 6 1 2 4 4 3 0 5-7 0-3 6-5 0-4 1 4 2-2 5-5 1 4 4-2 6 1 5 1 5 5 3 1 6M8 108l1 5M15 2l5 2 4 1-5 5-2 7 0 6 2 5 4 5-1 4-4 4-5 0 4 3-6 1 5 0 4 6 1 4 2 4 4 6M17 170l-5 2 0 6-5 5-4 3 4 2-5 1 2 4 4 4 5 0-3 4-4 2 5 3 6 3 6 0 5 3-5 1 6 3-5 4 0 4-3 3-7 2 1 5-3 7M20-22l-1 4 4 5 4 2 7 4-2 6-4 6 1 4-2 7 0 4-7 2-4 3 3 4-4 6 5 6M24 33l3 7 4 5 3 6-5 4M15 188l4 1-6 1-7 3 5 5-5 1 2 4 6 1-5 3 5 1-5 0-4 3-2 4 4 2 2 5M27-19l-3 2-6 1 0 6 6 4 1 6-5 5-6 1 4 0 5 4 4 0 3 5-2 6 1 6 2 7 4 1-5 4-3 5-5 3 2 4 3 4M28 128l0 5 2 6M34 18l-1 5M33 121l-1 6-1 4-1 7M34 193l1 7 2 4-3 6 2 6-3 3 2 8-4 3 5 3 1 6 2 7-2 5 5 2-4 1-6 1M40-37l0 7-4 4 4 6 0 6 6 1 2 6-7 2 5 0-5 3 2 6-2 4-4 6 0 6 4 3 1 5M33 74l2 5 0 7M40 208l3 5-2 5-1 4 4 6 2 5-3 2 0 7-4 1-7 1 7 0-6 1 1 5-2 7 3 3 4 3 0 7 5 1 4 6M50 185l0 7 0 5M41 194l-6 3 1 4 2 4-6 1 1 6 4 4-3 5 5 3 0 5 3 6-1 5-1 6-6 4 2 6 4 2M45-46l-1 4 1 6 1 5 3 5-3 4-1 7 5 0 3 7-1 5-3 4 0 5-1 4 5 3-4 3 3 4-6 4-1 7M62 54l-2 5 3 5-4 5M67 141l1 5-1 6 4 4M67 152l-1 6M64 164l2 4-3 4-1 4 5 0 0 5-3 6-5 3 4 1M71-1l4 1 3 4-3 6M74 232l5 3 0 7-6 4M67 159l1 6 4 2 3 4 4 5-2 5-4 2-2 7-5 0 3 6M74-21l-2 4 4 2-4 7-1 6 2 7 0 5 1 6 1 7 0 7-3 7-3 4 0 6M78 189l-1 5-4 7 4 6 3 6 0 4-1 4-6 1 2 4-5 4M98 190l4 6-7 1-6 2-1 7-1 6-2 5 3 3M86 11l1 7-7 2 7 0-2 5-4 7-5 2-2 6 4 3 5 3 7 3-7 2 4 4 2 6-3 4-1 7-2 7M88 87l0 4 0 6-1 6 0 5M93-13l3 5 4 6 4 2-2 5-3 2 2 6-2 5-4 0 3 3 7 1 4 1-4 6 0 5-3 5 6 2M96 15l-7 4 4 5 1 5 6 0 2 5-2 4 2 4-2 7-4 5 0 5-4 3-3 7 4 6M94 200l3 6 4 3-3 4-5 2 0 7-2 7 1 6 2 6 7 2-1 5 5 2-5 4-5 4-2 5M97 82l-1 4M91-21l-5 3 4 3 2 6 5 1 3 4 4 4 4 4-4 6M108 139l-1 7 0 6M115-41l-1 5-6 0-5 5-2 6 2 4 4 5 7 0 1 5 1 8-6 2-2 6-3 6 0 6-1 5 0 4M111 16l1 5-6 3-3 4 3 4 4 6 5 3 3 5M120 145l-6 4-2 6-2 7 5 0 4 4-4 2 2 4M122 19l4 1 2 5 4 2-1 6-4 5-3 5-1 5-2 7M125 64l0 8 0 6 2 5-1 7M121 79l1 5M125 3l-2 5-4 5 1 7 2 4 4 0-6 2-1 5-5 2-4 2 2 5-3 5 3 4 6 1 3 4 5 3 2 4 2 3-3 6-1 7M138 158l3 4-1 7M128 164l7 2-4 2 3 6-3 6-1 6 2 6 2 4M140 7l-2 7 5 5 0 5 2 6-3 6-1 4M136 41l-1 5-3 5 4 3 6 5M136 165l-2 7 0 5 2 4-3 4-2 7 2 3 3 6 1 6-3 5 1 7-2 3 0 4 4 6M141 134l-6 5M144 11l0 4-5 5 2 4-4 4-1 7M142 40l4 1 5 5 3 6 2 4-2 6M144 184l-6 2-1 4-1 6 7 0 4 5-1 6 3 6-4 6-2 7 4 5-4 5-5 4 1 4 1 6-5 5M149-58l-7 1-2 5-3 4 8 0-4 6-4 4 2 3 7 3-2 6-5 5 7 1 3 2 1 4 5 1-5 1-3 4 5 4-5 3 4 3M150 187l-7 2 4 6-4 0M155-18l-1 5-2 6-1 7-5 2 5 2M151 106l0 4-1 7M157-9l1 5-4 4 0 4 7 0 6 4 6 2 5 5-6 0 0 5-5 0-6 1-4 0 4 6 3 6-5 2 3 5 6 0-6 2 5 4-4 2 0 5-5 5-2 4M155 173l6 2-2 5 1 5 0 5 0 6 0 5-7 2 4 5-4 0 1 7 3 4 4 5 1 4 2 6 1 7-5 0-7 1 0 7M160-47l6 1-2 6 0 5 1 4-4 4-6 1-1 5-6 3-2 7-6 0 7 1 4 2 7 0 8 1 3 5-5 2-6 2 1 5 1 4 2 5 4 2 2 6-3 4M164 131l1 7-1 5 0 5-2 3-5 4 4 6 5 2 4 3 3 6-5 4 5 3 3 5 3 7 1 4M172 63l-3 6M180 210l4 1-3 4 2 5 3 4-5 1-2 6 3 4 5 3 2 4-3 5 1 4 2 5 4 5-3 4-6 1-7 4 3 3-5 1-5 4 1 4M181-7l-5 5 5 1-1 6 4 4 7 1-2 6-1 5 3 6 3 5-5 3-6 0-3 5 0 5-1 5 1 5-2 7 4 5M183 46l4 4M194 217l-2 4-3 2-4 3-4 1 1 4-4 3-3 3-1 5M183 74l-2 6M188 22l-5 1-1 6 8 0 3 7 1 7-5 4-5 2 1 4 4 6 1 6-1 5 1 6-1 4-2 6-3 6M176 170l-1 5-4 5-4 2 0 5 5 5 5 4 2 4 6 0 7 0-3 4-3 7-4 1 5 1-6 4M191 46l-4 0M193 89l2 6 1 5 1 8-2 6M204-38l-1 7 4 5 3 6-5 2-4 3 5 1-2 5-5 2-1 6 7 0-2 7-3 4 2 5 1 4 1 5 4 2-5 2 4 3-4 2M196 133l5 6 0 5M193 232l-5 4-2 5 1 4-3 5 3 4 5 5M210 24l2 4 1 5-4 0 1 5M209 89l1 5M208 151l0 5-2 6 3 6 2 6 1 4-1 7-5 4-1 6 3 4-2 6 3 5-4 1M232 45l-2 4-3 6-2 4-5 5-3 6-1 5M225-35l0 5-6 3-6 0 3 3 2 6 2 6M222 139l3 6 1 4 7 4M227 54l6 2M228 82l0 5-1 7M230 24l-4 6-1 4 4 4-1 7M231 153l0 6 0 4-4 5 0 7 4 5 5 0 3 7 0 5-5 6-7 1 4 4-4 3-4 1 3 5-1 4M235-22l-2 4 1 4-3 4 0 5 4 1 3 6-1 6-1 4 0 6-6 3 0 7-5 1-4 1 7 1 1 7 6 0 3 5M233 155l0 5-5 2-4 1 4 6 7 3 5 4 6 1 0 7-1 6 3 6 1 6-7 1-4 6 0 7 2 4M237 87l0 4M243 158l1 6 0 6-3 6-5 1 5 1 0 5-4 0-5 0 1 5-1 6 5 3 0 5 0 5 3 7 2 7M-2-59l6 1 1 7 1 3-7 1M249-47l-6 1 6 4-3 3-2 7-2 4-3 5 1 5-5 1 1 5-1 5 2 4-5 6-4 4M246 143l2 6M244 255l6 3"/>
<path stroke="#4444dc" d="M247 6l-4 2 3 4 2 6 4 1-3 3M-1 22l5 6 7 1-4 5-1 4-3 3-3 2 2 3M5 121l-1 5M3 187l6 1-6 0-1 6 2 3-5 4M12-15l-2 5-7 2 2 5-2 4 2 4 1 6 5 4 2 4 2 4-6 5-1 4 5 5M10 32l-1 6-1 7-3 5 4 0 6 1 1 4-2 4-5 4-1 4-3 5-2 5 0 4 3 7 1 5M4 134l-3 4M12 156l3 3 0 5-3 5 1 4 4 7 6 2-2 5-2 5-2 6-7 1-4 4-6 4 7 1 5 3 6 4 1 6 3 5-2 4M10 113l1 7 3 6 0 6M17 144l1 4 3 4-2 5 5 5-4 4 2 7-1 7 1 6M20 171l-7 1 4 3M33 144l2 4-6 1-1 5-2 5 0 6-1 5M30 4l1 6 6 4M35 38l-2 6 1 6 0 5M30 131l2 7M29 180l-4 6-6 0-3 5 0 6 2 4 4 3 7 0-4 6-2 5 5 4 3 7-4 5 0 7 0 6M33 125l0 4 0 6 1 4 3 6 2 7-4 5 0 6-2 3 6 3-5 1-6 2 0 7-4 1-3 5 3 3 4 6M44 99l0 7 0 7-1 6 0 5 0 4 0 5M45 19l4 3 5 4-4 3-3 3 5 1 0 7 0 4 0 5-5 2-4 2-2 4-3 5 1 5 3 6 0 6M46 134l1 6 3 7 4 3 3 6-3 4 0 6-5 3-1 7-2 6-2 6-1 5-5 3 4 4M46 200l5 0 7 2-4 1 1 7-1 5-5 2 1 7-5 2-5 2-2 4 0 7-1 8 2 5-6 3 1 6 7 1 0 5M50 108l0 7 0 5-1 4 0 4 2 5M54 144l0 5 0 4-6 2-4 6 1 4 4 3-3 6 4 5M56 16l5 2 1 8 4 5 4 2-5 0-2 6-6 0 1 7-1 4-3 6 0 5-1 5M60-23l1 4 8 1-4 3 3 5 7 4M61 159l2 5 2 5 5 3 7 1 1 5-1 5-2 5-6 3 0 6M64 189l-2 5-2 6 4 3-3 6 6 1 0 8-4 3-1 6 4 1 5 0 2 7-4 4-4 6-4 2 5 4-1 5 3 6M68-29l0 6 1 5 1 4 1 4 1 5 0 6 5 3-5 1 2 4-3 5-3 3 4 4-4 3-2 6 1 4 2 6M69 210l1 7M72 67l-3 4 0 5 0 8M65 37l4 4-1 5-7 1 8 0 1 7 4 1 0 5M73 158l1 6M80 152l-1 6-1 7-4 6-1 6 4 4 4 2-1 8 2 7M70 248l0 4 4 6M82 41l-6 1-5 4 3 4 5 4 2 5 4 6 2 7 1 4 0 5-1 7M85-48l-6 1-2 4 3 7 2 7-5 1 6 2 3 6 6 2 2 6 3 5 1 4 0 6-7 1-5 0 4 5 0 6M86 131l-1 6-1 5-2 5-1 4 0 5 5 3-2 7 3 2-5 1-2 5 5 1 3 6 6 0-3 5-6 3-1 4 3 6M88 189l3 7-2 5 5 1 0 7 0 5 3 2-2 5 5 4-1 5M100 244l2 7-5 2 1 4M96-51l0 6 5 2-4 1-3 5-4 6 0 6-4 5 4 3-5 6-3 5 3 4 2 4 2 6-5 0 0 6 3 3-7 2M96 129l0 7-1 6 0 5M99 120l-2 6M94 172l-7 2 0 6M90 168l-5 4 4 4 4 0-2 6 1 5M106-3l2 3 1 5-1 4-2 6-7 3-7 0 5 4-6 1-2 4 2 4 1 7 2 6 6 0-1 7 5 3 3 3-1 5M111-3l0 5-4 6-4 1 0 8 2 5 0 5 3 3-1 6-1 5 0 4 1 6-5 1-3 4 5 5-1 5M114-8l-6 0-3 6 1 7 1 5-2 5 0 7 1 6 6 4M116 76l0 4M115 200l4 3-1 4-5 1 4 4-2 3 7 1 2 7-4 6 3 4 3 3 3 6-3 3 5 5-3 3 2 6-5 4-1 3-3 7M120-30l3 2 0 7-4 4 2 4-6 3-2 6-1 6-5 2 3 4 6 4M116 177l7 2 2 6-3 6 0 6 2 4-1 7-5 1-6 2 0 7M121 125l1 4 1 6 0 7 6 3M126 132l1 7 2 5 1 6 5 5-2 6-6 3 1 4 4 1-6 3 0 5-1 6-6 1 1 5-4 3 5 2-1 7M129-41l-2 5-5 1 4 4 0 6 5 4 0 5 3 3-1 4-7 3 4 5-5 6-1 4 4 5 6 1-7 3 6 4 3 7M136 46l-4 4-7 1M134 68l-1 7 2 3 1 4M139 79l0 5 0 6M141 133l0 6M150 172l4 5 0 6 2 6-3 5M142 213l4 3-2 6 2 6 6 1 2 5 2 3 3 6 1 5 2 6 3 2-3 4M149 160l2 6-3 3 0 5-2 6-5 5 0 7M157 153l-3 5-2 6-2 5-5 2-6 4M160 19l-4 6 4 6-1 6-6 3 5 5 5 3 2 4-1 4-1 7-3 3-1 5-2 5M163 3l-2 6 7 1 5 5-6 0-5 4-2 5 3 5 4 4-5 2-2 5 6 1-2 6 1 6 0 5-2 4 0 4M171 203l-3 6-1 7 1 6 0 4-3 6 3 6-1 5 1 8 4 1 4 3-7 2-1 4M164-55l1 6 3 5-7 1 4 4-4 3 1 4-4 1 5 2 0 4 3 4-1 5-6 4 1 7-1 4 7 3-1 4 0 6 0 4M164 6l-4 4 2 4 1 7 0 6-4 5 1 7 1 5 2 7-1 6 3 7 1 6 0 5M170-12l3 5 5 4 3 3 1 7-3 5 1 7-4 6-4 4-4 1-3 6-5 0-6 2 4 5 1 5 8 1 4 6 4 5M169 128l0 4-4 5 0 5M172 149l7 2-2 6 0 4M172 133l2 6-1 5 3 4M183 175l-1 4 5 2 4 3 6 0M178 101l2 6 1 6 0 4-1 5 0 6M183 126l-1 5-3 7-2 7-1 6-4 5 2 6 4 6 1 6 3 4 0 4 2 4 3 5M191 162l2 6 1 5 1 6-4 5 1 5-2 3 0 6 2 5 4 5 0 4-5 1 6 1-3 2-5 1-3 4-1 8 1 4M195 138l1 7M201 37l2 4-3 7 0 7 4 3 0 5 0 6 3 6 0 4 1 7-1 7 0 4 1 7-1 5M202 144l3 4 0 5 3 6-5 3M204 153l3 3 2 6-2 5 0 7-1 7 4 4-5 5 3 5-6 1 1 7 3 4-3 5 6 0 6 1 6 3 0 4-1 6M200 60l1 7M206 60l-2 4-3 5 3 7 2 7 1 5 0 5 1 6 1 5M215-30l-4 2-1 7 0 5 6 1-5 0-5 2-1 4 3 6 1 6 0 7 4 4 2 7-1 4-7 2 0 4 4 4M215 154l0 7 5 2 0 4-5 3-5 4 1 7 0 5 5 5-5 0 5 1 0 5 6 2-1 4 3 6M223 114l1 7-2 5-2 4-4 6 0 7 0 5-1 7M217 177l5 5-5 1-3 3-4 5 7 2 5 1 1 6 1 7-1 5M217 13l-4 2 3 3 2 5-5 5M232-36l2 3 4 3-1 6-5 6 3 5-6 6 1 7-5 5M240-3l-4 5 0 6 5 4-6 2 2 4 6 1-6 2-4 5 1 5-3 6 7 2-6 1 6 4 1 5-3 4 2 6M245 148l-4 5 0 5 3 4-4 5-4 4 5 3 0 7 0 6 6 1-2 3M243 172l6 3-6 0-3 4-1 5-5 5-6 1 2 5 1 5-3 5 4 4 7 0-2 6 3 6 4 5-2 4 0 4-1 4-6 1 5 0 7 3 3 2M247 207l3 6-7 3 6 3-5 5-5 3-5 2-3 5 5 4 1 5"/>
<path stroke="#de5656" d="M3 62l2 4-1 4-2 4 0 7-3 6 0 4 0 6M249 97l-3 5 1 4 1 7 0 4 2 7 1 7 0 4M4 126l0 5 1 5 1 4M13 37l4 3 2 4-4 3-1 8M14 65l0 7-2 7-2 6-1 4-2 6 0 7 1 6 2 5M16 106l-1 5-1 5 2 6 0 7 1 7 3 6 0 4 1 6-6 3 2 4 2 6 1 6M21 179l-4 3-4 2 2 4M23 91l3 6 0 5M30 139l3 5M34 85l0 4-1 4-2 7M32 138l1 5-6 4-6 4-1 5 5 4M26 62l1 5 1 5 5 5M35 133l-2 4-2 4 0 4-2 4-3 5 0 6-1 6M42 71l1 6M43 93l1 6M43 133l-3 4 0 6-2 5M41 130l-1 5 1 5-5 5M42 79l2 6 0 5M45 138l-2 4M53 103l-3 5M67-9l-1 4M58 81l0 6M55 134l0 6 1 5M50 66l6 1-1 6 2 4 1 4-1 5 2 8 0 5-1 4 0 5M65 13l1 6-2 5M62 47l0 7M67 101l-1 6M66 158l4 5-6 1M75 10l-4 2 0 8-2 3-2 7 1 4 2 7-2 5 2 7 4 3 5 4 5 4 3 3-1 5M66-7l5 4-5 5 0 3-1 6M82 63l-5 4-4 4-3 4M71 93l3 5 1 7 1 7-1 6-2 7-1 5M74 93l2 5 2 6 1 5-2 5-1 6 0 7-3 6 0 6-3 3-4 6 2 7 5 3M77 85l-1 4-3 7 0 5-2 7-2 5 2 6 0 4 3 7 2 4 2 5 2 3M87 88l-1 7-2 6-1 6-1 7M81 90l2 8 0 7 2 5 0 7 1 6-2 7-2 5-2 6-2 6-3 6-2 3M86 74l0 6 2 7M99 13l-1 4-6 2-6 0-2 7M95 99l-2 7-1 7-1 4M93 129l-2 4-2 5 3 7 2 7-4 4-1 6M97-48l5 3-4 5-5 4-1 4 6 0 5 5 4 6-7 1-4 5 6 2-3 4 3 7 2 5 6 5-2 4 2 4M105 122l2 5 1 6 0 6M116 80l1 4 1 7-1 7 1 6-3 5 6 2-3 4-1 4-2 5-1 4-1 5-2 7 7 0M116 12l-5 4M119 89l0 5-1 6-1 7 0 7 0 6M119 131l3 5-3 6-1 7 2 5-2 6M117 172l-1 5M131 17l1 6-3 5-6 5M136 65l3 5 0 6 0 7 2 6-1 4 1 5 0 5M136 35l1 4 5 1M144 128l-1 6 1 4-1 6 0 7 2 6-2 5-2 4M150 116l-1 5 0 4 1 7M149 145l2 6 4 5-1 4-5 0M156 110l-1 4-4 6 2 7 0 5 2 5-1 4 1 6 2 6M157 76l-2 6M173 105l1 6 0 7 0 5 1 6 1 7M171 145l-2 5M173 58l-1 5M187 50l0 6-1 6-3 6 2 5 1 7-2 5-2 7-3 6-2 4 0 5 0 5-1 5M187 46l0 7 1 5-3 4 0 6 2 5 2 7 3 3 1 6M188 141l-1 6-1 7M197 24l-5 3 4 5 2 4 1 7M194 64l4 5M189 109l0 6 1 6 1 4M204 196l-4 5 6 3 0 5M201-10l2 3 3 5 5 1M210 38l-2 7-3 5 0 7 1 7 0 4 4 6 0 6 2 7 1 6M209 84l0 5M210 8l0 4 6 5-1 6 0 4M218 72l0 5 1 6-1 5 0 5 0 5M222 29l4 4 4 5 2 7M222 83l0 7 0 5 0 7 1 6 0 6M220-12l2 6-4 1-3 4-2 4 5 1 5 2-5 2-1 5M233 56l0 4M228 113l1 5 2 6 1 5M225 5l4 3 5 1-1 4M233 24l3 3 1 4M228 45l-4 2-1 5 0 7 0 4 2 5-1 7 2 4 1 6-1 4 0 5M235 81l0 5 0 6 0 7 1 6M247 108l1 5-2 5-2 4-1 7-1 5M241 86l1 6 0 5M249 88l1 7 2 6 0 5 0 6 0 5-2 7-3 5-1 6-2 5"/>
<path stroke="#e67878" d="M3 126l1 4 4 5-2 5-2 4M11-23l-5 4M7 47l0 5 1 7 6 4-1 3-1 5-3 4-1 5-2 4-1 4-1 4 0 4 1 6 0 4 4 5M8 103l-2 4 2 6 0 6 2 5 0 5 1 4 0 5 1 6 1 4-3 4 2 4M1 138l1 7M15 122l0 6-1 6 1 6 2 4M17 58l-3 6 0 6-2 6 2 5 3 3 2 5 1 4 2 3 0 7 0 5 0 5 0 4-1 5M21 98l1 5 1 4 1 7 0 7 0 5-6 2 0 8 3 6-3 6 0 7 1 5-5 4 1 5M22 141l-4 3-4 4M26 121l2 7M30 58l3 6 0 4 3 6M31 116l2 8 2 5 3 7M33 61l0 7 0 6M37 114l-1 6-1 5 2 6-1 8 0 6-1 6M39 165l-3 3-3 3 4 1 5 5 3 5 5 3M50 67l1 7 1 6 1 6 0 5 2 6 0 6 2 4 0 5M50 29l-4 6 5 4 3 5-5 5-6 3-1 6-2 7 0 5 3 5 1 4 2 3 2 5 3 7M54 57l-5 4-2 4 1 6 2 4 0 5 2 5 2 4 0 7-1 6 1 5-1 5 0 5 1 5M55 129l1 6-1 5-1 4M53 66l2 5-2 4-2 6 0 6M75-6l-1 5-4 2-4 2M59 41l7 3M55 126l0 4M69 118l-2 6-2 4-2 6-2 4M81 210l-1 7-5 3 2 6-3 6M69 84l1 4M73 131l0 4-2 6 3 6-3 3-3 3-1 6M78 69l-1 7 1 4M70 230l-2 6M99 230l-3 6 0 7 4 1M108 41l-4 1-3 4-6 0 0 7-5 4 2 5M93 88l2 5M91 188l1 6M93 263l2 7M104 86l1 4 1 7-3 3-3 7-2 6 1 7M94 50l3 5 2 4M114 132l-4 3M112 32l5 3 1 5 3 7-3 3 0 6M112 110l3 5 0 7 0 6-2 4 0 7-3 4-1 6 1 5 2 6-3 4 6 1-3 5M121 55l1 4 3 5M122 84l-3 6-2 5-1 6 1 7 0 4 3 7 1 6M127 68l4 6 1 7 1 6-1 5 0 5-2 4-1 5-1 7-2 6-1 5-1 6M127 11l4 5M128 78l0 7 0 6-2 7-2 5-2 6-1 6 0 4 1 6-3 2 2 7 1 7 4 3 2 6M135 43l0 5M134 196l0 7 5 1-4 0-4 5 3 4M145 7l-5 0M137-27l-5 5 4 2M138 93l1 7 0 6M135 63l-1 5M140 74l-1 5M135 139l1 6 3 4-1 4M137 164l-4 3 6 0 3 5 8 0M154 62l1 6-1 4M151 98l-1 5 0 4-2 7M151 2l0 5-3 5M151 6l-1 4 3 7-4 1 1 7-6 4-2 4 4 1 1 6 2 6M150 61l-1 4 0 5-2 4M143 195l-4 7 2 5-4 4 5 2M154-33l-1 5 2 6 7 1-7 3M152 57l0 7-3 5 1 6 0 5 2 5-1 6 0 5 0 6 0 4M150 117l2 7-1 4 1 5M154 118l-1 6-1 7M158 135l-1 6M162 65l0 6-2 6M163 95l-1 4-1 7 0 5 1 7 1 6-2 6 1 5M163 189l1 7 6 1 1 6M169 118l3 7 1 6M160 48l-2 6 4 4 4 4 2 6 1 6-2 7 5 1-2 4-3 4M176 60l0 5-3 7 2 6 1 5 0 6-1 5 0 4 1 8-1 5M176 124l-1 5 0 7-1 6-2 7M177 161l-2 5 5 4M178 76l2 3-1 8-1 7-2 5-4 6-1 5 0 5 1 5-1 7 1 6M185 67l-2 7M189 81l3 7 0 6-2 5-2 4-2 5-2 4 0 4 0 6 2 7M187 166l-7 1-4 3M196 49l-5 1 3 6-3 5-2 5 3 5M194 119l3 7-1 5-1 7M195 67l0 8 2 3 1 5 3 4 0 6 1 7M202 76l0 7-1 4-1 7 1 6-1 5-1 5-2 5-2 6 0 6 1 6M205 222l-5 4-3 2-4 4M212 85l-1 5 0 7-3 6M209 136l1 4-1 6M213 136l2 6 1 5M220 102l2 5 1 7-1 8 0 5-3 5-3 5 0 8 0 5 7 1 5 5M215 148l0 6M220 133l0 7 1 4M214 172l3 5M228 91l1 5 0 5M225 83l0 6 0 5 1 4-1 6 2 6-2 5-2 5 1 5-1 7-1 7M227 94l-1 4-1 7M231 99l-2 7-1 5-1 6 0 7 0 4-2 5 2 5-1 7M232 161l2 5M233 91l1 6 2 6 2 7-1 6-1 5-2 5-1 5-2 5 2 5-2 7 2 4-1 5M236 37l1 4-4 3 0 7 3 6M237 91l1 7 0 5 0 6-2 4 1 5-2 4-2 4M236 151l3 3 4 4"/>
<path stroke="#ee9898" d="M1 43l-1 7M250 50l-4 4 1 7 0 4 3 5-1 7-1 4 1 4 1 5 2 6M252 233l0 5M7 93l2 5M10 96l-1 7-1 5M9 113l-2 4-3 7-1 5 1 5M23 79l2 7-1 6-1 7M22 11l3 4 0 4M29 55l0 7 0 4-2 4-1 6 0 5 0 5 1 6 0 6M37 14l2 5-4 3 5 3-3 4 1 5-3 4M34 55l-1 7 1 5 3 7M28 118l1 6 1 7M37 112l0 6 1 7 0 6-2 4M33 23l-7 3 2 7M35 75l-1 4 3 7-2 7 1 5-1 6 0 5-1 5-1 7M44 74l0 5 0 5 1 7 2 5 2 5 0 6 1 5-1 6M49 108l-2 7-2 5 1 7 0 7 1 4 1 5 4 4M51 133l2 5 2 5 3 4 0 7 0 4-6 2 0 5-7 0-5 4M61 174l7 0 2 8M69 197l-6 4-1 4-5 0-3 5 4 7-4 1-7 2M65 1l5 4M63 31l-2 6M59 69l0 7M67 89l-2 7 1 4 0 4-1 7 1 7 2 5-1 5 1 6-1 7M63 191l4 5 5 5 3 4-6 5M63 74l1 6 3 6 2 6 0 4-1 6-2 5-2 5-2 6 2 4 0 4 2 5M76 26l-3 4-5 1-3 6M74 60l4 6-2 8-1 7-1 6M81 129l2 6-5 2 0 5-1 4 3 6M77 245l-7 3M104 190l-6 0M87 108l2 6 1 7 0 4-1 5 1 6-2 8M85 63l0 5M94 71l-1 7 0 5M92 100l1 7-1 6-1 5-1 5-2 5 0 7-3 5 0 4 2 5-5 3 1 6-4 0 1 6M93 75l2 8 3 6M93 73l4 6 1 6 2 7-2 5-1 5 0 6 0 5 0 5 0 5-1 6M90 40l-3 5 2 3 7 2-2 6 3 6 1 4 2 6 1 7 0 5M98 71l-1 6 0 5M96 86l1 6 0 6 1 4-1 5 1 5-1 7 0 6-1 7-1 4M98 124l1 7 0 6 0 4-2 6M95 134l2 6 5 1 2 6 2 4 1 6-4 4-5 6-4 5M97-25l-6 4M103 61l1 4-1 6-1 7 0 7-1 6 2 5 1 4 1 7 2 5 1 5 4 6M107 152l-3 4-5 2-4 1-4 3-1 5-6 1 6 0M113 71l1 4-1 8 0 4-2 7-1 7-1 4-1 5-1 7 0 5M107 110l-2 7 2 6 0 6 3 3-1 5 0 7M114 69l-2 6 0 5-2 5-1 7 6 1-2 4 0 5 0 6 1 7 0 6M116 143l-1 6-5 4M121 75l2 4 0 8 0 6M122-18l-4 6 5 6 2 6M136 41l0 5M125 51l0 6-1 5 0 4 0 5 0 4 0 7M131 97l-2 6-1 7 2 5 0 5 1 5 2 6 2 6 0 5 7 2-3 5-1 4 0 5M131 152l-6 1 2 4 1 7M142 59l2 6 1 6-1 6-3 5-1 6-1 7-3 6-2 4-2 4 0 4M134 102l1 6 0 5 1 6 1 5 0 7 3 7 0 4-1 6 5 4-1 4 4 5M123-12l4 2-4 3M139 122l0 5-2 6-2 5 0 4-2 7-2 6 2 6M139 90l-2 7 1 8 0 4 1 6-1 5 1 4M139 129l2 4M140 129l1 5M154 96l1 3 0 7-1 5-3 6-2 6-1 6M149 65l0 6 1 4 1 6 1 7 0 6-1 7-1 7-1 4-1 6-1 4 0 6-1 6M153 3l-1 5-5 1M160 54l-4 6 1 5-1 4M156 51l-3 5-2 6 1 6-2 4 0 7 1 5 3 5 1 5 3 6 1 6-3 7M168 59l-4 5 1 6-2 4 1 5-1 6 1 7 2 5 1 4 0 7 2 6M168 96l4 6 0 4 1 5-1 6-1 7-2 4M165 142l5 1M173 89l0 6 1 4M158 195l-2 7M176-1l6 1-4 2 5 2 3 5-5 0M179 84l0 5 1 5-1 5-1 5M183 112l0 5 1 6 0 5-2 5 0 6 1 6 2 6 5 3-3 7M188 171l-5 4M199 216l-5 1M174 242l-1 4M181 80l2 5-2 5 0 5-3 6M190 97l1 6 0 5M196 145l1 6 0 7 5 2M198 32l7 1 1 6 1 4-1 7-2 4-4 5-3 7 1 7 0 5 2 7 0 5 1 7M199 98l-1 5 0 5-1 6-2 7 2 7 2 5 1 5 2 6M203 10l5 1 0 4M203 55l-3 5M209 104l0 6 1 4-1 5-2 6M208 116l-1 4-1 5-2 7 2 5-1 8 4 6-4 3 0 6-1 6M210 94l1 5 0 5 0 7-3 6-2 6-2 6M212 72l2 6-1 4 0 5-1 6 0 6M223 112l0 5M216 75l0 5 1 4 1 5 2 6 1 6M213 28l0 5M232 64l-3 7-2 7 1 4M225 110l1 5 1 4M231 149l-6 3M229 174l5 1 2 3M231 61l0 7 3 6M241 118l2 5 1 5-2 4 1 6 2 6-5 6-3 5 4 4-1 5M238 66l2 5 1 5M243 63l-1 5 5 5 4 6-1 5M244 120l2 5 1 5 2 6-2 4 0 5-2 3M246 58l-1 5M1 196l0 6 2 4 3 6M237 243l3 3 5 0 3 4-4 5"/></g></symbol>
<symbol id="ts" viewBox="0 0 250 60" width="250" height="60" overflow="hidden"><g fill="none"><path stroke="#3838d8" d="M249-23l-3 6 1 7-1 6 6 0M248 2l3 3M6 62l4 2 0 5-7 2-3 6 4 6-1 4 0 4 2 5-5 4-2 4 6 5-4 4 2 7-4 6M22 31l-3 3-1 5 0 5M28 81l-8 0M33 31l-2 5 4 3-1 6-4 6 7 1-7 2 5 2 5 1-3 2 4 5-6 4 1 6-3 6 2 4-2 4M84 9l-7 1-3 5 6 0-6 4 6 3 0 6-4 1 7 1-4 3-2 4-1 7-3 5M74 54l0 4 4 5 4 3 0 4 2 6M81-13l6 4 5 3 2 5M97 48l3 7 4 2 4 4 6 1 4 4 3 6-5 0-5 3-6 1 4 4-4 6-2 5-2 4-3 4-2 6-4 4 5 6M114 41l-4 4-2 5 2 6 1 4 1 5 0 7 4 7 5 5-2 4-2 3 2 5 3 4-1 5 0 5M117 37l-2 5-5 0 3 7 2 6-4 2 1 5 4 2 4 4M142 16l-1 5-4 5-6 1 1 5 2 4 3 6-4 4M169-17l1 5 5 5-5 4 2 4 3 6M192 57l-4 1-6 6-6 0M185 92l-3 3 5 3M185-8l2 7 4 4 5 2 5 5 1 6M200-34l-6 2 5 3M231 45l-2 4 0 5-2 5 1 6-3 6-2 4-3 5-2 6-1 8 4 1 2 7-4 6"/>
<path stroke="#5252e0" d="M1 5l4 0 5 4 6 3 4 3-2 4-1 6-1 5M7 13l5 3 4 2-6 0-2 4-7 1 6 4-8 1 3 4 3 3 0 6 0 4 4 4 2 5-4 5-6 4M247 78l6 4M11-26l6 1 1 6 1 7-1 7 3 7-1 5 2 4 6 4M21 59l2 6M64 15l6 0 2 4-1 5-1 6 5 2-4 5-5 0-6 3 4 2 2 7-5 4-3 4 5 1 2 4 4 5 0 5-5 1 1 6-4 3 5 3M78 37l1 4-5 5-2 3-2 5 5 0M122 1l5 1 2 6 3 6 0 6M132 108l1 5 0 6 2 6 3 3-7 0M136 58l-2 6 5 0 3 3-2 6 3 3-2 6M194 99l-4 4 2 5M192 65l-3 7-1 6 0 7 6 2 0 8 2 4 5 0 4 5 3 4-4 0-6 4 2 6-1 6M213-12l1 4 4 6 3 5-2 3 5 5-5 3 0 6-4 2 7 1-2 6 5 5M220 89l-5 3-2 5-3 6 1 6-1 5 6 4 3 3 4 0 5 1-6 2-6 2M236-43l-6 4M226-36l-6 2 3 5 2 7-4 6 2 7M235 0l5 4 0 7 2 7 0 6-4 3 6 4-5 1 1 6-7 0 2 6-8 1-6 0-1 6-2 3-2 7 1 5 5 0 5 1 6 0 5 2M234 62l1 5M237 78l-7 2 6 5 3 6-3 7 1 7-1 5 0 7-4 5-3 3 2 5M241 12l4 5-4 3 1 4-3 5-5 2-2 4-7 2 0 7M242 95l-4 1"/>
<path stroke="#7474e8" d="M23-33l-7 0 3 5-6 5 5 3 3 4-2 5-4 1 0 5-3 2-1 5 0 7-4 6 2 3 1 7 5 1 5 0M39-9l0 6-3 5-7 0 5 4-7 1-5 5 5 5-1 7-7 2 1 6M31 67l-5 3M35 26l-1 7 4 1 3 6 5 5 4 5-4 3-5 6 6 5 7 0 4 5-5 1M31-27l3 3-5 4-5 4-4 6 2 5 7 2 7 1 5 3 5 0 1 6-1 6 3 3-4 5-3 6 6 2M65 19l7 1 4 4-3 6 2 7 2 4M65 30l1 5-5 1-1 4-4 5 4 5 1 7-1 4 3 5 2 5 3 5 0 5-2 6M90 34l1 7-5 1-3 4-5 4 3 3 3 3M125 59l4 3 4 3 5 5-2 6-5 2 0 6 5 1-4 3-1 5M132-20l5 3-4 1 5 2-1 5-5 1-5 2-4 3 0 8-3 3 1 5-3 5 5 5 6 4 4 4 8 1-3 3 3 1-4 1 4 2-5 1 3 3M117 104l-3 4 1 5M160 11l-4 2 5 2M154 22l-5 0 5 5M138 86l-1 4M178 29l-3 5-2 6 7 3-2 6M180-25l4 1-3 5-5 5 2 5 6 1 6 2 5 5 4 5M209 20l-5 1-6 3 5 2 0 8 2 3 0 7 2 6-2 4-3 5-1 5M193 58l7 2M196-24l4 0 0 8 4 4-4 3-3 7 4 4-6 3-3 5-2 4 3 3 7 1-5 5-1 4 0 7M208 24l-2 4-4 3 2 7 4 3 4 5 3 4-1 6-7 2-3 7-3 7 4 4-6 2 5 5-5 4M208 54l-4 3 6 2-4 4 0 8-4 1 1 6 2 7 0 7 2 3-4 4 3 4-6 3-6 3 1 6 3 5 1 6M223-53l-1 6-6 0-6 5 6 0 4 5 6 1 0 5 0 7 3 4-4 6 2 7 2 7M218 5l6 2"/>
<path stroke="#9c9cf0" d="M8-46l0 4 0 5-4 2-3 6-2 6M248 126l-6 4M23 19l-5 1-1 7-3 5 4 1-2 5 6 0 0 7M37-10l4 5 4 2 5 5 3 4-3 3-5 0-6 3-3 6-1 3-2 4 5 6M51 17l-3 6 5 3 4 2 0 5M71-33l4 3 1 4 0 5-3 3 2 7-4 3 1 7-7 3-6 3-1 5M78-32l7 1 1 7 1 6-7 1-2 5 4 5-6 2-3 3-4 4-4 6 1 6-5 6 3 6 1 4 2 6M80 85l-3 4 5 4 2 4 1 4-3 4-5 1 2 7M89-65l-4 0-1 7-1 5-2 4-7 1 2 3-1 6 1 5 4 4 1 5M88-2l0 4 7 1 0 5-5 5-1 5-5 1 6 4-3 5-4 5 5 2-6 2 1 6-2 3-4 5-3 6 6 2-4 3-1 5M90 66l-2 6-4 4 3 3 1 6 5 3-2 6-2 6-6 2-5 5M97-8l-5 4-4 0-6 0 7 1-3 7 5 2 0 5 5 2 3 3-3 6-2 3M120 49l3 3-6 1-6 1M113 79l4 5-1 7-1 4-7 1 5 5 5 4-4 3-5 5 4 1 1 6 4 1 0 8M112-10l-3 6-4 6 1 5-4 1 5 1-1 5 3 4 4 1 2 4 5 1 3 6-1 7-3 2-3 3 4 6-1 4M128 22l-1 5-5 0-4 6M131 46l-4 2 2 6 5 4-4 4 4 4 0 6 2 5 1 6-5 1-7 1-3 5 4 2M137-41l4 5-4 4-5 4-2 5-2 6 4 4 2 7 7 1 0 5-5 5 0 5-6 4 2 4 5 4 6 0 2 6 1 7M148-44l1 6-2 6-6 3 3 5 5 3M152 46l-3 2-4 4 4 5 2 7-5 1-5 3-3 5-2 5 5 1-2 3M148 35l-1 4 3 3-2 6 1 5-4 4-5 6 3 5-6 5 7 0 3 7M161 94l5 1 5 2-1 4-5 5-1 5 6 4M183 45l-3 5 5 2M225 44l-7 1-2 6 4 2 0 7M226-24l-2 7 3 6-6 5-2 4 5 2M244-26l-2 4"/>
<path stroke="#4444dc" d="M3 82l2 3M9 37l6 2 2 5 1 6-3 7-3 4-1 5 0 6 1 6 1 6 2 7-5 2-3 6 4 5M17 94l-3 5 2 4M25 16l4 0 1 7 4 1 2 7M55-37l1 4 2 7-7 1 5 1 3 6-5 4 2 4 4 3-4 2-7 1M51 22l0 7 4 1-5 5 0 5-4 2 0 4-3 4-3 5 2 6-3 4-1 6 8 0 5 2 6 3-4 3 4 1-7 1-1 6-6 4-3 4M63 0l3 6 1 4-5 1 6 3-1 6-6 2M74 120l7 2 4 6-7 1 2 5 5 0 3 6M158-43l-2 5 4 3-5 3-4 5 4 7 0 5-2 5 0 5-1 4 7 4 2 3 3 7-2 6 3 3-1 7M164-25l4 1 0 7 3 5 5 4 1 4-3 6-1 4 2 6-1 5-1 6-3 2-3 4-6 5 0 4M162 38l4 2 6 1-2 6-6 4-1 4 1 7 0 6 0 5-1 6-5 3-6 0-5 3-1 7M199 14l-1 4-2 4 1 4-5 3-5 0-1 7-7 1M191 35l5 0 4 3 3 5-2 6-2 5 1 7-4 6-2 4-3 2 1 5 4 5-5 2 0 5 5 5M198-8l7 1 0 6-4 1-3 4-4 5 3 6 2 5 6 0M222 6l-4 6-4 4 2 6-4 4-7 2 4 3 3 3-3 3-2 6 1 7-2 4-4 5 4 2 4 6 5 0 6 2M230 40l-1 4 4 4 4 7 0 6 2 4 4 4-2 4 4 4 1 6"/>
<path stroke="#de5656" d="M252-4l-7 2 3 4M28 15l0 4-5 0M53 70l-5 4-4 0-4 5 3 7-5 4M49-4l-1 7 3 4 1 5-1 5M57-40l-1 5 2 4 4 6 1 5-5 0 4 3-6 2 2 5 3 4 2 6M58 10l1 4 0 4 6 1M81-25l-5 4 2 4 3 4M108-18l3 4 6 0-1 6 4 2-2 4 4 0-3 4-6 0 5 3 0 6-1 5 0 7 1 4 3 5-2 4 2 7-6 3 5 3M132 20l-4 2M139 43l-4 5-1 6M133 46l4 6-1 6M149-21l2 6 2 7 4 6-3 5 5 0 1 8M154 27l-3 5M151 18l-5 0-2 7 1 6 5 2 0 4 0 4 2 5M175 7l-4 3 1 4-6 2 6 2 4 6 2 5M199 4l-5 6 5 4M187 98l0 8 4 1-3 5M202 16l0 6-7 0-6 2 1 5-2 6-7 4 6 2 0 4 2 6M205 20l4 0M224 0l4 2 1 4 6 3 1 6-2 4-2 4-6 1-2 4-4 3-1 6-2 5 0 4"/>
<path stroke="#e67878" d="M251 63l-6 3 1 6-5 5 6 1M20 26l-5 1 4 7-5 0-2 5M20 81l-2 6-1 7M36 31l0 7-2 6-2 6-1 5-2 6 2 6M33-33l-1 5-1 4 1 7 4 3 1 4M40-37l-4 5 0 5-5 0M40 17l3 7-4 5-6 2M75 54l2 4 0 6-3 6 2 5 2 6 2 4M73 49l1 5M94-1l-7 1 3 5-3 4M78 107l-4 4-1 5-3 4 4 0M131 93l-4 0-3 4 6 0 4 2-5 1 4 2-1 6M126 92l-3 2-3 5-3 5M163 31l5 3-6 4M146 92l-4 5M173 47l-1 5-3 5 6 0-3 2 1 7-4 6-6 4 2 7-1 6-3 5M185 52l5 0 2 5M176 64l0 6 1 6-3 5 1 4 6 2 4 5M191-25l-3 6 1 6-4 5M197 49l-4 4 0 5M200 60l-2 5-6 0M229 0l-3 3 4 6-6 0 6 1-4 4 3 4M222 62l2 7 3 4 0 5 1 6-4 3-4 2M230-39l-4 3M242-22l-2 4 4 2-2 5-1 5 2 5 2 7-4 6M243 29l-4 2-5 0-1 5-3 4"/>
<path stroke="#ee9898" d="M18 44l3 6 3 6-3 3M23 65l4 2 0 6 5 3-4 5M28-33l4 3 5 2 1 6 2 4-1 4 0 5M26 70l-1 5-1 7 1 7M66 87l2 7-2 4M81-40l2 4-1 6-7 1-3 2 1 8-4 3 6 1 4 6 2 6-1 5-1 5-1 5 0 5 3 6-7 1 6 2 0 7M94 25l-3 4-1 5M109 52l-1 7 0 4 2 5 0 7 3 4M118 33l-1 4M161 15l-5 1-2 6M139 82l-1 4M153 21l-3 3 0 6-2 5M147 80l0 6M196 95l-2 4M199-29l-3 5M225 34l0 6 0 4M228 34l-2 5 1 4 4 2M232-55l-5 0 6 1 3 7-5 0 5 4M223-9l5 0-3 7 5 3-6 1-6 3M238 69l2 5M235 67l-1 5 3 6M246 83l1 8-5 4"/></g></symbol>
<clipPath id="cb1"><path clip-rule="evenodd" d="M194.5 623.5H440.5V1814.5H194.5ZM194.5 716.0H440.5V916.0H194.5ZM194.5 1128.0H440.5V1328.0H194.5ZM194.5 1531.0H440.5V1731.0H194.5Z"/></clipPath>
<clipPath id="cp1"><path d="M194.5 716.0H440.5V916.0H194.5ZM194.5 1128.0H440.5V1328.0H194.5ZM194.5 1531.0H440.5V1731.0H194.5Z"/></clipPath>
<clipPath id="cb2"><path clip-rule="evenodd" d="M477.3 627.0H706.0V1812.5H477.3ZM477.3 720.0H706.0V920.0H477.3ZM477.3 1112.0H706.0V1312.0H477.3ZM477.3 1511.0H706.0V1711.0H477.3Z"/></clipPath>
<clipPath id="cp2"><path d="M477.3 720.0H706.0V920.0H477.3ZM477.3 1112.0H706.0V1312.0H477.3ZM477.3 1511.0H706.0V1711.0H477.3Z"/></clipPath>
<clipPath id="cb3"><path clip-rule="evenodd" d="M741.0 624.5H954.5V1811.0H741.0ZM741.0 716.0H954.5V916.0H741.0ZM741.0 1112.0H954.5V1312.0H741.0ZM741.0 1507.0H954.5V1707.0H741.0Z"/></clipPath>
<clipPath id="cp3"><path d="M741.0 716.0H954.5V916.0H741.0ZM741.0 1112.0H954.5V1312.0H741.0ZM741.0 1507.0H954.5V1707.0H741.0Z"/></clipPath>
<clipPath id="cb4"><path clip-rule="evenodd" d="M993.5 624.0H1196.0V1798.0H993.5ZM993.5 624.0H1196.0V652.0H993.5ZM993.5 1764.0H1196.0V1798.0H993.5ZM993.5 718.0H1196.0V918.0H993.5ZM993.5 1105.0H1196.0V1305.0H993.5ZM993.5 1488.0H1196.0V1688.0H993.5Z"/></clipPath>
<clipPath id="cp4"><path d="M993.5 718.0H1196.0V918.0H993.5ZM993.5 1105.0H1196.0V1305.0H993.5ZM993.5 1488.0H1196.0V1688.0H993.5Z"/></clipPath>
</defs>
<g stroke-width="1" stroke-opacity="0.85">
<g clip-path="url(#cb1)">
<use href="#tb" transform="translate(191.3 597.4) scale(-1 1) translate(-250 0)"/>
<use href="#tb" transform="translate(190.7 997.4)"/>
<use href="#tb" transform="translate(193.3 1397.4) scale(-1 1) translate(-250 0)"/>
<use href="#tb" transform="translate(191.4 1797.4)"/>
</g>
<g clip-path="url(#cp1)">
<use href="#tr" transform="translate(191.7 716.0)"/>
<use href="#tr" transform="translate(191.9 1128.0) scale(-1 1) translate(-250 0)"/>
<use href="#tr" transform="translate(194.1 1531.0)"/>
</g>
<g clip-path="url(#cb2)">
<use href="#tb" transform="translate(464.8 600.6)"/>
<use href="#tb" transform="translate(459.3 1000.6) scale(-1 1) translate(-250 0)"/>
<use href="#tb" transform="translate(458.2 1400.6)"/>
<use href="#tb" transform="translate(458.5 1800.6) scale(-1 1) translate(-250 0)"/>
</g>
<g clip-path="url(#cp2)">
<use href="#tr" transform="translate(469.5 720.0) scale(-1 1) translate(-250 0)"/>
<use href="#tr" transform="translate(457.1 1112.0)"/>
<use href="#tr" transform="translate(468.3 1511.0) scale(-1 1) translate(-250 0)"/>
</g>
<g clip-path="url(#cb3)">
<use href="#tb" transform="translate(722.7 612.3) scale(-1 1) translate(-250 0)"/>
<use href="#tb" transform="translate(735.1 1012.3)"/>
<use href="#tb" transform="translate(711.0 1412.3) scale(-1 1) translate(-250 0)"/>
</g>
<g clip-path="url(#cp3)">
<use href="#tr" transform="translate(732.6 716.0)"/>
<use href="#tr" transform="translate(720.8 1112.0) scale(-1 1) translate(-250 0)"/>
<use href="#tr" transform="translate(707.2 1507.0)"/>
</g>
<g clip-path="url(#cb4)">
<use href="#tb" transform="translate(948.8 586.9)"/>
<use href="#tb" transform="translate(958.0 986.9) scale(-1 1) translate(-250 0)"/>
<use href="#tb" transform="translate(950.4 1386.9)"/>
<use href="#tb" transform="translate(988.2 1786.9) scale(-1 1) translate(-250 0)"/>
</g>
<svg x="993.5" y="624.0" width="202.5" height="28.0" overflow="hidden"><use href="#ts" x="-11.6" y="0" transform="scale(1 0.467)"/></svg>
<svg x="993.5" y="1764.0" width="202.5" height="34.0" overflow="hidden"><use href="#ts" x="-8.6" y="0" transform="scale(1 0.567)"/></svg>
<g clip-path="url(#cp4)">
<use href="#tr" transform="translate(980.9 718.0) scale(-1 1) translate(-250 0)"/>
<use href="#tr" transform="translate(952.6 1105.0)"/>
<use href="#tr" transform="translate(977.9 1488.0) scale(-1 1) translate(-250 0)"/>
</g>
</g>
</svg></body></html>
